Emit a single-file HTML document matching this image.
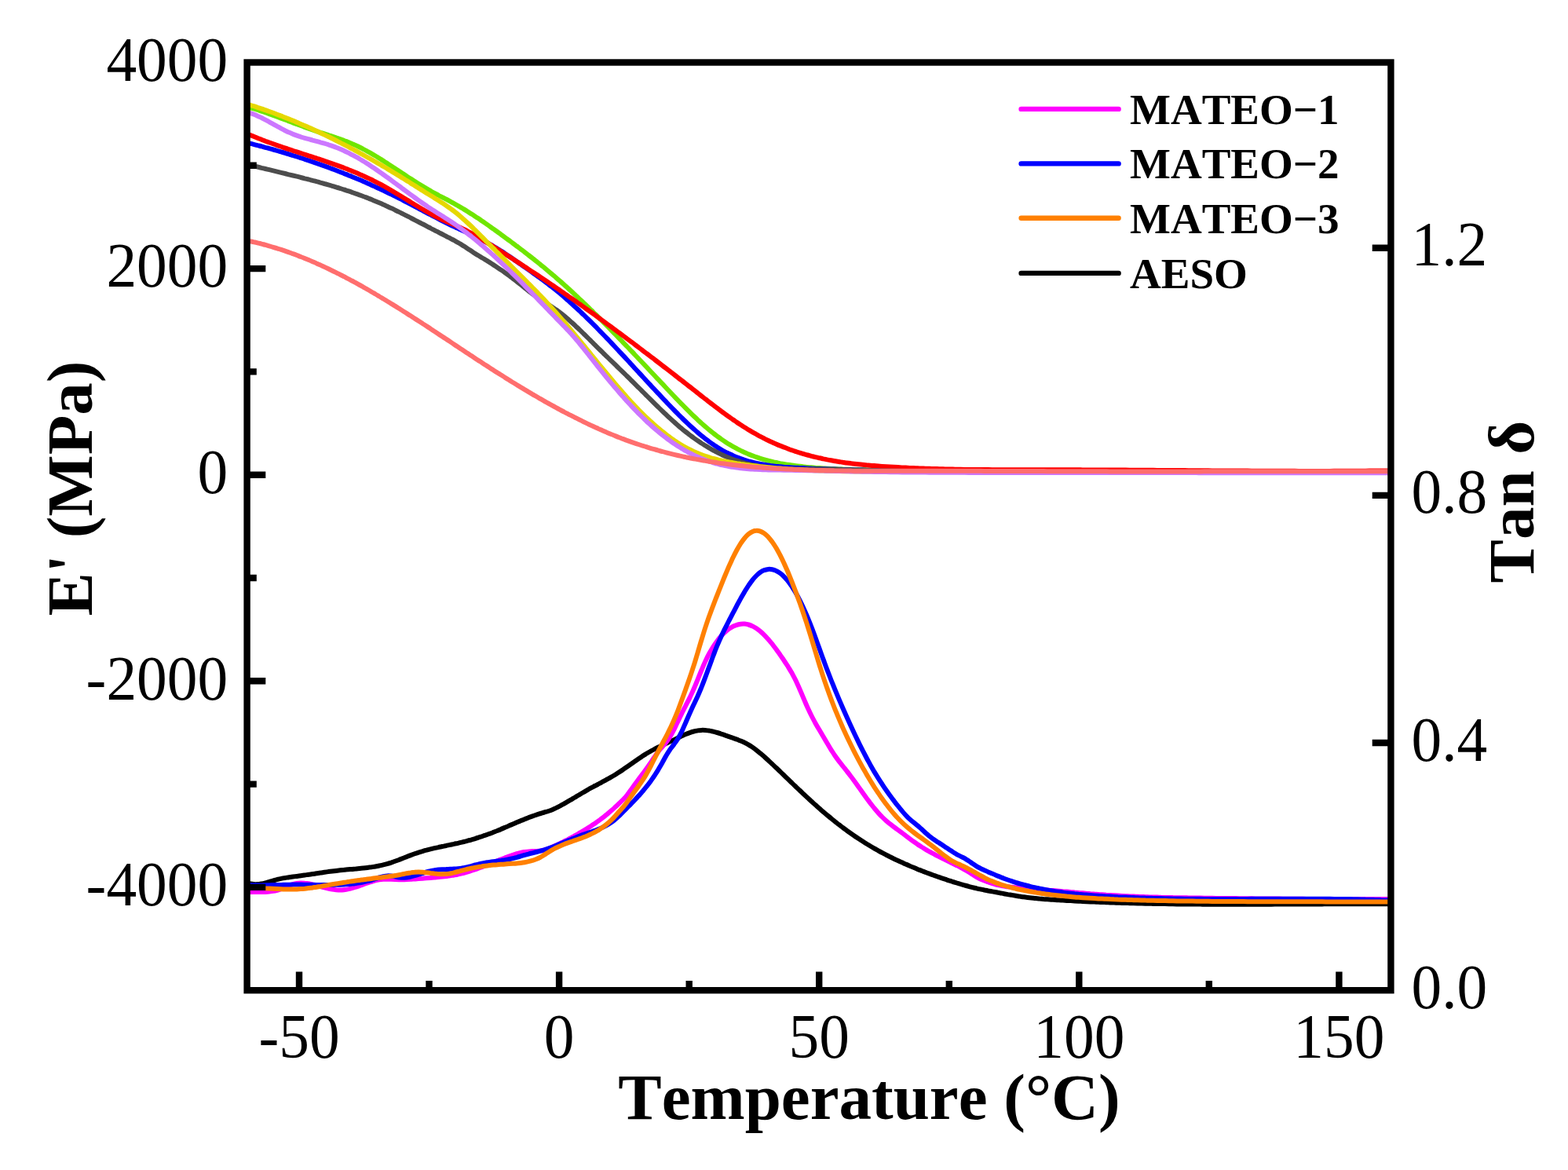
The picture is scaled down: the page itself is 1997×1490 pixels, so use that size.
<!DOCTYPE html>
<html><head><meta charset="utf-8"><title>DMA</title>
<style>html,body{margin:0;padding:0;background:#fff;overflow:hidden}svg{display:block}text{font-kerning:none;font-feature-settings:"kern" 0}</style>
</head><body>
<svg width="1997" height="1490" viewBox="0 0 1997 1490">
<rect width="1997" height="1490" fill="#fff"/>
<defs><clipPath id="pc"><rect x="314.6" y="79.5" width="1456.8" height="1181.7"/></clipPath></defs>
<g clip-path="url(#pc)" fill="none" stroke-width="6.0" stroke-linejoin="round" stroke-linecap="round">
<path stroke="#6fe600" d="M318.0 137.0 C318.8 137.2 321.3 137.9 323.0 138.5 C324.7 139.0 326.3 139.5 328.0 140.0 C329.7 140.5 331.3 141.1 333.0 141.6 C334.7 142.2 336.3 142.8 338.0 143.3 C339.7 143.9 341.3 144.5 343.0 145.1 C344.7 145.7 346.4 146.3 348.0 146.9 C349.7 147.5 351.4 148.1 353.0 148.7 C354.7 149.3 356.4 150.0 358.0 150.6 C359.7 151.2 361.4 151.8 363.0 152.5 C364.7 153.1 366.4 153.7 368.0 154.4 C369.7 155.0 371.4 155.6 373.0 156.3 C374.7 156.9 376.4 157.5 378.0 158.1 C379.7 158.8 381.4 159.4 383.0 160.0 C384.7 160.6 386.4 161.2 388.0 161.9 C389.7 162.5 391.4 163.1 393.1 163.7 C394.7 164.3 396.4 164.8 398.1 165.4 C399.7 166.0 401.4 166.6 403.1 167.1 C404.7 167.7 406.4 168.2 408.1 168.8 C409.7 169.3 411.4 169.9 413.1 170.4 C414.7 171.0 416.4 171.5 418.1 172.0 C419.7 172.6 421.4 173.1 423.1 173.7 C424.7 174.2 426.4 174.8 428.1 175.4 C429.7 175.9 431.4 176.5 433.1 177.1 C434.7 177.7 436.4 178.3 438.1 178.9 C439.8 179.6 441.4 180.2 443.1 180.9 C444.8 181.5 446.4 182.2 448.1 182.9 C449.8 183.6 451.4 184.4 453.1 185.1 C454.8 185.9 456.4 186.7 458.1 187.5 C459.8 188.3 461.4 189.2 463.1 190.1 C464.8 190.9 466.4 191.8 468.1 192.8 C469.8 193.7 471.4 194.6 473.1 195.6 C474.8 196.6 476.4 197.5 478.1 198.5 C479.8 199.5 481.4 200.6 483.1 201.6 C484.8 202.6 486.4 203.7 488.1 204.7 C489.8 205.8 491.5 206.9 493.1 207.9 C494.8 209.0 496.5 210.1 498.1 211.2 C499.8 212.3 501.5 213.4 503.1 214.5 C504.8 215.6 506.5 216.7 508.1 217.8 C509.8 218.9 511.5 220.0 513.1 221.1 C514.8 222.2 516.5 223.3 518.1 224.4 C519.8 225.5 521.5 226.6 523.1 227.6 C524.8 228.7 526.5 229.8 528.1 230.9 C529.8 231.9 531.5 233.0 533.1 234.0 C534.8 235.1 536.5 236.1 538.2 237.1 C539.8 238.1 541.5 239.1 543.2 240.1 C544.8 241.1 546.5 242.1 548.2 243.0 C549.8 244.0 551.5 244.9 553.2 245.8 C554.8 246.7 556.5 247.6 558.2 248.5 C559.8 249.4 561.5 250.2 563.2 251.1 C564.8 252.0 566.5 252.9 568.2 253.7 C569.8 254.6 571.5 255.5 573.2 256.4 C574.8 257.3 576.5 258.2 578.2 259.1 C579.8 260.0 581.5 261.0 583.2 262.0 C584.9 262.9 586.5 263.9 588.2 264.9 C589.9 265.9 591.5 266.9 593.2 267.9 C594.9 269.0 596.5 270.0 598.2 271.1 C599.9 272.1 601.5 273.2 603.2 274.3 C604.9 275.4 606.5 276.5 608.2 277.6 C609.9 278.7 611.5 279.8 613.2 281.0 C614.9 282.1 616.5 283.2 618.2 284.4 C619.9 285.6 621.5 286.7 623.2 287.9 C624.9 289.1 626.5 290.3 628.2 291.4 C629.9 292.6 631.5 293.8 633.2 295.0 C634.9 296.2 636.6 297.5 638.2 298.7 C639.9 299.9 641.6 301.1 643.2 302.3 C644.9 303.6 646.6 304.8 648.2 306.0 C649.9 307.3 651.6 308.5 653.2 309.8 C654.9 311.0 656.6 312.3 658.2 313.5 C659.9 314.8 661.6 316.0 663.2 317.3 C664.9 318.6 666.6 319.8 668.2 321.1 C669.9 322.4 671.6 323.7 673.2 325.0 C674.9 326.3 676.6 327.6 678.2 328.9 C679.9 330.2 681.6 331.6 683.3 332.9 C684.9 334.2 686.6 335.6 688.3 336.9 C689.9 338.3 691.6 339.6 693.3 341.0 C694.9 342.4 696.6 343.8 698.3 345.2 C699.9 346.6 701.6 348.0 703.3 349.4 C704.9 350.8 706.6 352.2 708.3 353.7 C709.9 355.1 711.6 356.6 713.3 358.0 C714.9 359.5 716.6 361.0 718.3 362.5 C719.9 363.9 721.6 365.5 723.3 367.0 C724.9 368.5 726.6 370.0 728.3 371.5 C730.0 373.1 731.6 374.6 733.3 376.2 C735.0 377.7 736.6 379.3 738.3 380.9 C740.0 382.4 741.6 384.0 743.3 385.6 C745.0 387.2 746.6 388.8 748.3 390.4 C750.0 392.0 751.6 393.7 753.3 395.3 C755.0 396.9 756.6 398.6 758.3 400.2 C760.0 401.9 761.6 403.5 763.3 405.2 C765.0 406.8 766.6 408.5 768.3 410.2 C770.0 411.9 771.6 413.5 773.3 415.2 C775.0 416.9 776.6 418.6 778.3 420.3 C780.0 422.0 781.7 423.7 783.3 425.4 C785.0 427.1 786.7 428.9 788.3 430.6 C790.0 432.3 791.7 434.0 793.3 435.8 C795.0 437.5 796.7 439.2 798.3 441.0 C800.0 442.7 801.7 444.5 803.3 446.2 C805.0 448.0 806.7 449.7 808.3 451.5 C810.0 453.2 811.7 455.0 813.3 456.7 C815.0 458.5 816.7 460.3 818.3 462.0 C820.0 463.8 821.7 465.6 823.3 467.3 C825.0 469.1 826.7 470.9 828.4 472.7 C830.0 474.4 831.7 476.2 833.4 478.0 C835.0 479.8 836.7 481.5 838.4 483.3 C840.0 485.1 841.7 486.9 843.4 488.6 C845.0 490.4 846.7 492.2 848.4 494.0 C850.0 495.7 851.7 497.5 853.4 499.3 C855.0 501.0 856.7 502.8 858.4 504.5 C860.0 506.3 861.7 508.0 863.4 509.7 C865.0 511.4 866.7 513.1 868.4 514.8 C870.0 516.5 871.7 518.2 873.4 519.9 C875.1 521.6 876.7 523.2 878.4 524.8 C880.1 526.5 881.7 528.1 883.4 529.7 C885.1 531.3 886.7 532.8 888.4 534.4 C890.1 535.9 891.7 537.5 893.4 539.0 C895.1 540.4 896.7 541.9 898.4 543.4 C900.1 544.8 901.7 546.2 903.4 547.6 C905.1 549.0 906.7 550.3 908.4 551.6 C910.1 553.0 911.7 554.2 913.4 555.5 C915.1 556.7 916.7 557.9 918.4 559.1 C920.1 560.3 921.7 561.4 923.4 562.5 C925.1 563.6 926.8 564.7 928.4 565.7 C930.1 566.7 931.8 567.7 933.4 568.6 C935.1 569.6 936.8 570.5 938.4 571.3 C940.1 572.2 941.8 573.1 943.4 573.9 C945.1 574.7 946.8 575.5 948.4 576.2 C950.1 576.9 951.8 577.7 953.4 578.4 C955.1 579.0 956.8 579.7 958.4 580.3 C960.1 581.0 961.8 581.6 963.4 582.1 C965.1 582.7 966.8 583.3 968.4 583.8 C970.1 584.3 971.8 584.8 973.5 585.3 C975.1 585.8 976.8 586.2 978.5 586.7 C980.1 587.1 981.8 587.5 983.5 587.9 C985.1 588.3 986.8 588.7 988.5 589.0 C990.1 589.4 991.8 589.7 993.5 590.1 C995.1 590.4 996.8 590.7 998.5 591.0 C1000.1 591.3 1001.8 591.5 1003.5 591.8 C1005.1 592.1 1006.8 592.3 1008.5 592.5 C1010.1 592.8 1011.8 593.0 1013.5 593.2 C1015.1 593.4 1016.8 593.6 1018.5 593.8 C1020.2 594.0 1021.8 594.2 1023.5 594.4 C1025.2 594.6 1026.8 594.7 1028.5 594.9 C1030.2 595.1 1031.8 595.2 1033.5 595.3 C1035.2 595.5 1036.8 595.6 1038.5 595.8 C1040.2 595.9 1041.8 596.0 1043.5 596.1 C1045.2 596.2 1046.8 596.3 1048.5 596.4 C1050.2 596.5 1051.8 596.6 1053.5 596.7 C1055.2 596.8 1056.8 596.9 1058.5 597.0 C1060.2 597.1 1061.8 597.1 1063.5 597.2 C1065.2 597.3 1066.8 597.3 1068.5 597.4 C1070.2 597.5 1071.9 597.5 1073.5 597.6 C1075.2 597.6 1076.9 597.7 1078.5 597.7 C1080.2 597.8 1081.9 597.8 1083.5 597.8 C1085.2 597.9 1086.9 597.9 1088.5 598.0 C1090.2 598.0 1091.9 598.0 1093.5 598.1 C1095.2 598.1 1096.9 598.1 1098.5 598.2 C1100.2 598.2 1101.9 598.2 1103.5 598.3 C1105.2 598.3 1106.9 598.3 1108.5 598.4 C1110.2 598.4 1111.9 598.4 1113.5 598.5 C1115.2 598.5 1116.9 598.5 1118.6 598.6 C1120.2 598.6 1121.9 598.6 1123.6 598.7 C1125.2 598.7 1126.9 598.7 1128.6 598.7 C1130.2 598.8 1131.9 598.8 1133.6 598.8 C1135.2 598.8 1136.9 598.9 1138.6 598.9 C1140.2 598.9 1141.9 599.0 1143.6 599.0 C1145.2 599.0 1146.9 599.0 1148.6 599.1 C1150.2 599.1 1151.9 599.1 1153.6 599.1 C1155.2 599.2 1156.9 599.2 1158.6 599.2 C1160.2 599.2 1161.9 599.3 1163.6 599.3 C1165.3 599.3 1166.9 599.3 1168.6 599.3 C1170.3 599.4 1171.9 599.4 1173.6 599.4 C1175.3 599.4 1176.9 599.4 1178.6 599.5 C1180.3 599.5 1181.9 599.5 1183.6 599.5 C1185.3 599.5 1186.9 599.6 1188.6 599.6 C1190.3 599.6 1191.9 599.6 1193.6 599.6 C1195.3 599.7 1196.9 599.7 1198.6 599.7 C1200.3 599.7 1201.9 599.7 1203.6 599.8 C1205.3 599.8 1206.9 599.8 1208.6 599.8 C1210.3 599.8 1211.9 599.8 1213.6 599.9 C1215.3 599.9 1217.0 599.9 1218.6 599.9 C1220.3 599.9 1222.0 599.9 1223.6 599.9 C1225.3 600.0 1227.0 600.0 1228.6 600.0 C1230.3 600.0 1232.0 600.0 1233.6 600.0 C1235.3 600.0 1237.0 600.1 1238.6 600.1 C1240.3 600.1 1242.0 600.1 1243.6 600.1 C1245.3 600.1 1247.0 600.1 1248.6 600.2 C1250.3 600.2 1252.0 600.2 1253.6 600.2 C1255.3 600.2 1257.0 600.2 1258.6 600.2 C1260.3 600.2 1262.0 600.2 1263.7 600.3 C1265.3 600.3 1267.0 600.3 1268.7 600.3 C1270.3 600.3 1272.0 600.3 1273.7 600.3 C1275.3 600.3 1277.0 600.3 1278.7 600.4 C1280.3 600.4 1282.0 600.4 1283.7 600.4 C1285.3 600.4 1287.0 600.4 1288.7 600.4 C1290.3 600.4 1292.0 600.4 1293.7 600.4 C1295.3 600.4 1297.0 600.4 1298.7 600.5 C1300.3 600.5 1302.0 600.5 1303.7 600.5 C1305.3 600.5 1307.0 600.5 1308.7 600.5 C1310.4 600.5 1312.0 600.5 1313.7 600.5 C1315.4 600.5 1317.0 600.5 1318.7 600.6 C1320.4 600.6 1322.0 600.6 1323.7 600.6 C1325.4 600.6 1327.0 600.6 1328.7 600.6 C1330.4 600.6 1332.0 600.6 1333.7 600.6 C1335.4 600.6 1337.0 600.6 1338.7 600.6 C1340.4 600.6 1342.0 600.6 1343.7 600.6 C1345.4 600.7 1347.0 600.7 1348.7 600.7 C1350.4 600.7 1352.0 600.7 1353.7 600.7 C1355.4 600.7 1357.0 600.7 1358.7 600.7 C1360.4 600.7 1362.1 600.7 1363.7 600.7 C1365.4 600.7 1367.1 600.7 1368.7 600.7 C1370.4 600.7 1372.1 600.7 1373.7 600.7 C1375.4 600.7 1377.1 600.7 1378.7 600.7 C1380.4 600.8 1382.1 600.8 1383.7 600.8 C1385.4 600.8 1387.1 600.8 1388.7 600.8 C1390.4 600.8 1392.1 600.8 1393.7 600.8 C1395.4 600.8 1397.1 600.8 1398.7 600.8 C1400.4 600.8 1402.1 600.8 1403.7 600.8 C1405.4 600.8 1407.1 600.8 1408.8 600.8 C1410.4 600.8 1412.1 600.8 1413.8 600.8 C1415.4 600.8 1417.1 600.8 1418.8 600.8 C1420.4 600.8 1422.1 600.8 1423.8 600.8 C1425.4 600.8 1427.1 600.8 1428.8 600.8 C1430.4 600.8 1432.1 600.8 1433.8 600.8 C1435.4 600.8 1437.1 600.8 1438.8 600.8 C1440.4 600.8 1442.1 600.9 1443.8 600.9 C1445.4 600.9 1447.1 600.9 1448.8 600.9 C1450.4 600.9 1452.1 600.9 1453.8 600.9 C1455.5 600.9 1457.1 600.9 1458.8 600.9 C1460.5 600.9 1462.1 600.9 1463.8 600.9 C1465.5 600.9 1467.1 600.9 1468.8 600.9 C1470.5 600.9 1472.1 600.9 1473.8 600.9 C1475.5 600.9 1477.1 600.9 1478.8 600.9 C1480.5 600.9 1482.1 600.9 1483.8 600.9 C1485.5 600.9 1487.1 600.9 1488.8 600.9 C1490.5 600.9 1492.1 600.9 1493.8 600.9 C1495.5 600.9 1497.1 600.9 1498.8 600.9 C1500.5 600.9 1502.1 600.9 1503.8 600.9 C1505.5 600.9 1507.2 600.9 1508.8 600.9 C1510.5 600.9 1512.2 600.9 1513.8 600.9 C1515.5 600.9 1517.2 600.9 1518.8 600.9 C1520.5 600.9 1522.2 600.9 1523.8 600.9 C1525.5 600.9 1527.2 600.9 1528.8 600.9 C1530.5 600.9 1532.2 600.9 1533.8 600.9 C1535.5 600.9 1537.2 600.9 1538.8 600.9 C1540.5 600.9 1542.2 600.9 1543.8 600.9 C1545.5 600.9 1547.2 600.9 1548.8 600.9 C1550.5 600.9 1552.2 600.9 1553.9 600.9 C1555.5 600.9 1557.2 600.9 1558.9 600.9 C1560.5 600.9 1562.2 600.9 1563.9 600.9 C1565.5 600.9 1567.2 600.9 1568.9 600.9 C1570.5 600.9 1572.2 600.9 1573.9 600.9 C1575.5 600.9 1577.2 600.9 1578.9 600.9 C1580.5 600.9 1582.2 600.9 1583.9 600.9 C1585.5 600.9 1587.2 600.9 1588.9 600.9 C1590.5 600.9 1592.2 600.9 1593.9 600.9 C1595.5 600.9 1597.2 600.9 1598.9 600.9 C1600.6 600.9 1602.2 600.9 1603.9 600.9 C1605.6 600.9 1607.2 600.9 1608.9 600.9 C1610.6 600.9 1612.2 600.9 1613.9 600.9 C1615.6 600.9 1617.2 600.9 1618.9 600.9 C1620.6 600.9 1622.2 600.9 1623.9 600.9 C1625.6 600.9 1627.2 600.9 1628.9 600.9 C1630.6 600.9 1632.2 600.9 1633.9 600.9 C1635.6 600.9 1637.2 600.9 1638.9 600.9 C1640.6 600.9 1642.2 600.9 1643.9 600.9 C1645.6 600.9 1647.2 600.9 1648.9 600.9 C1650.6 600.9 1652.3 600.9 1653.9 600.9 C1655.6 600.9 1657.3 600.9 1658.9 600.9 C1660.6 600.9 1662.3 600.9 1663.9 600.9 C1665.6 600.9 1667.3 600.9 1668.9 600.9 C1670.6 600.9 1672.3 600.9 1673.9 600.9 C1675.6 600.9 1677.3 600.9 1678.9 600.9 C1680.6 600.9 1682.3 600.9 1683.9 600.9 C1685.6 600.9 1687.3 600.9 1688.9 600.9 C1690.6 600.9 1692.3 600.9 1693.9 600.9 C1695.6 600.9 1697.3 600.9 1699.0 600.9 C1700.6 600.9 1702.3 600.9 1704.0 600.9 C1705.6 600.9 1707.3 600.9 1709.0 600.9 C1710.6 600.9 1712.3 600.9 1714.0 600.9 C1715.6 601.0 1717.3 601.0 1719.0 601.0 C1720.6 601.0 1722.3 601.0 1724.0 601.0 C1725.6 601.0 1727.3 601.0 1729.0 601.0 C1730.6 601.0 1732.3 601.0 1734.0 601.0 C1735.6 601.0 1737.3 601.0 1739.0 601.0 C1740.6 601.0 1742.3 601.0 1744.0 601.0 C1745.7 601.0 1747.3 601.0 1749.0 601.0 C1750.7 601.0 1752.3 601.0 1754.0 601.0 C1755.7 601.0 1757.3 601.0 1759.0 601.0 C1760.7 601.0 1762.3 601.0 1764.0 601.1 C1765.7 601.1 1768.2 601.1 1769.0 601.1"/>
<path stroke="#0000ff" d="M318.0 182.5 C318.8 182.7 321.3 183.4 323.0 183.8 C324.7 184.2 326.3 184.6 328.0 185.1 C329.7 185.5 331.3 186.0 333.0 186.4 C334.7 186.9 336.3 187.3 338.0 187.8 C339.7 188.2 341.3 188.7 343.0 189.1 C344.7 189.6 346.4 190.1 348.0 190.5 C349.7 191.0 351.4 191.5 353.0 192.0 C354.7 192.5 356.4 192.9 358.0 193.4 C359.7 193.9 361.4 194.4 363.0 194.9 C364.7 195.4 366.4 195.9 368.0 196.4 C369.7 196.9 371.4 197.5 373.0 198.0 C374.7 198.5 376.4 199.0 378.0 199.5 C379.7 200.1 381.4 200.6 383.0 201.2 C384.7 201.7 386.4 202.2 388.0 202.8 C389.7 203.3 391.4 203.9 393.1 204.4 C394.7 205.0 396.4 205.6 398.1 206.1 C399.7 206.7 401.4 207.3 403.1 207.9 C404.7 208.4 406.4 209.0 408.1 209.6 C409.7 210.2 411.4 210.8 413.1 211.4 C414.7 212.0 416.4 212.6 418.1 213.2 C419.7 213.9 421.4 214.5 423.1 215.1 C424.7 215.7 426.4 216.4 428.1 217.0 C429.7 217.6 431.4 218.3 433.1 218.9 C434.7 219.6 436.4 220.2 438.1 220.9 C439.8 221.6 441.4 222.2 443.1 222.9 C444.8 223.6 446.4 224.2 448.1 224.9 C449.8 225.6 451.4 226.3 453.1 227.0 C454.8 227.7 456.4 228.4 458.1 229.1 C459.8 229.8 461.4 230.5 463.1 231.3 C464.8 232.0 466.4 232.7 468.1 233.5 C469.8 234.2 471.4 234.9 473.1 235.7 C474.8 236.4 476.4 237.2 478.1 238.0 C479.8 238.7 481.4 239.5 483.1 240.3 C484.8 241.0 486.4 241.8 488.1 242.6 C489.8 243.4 491.5 244.2 493.1 245.0 C494.8 245.8 496.5 246.6 498.1 247.4 C499.8 248.2 501.5 249.1 503.1 249.9 C504.8 250.7 506.5 251.6 508.1 252.4 C509.8 253.3 511.5 254.1 513.1 255.0 C514.8 255.8 516.5 256.7 518.1 257.6 C519.8 258.4 521.5 259.3 523.1 260.2 C524.8 261.1 526.5 261.9 528.1 262.8 C529.8 263.7 531.5 264.6 533.1 265.5 C534.8 266.4 536.5 267.3 538.2 268.1 C539.8 269.0 541.5 269.9 543.2 270.8 C544.8 271.7 546.5 272.6 548.2 273.4 C549.8 274.3 551.5 275.2 553.2 276.0 C554.8 276.9 556.5 277.8 558.2 278.6 C559.8 279.5 561.5 280.4 563.2 281.2 C564.8 282.0 566.5 282.9 568.2 283.7 C569.8 284.5 571.5 285.4 573.2 286.2 C574.8 287.0 576.5 287.8 578.2 288.6 C579.8 289.4 581.5 290.1 583.2 290.9 C584.9 291.7 586.5 292.5 588.2 293.2 C589.9 294.0 591.5 294.8 593.2 295.5 C594.9 296.3 596.5 297.1 598.2 297.9 C599.9 298.6 601.5 299.4 603.2 300.2 C604.9 301.0 606.5 301.8 608.2 302.6 C609.9 303.5 611.5 304.3 613.2 305.2 C614.9 306.0 616.5 306.9 618.2 307.8 C619.9 308.7 621.5 309.6 623.2 310.6 C624.9 311.5 626.5 312.5 628.2 313.5 C629.9 314.5 631.5 315.5 633.2 316.5 C634.9 317.5 636.6 318.6 638.2 319.7 C639.9 320.7 641.6 321.8 643.2 322.9 C644.9 324.0 646.6 325.1 648.2 326.2 C649.9 327.4 651.6 328.5 653.2 329.6 C654.9 330.8 656.6 331.9 658.2 333.1 C659.9 334.3 661.6 335.4 663.2 336.6 C664.9 337.8 666.6 338.9 668.2 340.1 C669.9 341.3 671.6 342.5 673.2 343.6 C674.9 344.8 676.6 346.0 678.2 347.2 C679.9 348.4 681.6 349.6 683.3 350.8 C684.9 352.0 686.6 353.2 688.3 354.4 C689.9 355.6 691.6 356.8 693.3 358.1 C694.9 359.3 696.6 360.6 698.3 361.8 C699.9 363.1 701.6 364.4 703.3 365.7 C704.9 367.0 706.6 368.3 708.3 369.7 C709.9 371.0 711.6 372.4 713.3 373.8 C714.9 375.2 716.6 376.6 718.3 378.0 C719.9 379.5 721.6 380.9 723.3 382.4 C724.9 383.9 726.6 385.4 728.3 386.9 C730.0 388.4 731.6 389.9 733.3 391.5 C735.0 393.0 736.6 394.6 738.3 396.1 C740.0 397.7 741.6 399.3 743.3 400.9 C745.0 402.5 746.6 404.1 748.3 405.8 C750.0 407.4 751.6 409.0 753.3 410.7 C755.0 412.4 756.6 414.0 758.3 415.7 C760.0 417.4 761.6 419.1 763.3 420.8 C765.0 422.5 766.6 424.2 768.3 426.0 C770.0 427.7 771.6 429.4 773.3 431.2 C775.0 432.9 776.6 434.7 778.3 436.4 C780.0 438.2 781.7 440.0 783.3 441.7 C785.0 443.5 786.7 445.3 788.3 447.1 C790.0 448.9 791.7 450.6 793.3 452.4 C795.0 454.2 796.7 456.0 798.3 457.8 C800.0 459.6 801.7 461.4 803.3 463.3 C805.0 465.1 806.7 466.9 808.3 468.7 C810.0 470.5 811.7 472.3 813.3 474.1 C815.0 475.9 816.7 477.7 818.3 479.5 C820.0 481.3 821.7 483.2 823.3 485.0 C825.0 486.8 826.7 488.6 828.4 490.4 C830.0 492.2 831.7 494.0 833.4 495.8 C835.0 497.6 836.7 499.3 838.4 501.1 C840.0 502.9 841.7 504.7 843.4 506.5 C845.0 508.2 846.7 510.0 848.4 511.7 C850.0 513.5 851.7 515.2 853.4 517.0 C855.0 518.7 856.7 520.4 858.4 522.1 C860.0 523.8 861.7 525.5 863.4 527.2 C865.0 528.9 866.7 530.5 868.4 532.1 C870.0 533.8 871.7 535.4 873.4 537.0 C875.1 538.6 876.7 540.1 878.4 541.7 C880.1 543.2 881.7 544.7 883.4 546.2 C885.1 547.7 886.7 549.2 888.4 550.6 C890.1 552.0 891.7 553.4 893.4 554.8 C895.1 556.1 896.7 557.5 898.4 558.8 C900.1 560.1 901.7 561.3 903.4 562.6 C905.1 563.8 906.7 565.0 908.4 566.1 C910.1 567.3 911.7 568.4 913.4 569.4 C915.1 570.5 916.7 571.5 918.4 572.5 C920.1 573.5 921.7 574.4 923.4 575.3 C925.1 576.2 926.8 577.0 928.4 577.8 C930.1 578.6 931.8 579.4 933.4 580.1 C935.1 580.9 936.8 581.6 938.4 582.2 C940.1 582.9 941.8 583.5 943.4 584.1 C945.1 584.7 946.8 585.3 948.4 585.8 C950.1 586.4 951.8 586.9 953.4 587.4 C955.1 587.8 956.8 588.3 958.4 588.7 C960.1 589.1 961.8 589.5 963.4 589.9 C965.1 590.3 966.8 590.6 968.4 590.9 C970.1 591.2 971.8 591.5 973.5 591.8 C975.1 592.1 976.8 592.4 978.5 592.6 C980.1 592.8 981.8 593.1 983.5 593.3 C985.1 593.5 986.8 593.7 988.5 593.9 C990.1 594.0 991.8 594.2 993.5 594.3 C995.1 594.5 996.8 594.6 998.5 594.8 C1000.1 594.9 1001.8 595.0 1003.5 595.1 C1005.1 595.2 1006.8 595.3 1008.5 595.4 C1010.1 595.5 1011.8 595.6 1013.5 595.7 C1015.1 595.8 1016.8 595.8 1018.5 595.9 C1020.2 596.0 1021.8 596.1 1023.5 596.1 C1025.2 596.2 1026.8 596.3 1028.5 596.4 C1030.2 596.4 1031.8 596.5 1033.5 596.6 C1035.2 596.6 1036.8 596.7 1038.5 596.8 C1040.2 596.8 1041.8 596.9 1043.5 597.0 C1045.2 597.0 1046.8 597.1 1048.5 597.1 C1050.2 597.2 1051.8 597.3 1053.5 597.3 C1055.2 597.4 1056.8 597.4 1058.5 597.5 C1060.2 597.5 1061.8 597.6 1063.5 597.6 C1065.2 597.7 1066.8 597.7 1068.5 597.8 C1070.2 597.8 1071.9 597.9 1073.5 597.9 C1075.2 598.0 1076.9 598.0 1078.5 598.1 C1080.2 598.1 1081.9 598.2 1083.5 598.2 C1085.2 598.3 1086.9 598.3 1088.5 598.4 C1090.2 598.4 1091.9 598.4 1093.5 598.5 C1095.2 598.5 1096.9 598.6 1098.5 598.6 C1100.2 598.6 1101.9 598.7 1103.5 598.7 C1105.2 598.8 1106.9 598.8 1108.5 598.8 C1110.2 598.9 1111.9 598.9 1113.5 598.9 C1115.2 599.0 1116.9 599.0 1118.6 599.0 C1120.2 599.1 1121.9 599.1 1123.6 599.1 C1125.2 599.2 1126.9 599.2 1128.6 599.2 C1130.2 599.3 1131.9 599.3 1133.6 599.3 C1135.2 599.4 1136.9 599.4 1138.6 599.4 C1140.2 599.5 1141.9 599.5 1143.6 599.5 C1145.2 599.5 1146.9 599.6 1148.6 599.6 C1150.2 599.6 1151.9 599.7 1153.6 599.7 C1155.2 599.7 1156.9 599.7 1158.6 599.8 C1160.2 599.8 1161.9 599.8 1163.6 599.8 C1165.3 599.9 1166.9 599.9 1168.6 599.9 C1170.3 599.9 1171.9 600.0 1173.6 600.0 C1175.3 600.0 1176.9 600.0 1178.6 600.1 C1180.3 600.1 1181.9 600.1 1183.6 600.1 C1185.3 600.1 1186.9 600.2 1188.6 600.2 C1190.3 600.2 1191.9 600.2 1193.6 600.2 C1195.3 600.3 1196.9 600.3 1198.6 600.3 C1200.3 600.3 1201.9 600.3 1203.6 600.4 C1205.3 600.4 1206.9 600.4 1208.6 600.4 C1210.3 600.4 1211.9 600.5 1213.6 600.5 C1215.3 600.5 1217.0 600.5 1218.6 600.5 C1220.3 600.5 1222.0 600.6 1223.6 600.6 C1225.3 600.6 1227.0 600.6 1228.6 600.6 C1230.3 600.6 1232.0 600.6 1233.6 600.7 C1235.3 600.7 1237.0 600.7 1238.6 600.7 C1240.3 600.7 1242.0 600.7 1243.6 600.7 C1245.3 600.8 1247.0 600.8 1248.6 600.8 C1250.3 600.8 1252.0 600.8 1253.6 600.8 C1255.3 600.8 1257.0 600.8 1258.6 600.9 C1260.3 600.9 1262.0 600.9 1263.7 600.9 C1265.3 600.9 1267.0 600.9 1268.7 600.9 C1270.3 600.9 1272.0 600.9 1273.7 601.0 C1275.3 601.0 1277.0 601.0 1278.7 601.0 C1280.3 601.0 1282.0 601.0 1283.7 601.0 C1285.3 601.0 1287.0 601.0 1288.7 601.0 C1290.3 601.0 1292.0 601.1 1293.7 601.1 C1295.3 601.1 1297.0 601.1 1298.7 601.1 C1300.3 601.1 1302.0 601.1 1303.7 601.1 C1305.3 601.1 1307.0 601.1 1308.7 601.1 C1310.4 601.1 1312.0 601.2 1313.7 601.2 C1315.4 601.2 1317.0 601.2 1318.7 601.2 C1320.4 601.2 1322.0 601.2 1323.7 601.2 C1325.4 601.2 1327.0 601.2 1328.7 601.2 C1330.4 601.2 1332.0 601.2 1333.7 601.2 C1335.4 601.2 1337.0 601.2 1338.7 601.3 C1340.4 601.3 1342.0 601.3 1343.7 601.3 C1345.4 601.3 1347.0 601.3 1348.7 601.3 C1350.4 601.3 1352.0 601.3 1353.7 601.3 C1355.4 601.3 1357.0 601.3 1358.7 601.3 C1360.4 601.3 1362.1 601.3 1363.7 601.3 C1365.4 601.3 1367.1 601.3 1368.7 601.4 C1370.4 601.4 1372.1 601.4 1373.7 601.4 C1375.4 601.4 1377.1 601.4 1378.7 601.4 C1380.4 601.4 1382.1 601.4 1383.7 601.4 C1385.4 601.4 1387.1 601.4 1388.7 601.4 C1390.4 601.4 1392.1 601.4 1393.7 601.4 C1395.4 601.4 1397.1 601.4 1398.7 601.4 C1400.4 601.4 1402.1 601.4 1403.7 601.4 C1405.4 601.4 1407.1 601.4 1408.8 601.4 C1410.4 601.4 1412.1 601.5 1413.8 601.5 C1415.4 601.5 1417.1 601.5 1418.8 601.5 C1420.4 601.5 1422.1 601.5 1423.8 601.5 C1425.4 601.5 1427.1 601.5 1428.8 601.5 C1430.4 601.5 1432.1 601.5 1433.8 601.5 C1435.4 601.5 1437.1 601.5 1438.8 601.5 C1440.4 601.5 1442.1 601.5 1443.8 601.5 C1445.4 601.5 1447.1 601.5 1448.8 601.5 C1450.4 601.5 1452.1 601.5 1453.8 601.5 C1455.5 601.5 1457.1 601.5 1458.8 601.5 C1460.5 601.5 1462.1 601.5 1463.8 601.5 C1465.5 601.5 1467.1 601.5 1468.8 601.5 C1470.5 601.5 1472.1 601.5 1473.8 601.5 C1475.5 601.5 1477.1 601.5 1478.8 601.5 C1480.5 601.5 1482.1 601.5 1483.8 601.5 C1485.5 601.5 1487.1 601.5 1488.8 601.5 C1490.5 601.5 1492.1 601.6 1493.8 601.6 C1495.5 601.6 1497.1 601.6 1498.8 601.6 C1500.5 601.6 1502.1 601.6 1503.8 601.6 C1505.5 601.6 1507.2 601.6 1508.8 601.6 C1510.5 601.6 1512.2 601.6 1513.8 601.6 C1515.5 601.6 1517.2 601.6 1518.8 601.6 C1520.5 601.6 1522.2 601.6 1523.8 601.6 C1525.5 601.6 1527.2 601.6 1528.8 601.6 C1530.5 601.6 1532.2 601.6 1533.8 601.6 C1535.5 601.6 1537.2 601.6 1538.8 601.6 C1540.5 601.6 1542.2 601.6 1543.8 601.6 C1545.5 601.6 1547.2 601.6 1548.8 601.6 C1550.5 601.6 1552.2 601.6 1553.9 601.6 C1555.5 601.6 1557.2 601.6 1558.9 601.6 C1560.5 601.6 1562.2 601.6 1563.9 601.6 C1565.5 601.6 1567.2 601.6 1568.9 601.6 C1570.5 601.6 1572.2 601.6 1573.9 601.6 C1575.5 601.6 1577.2 601.6 1578.9 601.6 C1580.5 601.6 1582.2 601.6 1583.9 601.6 C1585.5 601.6 1587.2 601.6 1588.9 601.6 C1590.5 601.6 1592.2 601.6 1593.9 601.6 C1595.5 601.6 1597.2 601.6 1598.9 601.6 C1600.6 601.6 1602.2 601.6 1603.9 601.6 C1605.6 601.6 1607.2 601.6 1608.9 601.6 C1610.6 601.6 1612.2 601.6 1613.9 601.6 C1615.6 601.6 1617.2 601.6 1618.9 601.6 C1620.6 601.6 1622.2 601.6 1623.9 601.6 C1625.6 601.6 1627.2 601.6 1628.9 601.6 C1630.6 601.6 1632.2 601.6 1633.9 601.6 C1635.6 601.6 1637.2 601.6 1638.9 601.6 C1640.6 601.6 1642.2 601.6 1643.9 601.6 C1645.6 601.6 1647.2 601.6 1648.9 601.6 C1650.6 601.6 1652.3 601.6 1653.9 601.6 C1655.6 601.6 1657.3 601.6 1658.9 601.6 C1660.6 601.6 1662.3 601.7 1663.9 601.7 C1665.6 601.7 1667.3 601.7 1668.9 601.7 C1670.6 601.7 1672.3 601.7 1673.9 601.7 C1675.6 601.7 1677.3 601.7 1678.9 601.7 C1680.6 601.7 1682.3 601.7 1683.9 601.7 C1685.6 601.7 1687.3 601.7 1688.9 601.7 C1690.6 601.7 1692.3 601.7 1693.9 601.7 C1695.6 601.7 1697.3 601.7 1699.0 601.7 C1700.6 601.7 1702.3 601.7 1704.0 601.7 C1705.6 601.7 1707.3 601.7 1709.0 601.7 C1710.6 601.7 1712.3 601.7 1714.0 601.7 C1715.6 601.7 1717.3 601.7 1719.0 601.7 C1720.6 601.7 1722.3 601.7 1724.0 601.7 C1725.6 601.7 1727.3 601.7 1729.0 601.7 C1730.6 601.8 1732.3 601.8 1734.0 601.8 C1735.6 601.8 1737.3 601.8 1739.0 601.8 C1740.6 601.8 1742.3 601.8 1744.0 601.8 C1745.7 601.8 1747.3 601.8 1749.0 601.8 C1750.7 601.8 1752.3 601.8 1754.0 601.8 C1755.7 601.8 1757.3 601.8 1759.0 601.8 C1760.7 601.8 1762.3 601.8 1764.0 601.8 C1765.7 601.8 1768.2 601.8 1769.0 601.8"/>
<path stroke="#ff0000" d="M318.0 171.6 C318.8 172.0 321.3 173.1 323.0 173.7 C324.7 174.4 326.3 175.1 328.0 175.8 C329.7 176.4 331.3 177.1 333.0 177.7 C334.7 178.4 336.3 179.0 338.0 179.7 C339.7 180.3 341.3 180.9 343.0 181.5 C344.7 182.1 346.4 182.7 348.0 183.3 C349.7 183.9 351.4 184.5 353.0 185.1 C354.7 185.7 356.4 186.2 358.0 186.8 C359.7 187.4 361.4 187.9 363.0 188.5 C364.7 189.0 366.4 189.6 368.0 190.2 C369.7 190.7 371.4 191.2 373.0 191.8 C374.7 192.3 376.4 192.9 378.0 193.4 C379.7 194.0 381.4 194.5 383.0 195.0 C384.7 195.6 386.4 196.1 388.0 196.7 C389.7 197.2 391.4 197.7 393.1 198.3 C394.7 198.8 396.4 199.3 398.1 199.9 C399.7 200.4 401.4 201.0 403.1 201.5 C404.7 202.1 406.4 202.6 408.1 203.2 C409.7 203.7 411.4 204.3 413.1 204.9 C414.7 205.4 416.4 206.0 418.1 206.6 C419.7 207.1 421.4 207.7 423.1 208.3 C424.7 208.9 426.4 209.5 428.1 210.1 C429.7 210.7 431.4 211.3 433.1 211.9 C434.7 212.5 436.4 213.1 438.1 213.8 C439.8 214.4 441.4 215.1 443.1 215.7 C444.8 216.4 446.4 217.0 448.1 217.7 C449.8 218.4 451.4 219.1 453.1 219.8 C454.8 220.5 456.4 221.2 458.1 221.9 C459.8 222.6 461.4 223.4 463.1 224.1 C464.8 224.9 466.4 225.7 468.1 226.4 C469.8 227.2 471.4 228.0 473.1 228.8 C474.8 229.6 476.4 230.5 478.1 231.3 C479.8 232.2 481.4 233.0 483.1 233.9 C484.8 234.8 486.4 235.7 488.1 236.6 C489.8 237.5 491.5 238.5 493.1 239.4 C494.8 240.4 496.5 241.3 498.1 242.3 C499.8 243.3 501.5 244.3 503.1 245.3 C504.8 246.3 506.5 247.3 508.1 248.3 C509.8 249.3 511.5 250.3 513.1 251.3 C514.8 252.3 516.5 253.4 518.1 254.4 C519.8 255.4 521.5 256.4 523.1 257.5 C524.8 258.5 526.5 259.5 528.1 260.5 C529.8 261.5 531.5 262.5 533.1 263.5 C534.8 264.5 536.5 265.5 538.2 266.5 C539.8 267.4 541.5 268.4 543.2 269.3 C544.8 270.3 546.5 271.2 548.2 272.1 C549.8 273.0 551.5 273.9 553.2 274.8 C554.8 275.7 556.5 276.5 558.2 277.4 C559.8 278.2 561.5 279.0 563.2 279.8 C564.8 280.6 566.5 281.3 568.2 282.0 C569.8 282.8 571.5 283.5 573.2 284.2 C574.8 284.9 576.5 285.6 578.2 286.3 C579.8 287.0 581.5 287.7 583.2 288.5 C584.9 289.2 586.5 290.0 588.2 290.8 C589.9 291.5 591.5 292.4 593.2 293.2 C594.9 294.1 596.5 295.0 598.2 295.9 C599.9 296.8 601.5 297.7 603.2 298.7 C604.9 299.6 606.5 300.6 608.2 301.6 C609.9 302.6 611.5 303.6 613.2 304.7 C614.9 305.7 616.5 306.7 618.2 307.7 C619.9 308.8 621.5 309.8 623.2 310.8 C624.9 311.9 626.5 312.9 628.2 313.9 C629.9 315.0 631.5 316.0 633.2 317.1 C634.9 318.1 636.6 319.2 638.2 320.2 C639.9 321.3 641.6 322.4 643.2 323.4 C644.9 324.5 646.6 325.5 648.2 326.6 C649.9 327.7 651.6 328.8 653.2 329.8 C654.9 330.9 656.6 332.0 658.2 333.1 C659.9 334.1 661.6 335.2 663.2 336.3 C664.9 337.4 666.6 338.5 668.2 339.6 C669.9 340.7 671.6 341.8 673.2 342.9 C674.9 344.0 676.6 345.1 678.2 346.2 C679.9 347.3 681.6 348.4 683.3 349.5 C684.9 350.6 686.6 351.7 688.3 352.9 C689.9 354.0 691.6 355.1 693.3 356.2 C694.9 357.3 696.6 358.5 698.3 359.6 C699.9 360.7 701.6 361.9 703.3 363.0 C704.9 364.1 706.6 365.3 708.3 366.4 C709.9 367.6 711.6 368.7 713.3 369.9 C714.9 371.0 716.6 372.2 718.3 373.3 C719.9 374.5 721.6 375.6 723.3 376.8 C724.9 378.0 726.6 379.1 728.3 380.3 C730.0 381.5 731.6 382.6 733.3 383.8 C735.0 385.0 736.6 386.2 738.3 387.3 C740.0 388.5 741.6 389.7 743.3 390.9 C745.0 392.1 746.6 393.3 748.3 394.5 C750.0 395.7 751.6 396.8 753.3 398.0 C755.0 399.2 756.6 400.4 758.3 401.6 C760.0 402.9 761.6 404.1 763.3 405.3 C765.0 406.5 766.6 407.7 768.3 408.9 C770.0 410.1 771.6 411.3 773.3 412.6 C775.0 413.8 776.6 415.0 778.3 416.2 C780.0 417.5 781.7 418.7 783.3 419.9 C785.0 421.2 786.7 422.4 788.3 423.6 C790.0 424.9 791.7 426.1 793.3 427.4 C795.0 428.6 796.7 429.8 798.3 431.1 C800.0 432.3 801.7 433.6 803.3 434.8 C805.0 436.1 806.7 437.3 808.3 438.6 C810.0 439.9 811.7 441.1 813.3 442.4 C815.0 443.6 816.7 444.9 818.3 446.2 C820.0 447.4 821.7 448.7 823.3 450.0 C825.0 451.2 826.7 452.5 828.4 453.8 C830.0 455.1 831.7 456.3 833.4 457.6 C835.0 458.9 836.7 460.2 838.4 461.5 C840.0 462.7 841.7 464.0 843.4 465.3 C845.0 466.6 846.7 467.9 848.4 469.2 C850.0 470.5 851.7 471.7 853.4 473.0 C855.0 474.3 856.7 475.6 858.4 476.9 C860.0 478.2 861.7 479.5 863.4 480.8 C865.0 482.1 866.7 483.4 868.4 484.7 C870.0 486.0 871.7 487.3 873.4 488.6 C875.1 489.9 876.7 491.2 878.4 492.5 C880.1 493.8 881.7 495.1 883.4 496.4 C885.1 497.7 886.7 499.0 888.4 500.4 C890.1 501.7 891.7 503.0 893.4 504.3 C895.1 505.6 896.7 506.9 898.4 508.2 C900.1 509.5 901.7 510.8 903.4 512.1 C905.1 513.4 906.7 514.6 908.4 515.9 C910.1 517.2 911.7 518.5 913.4 519.7 C915.1 521.0 916.7 522.2 918.4 523.5 C920.1 524.7 921.7 525.9 923.4 527.2 C925.1 528.4 926.8 529.6 928.4 530.8 C930.1 532.0 931.8 533.1 933.4 534.3 C935.1 535.5 936.8 536.6 938.4 537.7 C940.1 538.9 941.8 540.0 943.4 541.1 C945.1 542.2 946.8 543.3 948.4 544.3 C950.1 545.4 951.8 546.4 953.4 547.4 C955.1 548.4 956.8 549.4 958.4 550.4 C960.1 551.4 961.8 552.3 963.4 553.2 C965.1 554.1 966.8 555.1 968.4 555.9 C970.1 556.8 971.8 557.7 973.5 558.5 C975.1 559.4 976.8 560.2 978.5 561.0 C980.1 561.8 981.8 562.6 983.5 563.3 C985.1 564.1 986.8 564.8 988.5 565.5 C990.1 566.3 991.8 567.0 993.5 567.6 C995.1 568.3 996.8 569.0 998.5 569.6 C1000.1 570.3 1001.8 570.9 1003.5 571.5 C1005.1 572.2 1006.8 572.8 1008.5 573.3 C1010.1 573.9 1011.8 574.5 1013.5 575.0 C1015.1 575.6 1016.8 576.1 1018.5 576.6 C1020.2 577.1 1021.8 577.6 1023.5 578.1 C1025.2 578.6 1026.8 579.1 1028.5 579.5 C1030.2 580.0 1031.8 580.4 1033.5 580.9 C1035.2 581.3 1036.8 581.7 1038.5 582.1 C1040.2 582.5 1041.8 582.9 1043.5 583.3 C1045.2 583.6 1046.8 584.0 1048.5 584.4 C1050.2 584.7 1051.8 585.0 1053.5 585.4 C1055.2 585.7 1056.8 586.0 1058.5 586.3 C1060.2 586.6 1061.8 586.9 1063.5 587.2 C1065.2 587.5 1066.8 587.8 1068.5 588.0 C1070.2 588.3 1071.9 588.5 1073.5 588.8 C1075.2 589.0 1076.9 589.3 1078.5 589.5 C1080.2 589.7 1081.9 589.9 1083.5 590.1 C1085.2 590.4 1086.9 590.6 1088.5 590.7 C1090.2 590.9 1091.9 591.1 1093.5 591.3 C1095.2 591.5 1096.9 591.7 1098.5 591.8 C1100.2 592.0 1101.9 592.1 1103.5 592.3 C1105.2 592.4 1106.9 592.6 1108.5 592.7 C1110.2 592.9 1111.9 593.0 1113.5 593.1 C1115.2 593.3 1116.9 593.4 1118.6 593.5 C1120.2 593.7 1121.9 593.8 1123.6 593.9 C1125.2 594.0 1126.9 594.1 1128.6 594.2 C1130.2 594.3 1131.9 594.4 1133.6 594.5 C1135.2 594.6 1136.9 594.7 1138.6 594.8 C1140.2 594.9 1141.9 595.0 1143.6 595.1 C1145.2 595.2 1146.9 595.3 1148.6 595.4 C1150.2 595.5 1151.9 595.6 1153.6 595.6 C1155.2 595.7 1156.9 595.8 1158.6 595.9 C1160.2 596.0 1161.9 596.0 1163.6 596.1 C1165.3 596.2 1166.9 596.2 1168.6 596.3 C1170.3 596.4 1171.9 596.4 1173.6 596.5 C1175.3 596.6 1176.9 596.6 1178.6 596.7 C1180.3 596.7 1181.9 596.8 1183.6 596.8 C1185.3 596.9 1186.9 597.0 1188.6 597.0 C1190.3 597.0 1191.9 597.1 1193.6 597.1 C1195.3 597.2 1196.9 597.2 1198.6 597.3 C1200.3 597.3 1201.9 597.4 1203.6 597.4 C1205.3 597.4 1206.9 597.5 1208.6 597.5 C1210.3 597.5 1211.9 597.6 1213.6 597.6 C1215.3 597.6 1217.0 597.7 1218.6 597.7 C1220.3 597.7 1222.0 597.8 1223.6 597.8 C1225.3 597.8 1227.0 597.8 1228.6 597.9 C1230.3 597.9 1232.0 597.9 1233.6 597.9 C1235.3 597.9 1237.0 598.0 1238.6 598.0 C1240.3 598.0 1242.0 598.0 1243.6 598.0 C1245.3 598.0 1247.0 598.1 1248.6 598.1 C1250.3 598.1 1252.0 598.1 1253.6 598.1 C1255.3 598.1 1257.0 598.1 1258.6 598.1 C1260.3 598.2 1262.0 598.2 1263.7 598.2 C1265.3 598.2 1267.0 598.2 1268.7 598.2 C1270.3 598.2 1272.0 598.2 1273.7 598.2 C1275.3 598.2 1277.0 598.2 1278.7 598.2 C1280.3 598.2 1282.0 598.2 1283.7 598.2 C1285.3 598.2 1287.0 598.2 1288.7 598.2 C1290.3 598.2 1292.0 598.3 1293.7 598.3 C1295.3 598.3 1297.0 598.3 1298.7 598.3 C1300.3 598.3 1302.0 598.3 1303.7 598.3 C1305.3 598.3 1307.0 598.3 1308.7 598.3 C1310.4 598.3 1312.0 598.3 1313.7 598.3 C1315.4 598.3 1317.0 598.3 1318.7 598.3 C1320.4 598.3 1322.0 598.3 1323.7 598.3 C1325.4 598.3 1327.0 598.3 1328.7 598.3 C1330.4 598.3 1332.0 598.3 1333.7 598.3 C1335.4 598.3 1337.0 598.3 1338.7 598.3 C1340.4 598.3 1342.0 598.3 1343.7 598.3 C1345.4 598.3 1347.0 598.3 1348.7 598.3 C1350.4 598.3 1352.0 598.3 1353.7 598.3 C1355.4 598.3 1357.0 598.3 1358.7 598.3 C1360.4 598.3 1362.1 598.3 1363.7 598.3 C1365.4 598.3 1367.1 598.3 1368.7 598.3 C1370.4 598.3 1372.1 598.3 1373.7 598.3 C1375.4 598.3 1377.1 598.4 1378.7 598.4 C1380.4 598.4 1382.1 598.4 1383.7 598.4 C1385.4 598.4 1387.1 598.4 1388.7 598.4 C1390.4 598.4 1392.1 598.4 1393.7 598.4 C1395.4 598.4 1397.1 598.4 1398.7 598.4 C1400.4 598.4 1402.1 598.5 1403.7 598.5 C1405.4 598.5 1407.1 598.5 1408.8 598.5 C1410.4 598.5 1412.1 598.5 1413.8 598.5 C1415.4 598.5 1417.1 598.5 1418.8 598.5 C1420.4 598.5 1422.1 598.6 1423.8 598.6 C1425.4 598.6 1427.1 598.6 1428.8 598.6 C1430.4 598.6 1432.1 598.6 1433.8 598.6 C1435.4 598.6 1437.1 598.6 1438.8 598.7 C1440.4 598.7 1442.1 598.7 1443.8 598.7 C1445.4 598.7 1447.1 598.7 1448.8 598.7 C1450.4 598.7 1452.1 598.7 1453.8 598.7 C1455.5 598.8 1457.1 598.8 1458.8 598.8 C1460.5 598.8 1462.1 598.8 1463.8 598.8 C1465.5 598.8 1467.1 598.8 1468.8 598.8 C1470.5 598.9 1472.1 598.9 1473.8 598.9 C1475.5 598.9 1477.1 598.9 1478.8 598.9 C1480.5 598.9 1482.1 598.9 1483.8 599.0 C1485.5 599.0 1487.1 599.0 1488.8 599.0 C1490.5 599.0 1492.1 599.0 1493.8 599.0 C1495.5 599.0 1497.1 599.0 1498.8 599.1 C1500.5 599.1 1502.1 599.1 1503.8 599.1 C1505.5 599.1 1507.2 599.1 1508.8 599.1 C1510.5 599.1 1512.2 599.1 1513.8 599.2 C1515.5 599.2 1517.2 599.2 1518.8 599.2 C1520.5 599.2 1522.2 599.2 1523.8 599.2 C1525.5 599.2 1527.2 599.2 1528.8 599.3 C1530.5 599.3 1532.2 599.3 1533.8 599.3 C1535.5 599.3 1537.2 599.3 1538.8 599.3 C1540.5 599.3 1542.2 599.3 1543.8 599.4 C1545.5 599.4 1547.2 599.4 1548.8 599.4 C1550.5 599.4 1552.2 599.4 1553.9 599.4 C1555.5 599.4 1557.2 599.4 1558.9 599.5 C1560.5 599.5 1562.2 599.5 1563.9 599.5 C1565.5 599.5 1567.2 599.5 1568.9 599.5 C1570.5 599.5 1572.2 599.5 1573.9 599.5 C1575.5 599.6 1577.2 599.6 1578.9 599.6 C1580.5 599.6 1582.2 599.6 1583.9 599.6 C1585.5 599.6 1587.2 599.6 1588.9 599.6 C1590.5 599.6 1592.2 599.6 1593.9 599.7 C1595.5 599.7 1597.2 599.7 1598.9 599.7 C1600.6 599.7 1602.2 599.7 1603.9 599.7 C1605.6 599.7 1607.2 599.7 1608.9 599.7 C1610.6 599.7 1612.2 599.7 1613.9 599.7 C1615.6 599.7 1617.2 599.8 1618.9 599.8 C1620.6 599.8 1622.2 599.8 1623.9 599.8 C1625.6 599.8 1627.2 599.8 1628.9 599.8 C1630.6 599.8 1632.2 599.8 1633.9 599.8 C1635.6 599.8 1637.2 599.8 1638.9 599.8 C1640.6 599.8 1642.2 599.8 1643.9 599.8 C1645.6 599.8 1647.2 599.8 1648.9 599.8 C1650.6 599.8 1652.3 599.8 1653.9 599.9 C1655.6 599.9 1657.3 599.9 1658.9 599.9 C1660.6 599.9 1662.3 599.9 1663.9 599.9 C1665.6 599.9 1667.3 599.9 1668.9 599.9 C1670.6 599.9 1672.3 599.9 1673.9 599.9 C1675.6 599.9 1677.3 599.9 1678.9 599.9 C1680.6 599.9 1682.3 599.9 1683.9 599.9 C1685.6 599.9 1687.3 599.9 1688.9 599.9 C1690.6 599.9 1692.3 599.9 1693.9 599.9 C1695.6 599.8 1697.3 599.8 1699.0 599.8 C1700.6 599.8 1702.3 599.8 1704.0 599.8 C1705.6 599.8 1707.3 599.8 1709.0 599.8 C1710.6 599.8 1712.3 599.8 1714.0 599.8 C1715.6 599.8 1717.3 599.8 1719.0 599.8 C1720.6 599.8 1722.3 599.8 1724.0 599.8 C1725.6 599.8 1727.3 599.7 1729.0 599.7 C1730.6 599.7 1732.3 599.7 1734.0 599.7 C1735.6 599.7 1737.3 599.7 1739.0 599.7 C1740.6 599.7 1742.3 599.7 1744.0 599.6 C1745.7 599.6 1747.3 599.6 1749.0 599.6 C1750.7 599.6 1752.3 599.6 1754.0 599.6 C1755.7 599.6 1757.3 599.5 1759.0 599.5 C1760.7 599.5 1762.3 599.5 1764.0 599.5 C1765.7 599.5 1768.2 599.4 1769.0 599.4"/>
<path stroke="#4d4d4d" d="M318.0 210.0 C318.8 210.2 321.3 210.8 323.0 211.3 C324.7 211.7 326.3 212.1 328.0 212.5 C329.7 212.9 331.3 213.3 333.0 213.8 C334.7 214.2 336.3 214.6 338.0 215.0 C339.7 215.4 341.3 215.8 343.0 216.2 C344.7 216.6 346.4 217.0 348.0 217.4 C349.7 217.8 351.4 218.2 353.0 218.6 C354.7 219.0 356.4 219.4 358.0 219.8 C359.7 220.2 361.4 220.6 363.0 221.0 C364.7 221.5 366.4 221.9 368.0 222.3 C369.7 222.7 371.4 223.1 373.0 223.5 C374.7 223.9 376.4 224.3 378.0 224.7 C379.7 225.1 381.4 225.6 383.0 226.0 C384.7 226.4 386.4 226.8 388.0 227.3 C389.7 227.7 391.4 228.1 393.1 228.5 C394.7 229.0 396.4 229.4 398.1 229.9 C399.7 230.3 401.4 230.7 403.1 231.2 C404.7 231.6 406.4 232.1 408.1 232.6 C409.7 233.0 411.4 233.5 413.1 234.0 C414.7 234.4 416.4 234.9 418.1 235.4 C419.7 235.9 421.4 236.4 423.1 236.8 C424.7 237.3 426.4 237.8 428.1 238.4 C429.7 238.9 431.4 239.4 433.1 239.9 C434.7 240.4 436.4 240.9 438.1 241.5 C439.8 242.0 441.4 242.6 443.1 243.1 C444.8 243.7 446.4 244.2 448.1 244.8 C449.8 245.4 451.4 246.0 453.1 246.6 C454.8 247.1 456.4 247.7 458.1 248.4 C459.8 249.0 461.4 249.6 463.1 250.2 C464.8 250.8 466.4 251.5 468.1 252.1 C469.8 252.8 471.4 253.4 473.1 254.1 C474.8 254.8 476.4 255.5 478.1 256.2 C479.8 256.9 481.4 257.6 483.1 258.3 C484.8 259.0 486.4 259.7 488.1 260.5 C489.8 261.2 491.5 262.0 493.1 262.7 C494.8 263.5 496.5 264.3 498.1 265.1 C499.8 265.8 501.5 266.6 503.1 267.5 C504.8 268.3 506.5 269.1 508.1 269.9 C509.8 270.7 511.5 271.5 513.1 272.4 C514.8 273.2 516.5 274.1 518.1 274.9 C519.8 275.8 521.5 276.6 523.1 277.5 C524.8 278.3 526.5 279.2 528.1 280.1 C529.8 280.9 531.5 281.8 533.1 282.7 C534.8 283.5 536.5 284.4 538.2 285.3 C539.8 286.1 541.5 287.0 543.2 287.9 C544.8 288.8 546.5 289.6 548.2 290.5 C549.8 291.4 551.5 292.2 553.2 293.1 C554.8 294.0 556.5 294.8 558.2 295.7 C559.8 296.6 561.5 297.4 563.2 298.3 C564.8 299.1 566.5 300.0 568.2 300.8 C569.8 301.7 571.5 302.5 573.2 303.4 C574.8 304.3 576.5 305.1 578.2 306.0 C579.8 306.9 581.5 307.9 583.2 308.8 C584.9 309.8 586.5 310.8 588.2 311.8 C589.9 312.8 591.5 313.9 593.2 315.0 C594.9 316.1 596.5 317.2 598.2 318.3 C599.9 319.5 601.5 320.6 603.2 321.7 C604.9 322.8 606.5 323.8 608.2 324.8 C609.9 325.9 611.5 326.8 613.2 327.8 C614.9 328.8 616.5 329.8 618.2 330.8 C619.9 331.9 621.5 332.9 623.2 333.9 C624.9 335.0 626.5 336.0 628.2 337.1 C629.9 338.2 631.5 339.3 633.2 340.4 C634.9 341.5 636.6 342.6 638.2 343.8 C639.9 344.9 641.6 346.1 643.2 347.3 C644.9 348.5 646.6 349.7 648.2 350.9 C649.9 352.2 651.6 353.4 653.2 354.7 C654.9 355.9 656.6 357.2 658.2 358.6 C659.9 359.9 661.6 361.2 663.2 362.5 C664.9 363.9 666.6 365.2 668.2 366.6 C669.9 367.9 671.6 369.3 673.2 370.6 C674.9 371.9 676.6 373.2 678.2 374.4 C679.9 375.7 681.6 376.9 683.3 378.1 C684.9 379.3 686.6 380.4 688.3 381.5 C689.9 382.6 691.6 383.7 693.3 384.8 C694.9 385.8 696.6 386.8 698.3 387.9 C699.9 389.0 701.6 390.0 703.3 391.1 C704.9 392.2 706.6 393.3 708.3 394.5 C709.9 395.7 711.6 396.9 713.3 398.2 C714.9 399.4 716.6 400.7 718.3 402.1 C719.9 403.5 721.6 404.9 723.3 406.3 C724.9 407.8 726.6 409.2 728.3 410.7 C730.0 412.3 731.6 413.8 733.3 415.4 C735.0 416.9 736.6 418.5 738.3 420.1 C740.0 421.7 741.6 423.3 743.3 425.0 C745.0 426.6 746.6 428.3 748.3 429.9 C750.0 431.5 751.6 433.2 753.3 434.9 C755.0 436.5 756.6 438.2 758.3 439.8 C760.0 441.5 761.6 443.1 763.3 444.8 C765.0 446.4 766.6 448.0 768.3 449.7 C770.0 451.3 771.6 452.9 773.3 454.5 C775.0 456.2 776.6 457.8 778.3 459.4 C780.0 461.0 781.7 462.6 783.3 464.2 C785.0 465.9 786.7 467.5 788.3 469.1 C790.0 470.7 791.7 472.3 793.3 473.9 C795.0 475.6 796.7 477.2 798.3 478.8 C800.0 480.4 801.7 482.1 803.3 483.7 C805.0 485.3 806.7 487.0 808.3 488.6 C810.0 490.3 811.7 491.9 813.3 493.6 C815.0 495.2 816.7 496.9 818.3 498.6 C820.0 500.2 821.7 501.9 823.3 503.6 C825.0 505.2 826.7 506.9 828.4 508.6 C830.0 510.2 831.7 511.9 833.4 513.6 C835.0 515.2 836.7 516.9 838.4 518.5 C840.0 520.1 841.7 521.8 843.4 523.4 C845.0 525.0 846.7 526.6 848.4 528.1 C850.0 529.7 851.7 531.3 853.4 532.8 C855.0 534.3 856.7 535.9 858.4 537.3 C860.0 538.8 861.7 540.3 863.4 541.7 C865.0 543.2 866.7 544.6 868.4 545.9 C870.0 547.3 871.7 548.7 873.4 550.0 C875.1 551.3 876.7 552.6 878.4 553.9 C880.1 555.1 881.7 556.4 883.4 557.6 C885.1 558.8 886.7 559.9 888.4 561.1 C890.1 562.2 891.7 563.4 893.4 564.5 C895.1 565.5 896.7 566.6 898.4 567.6 C900.1 568.7 901.7 569.7 903.4 570.7 C905.1 571.6 906.7 572.6 908.4 573.5 C910.1 574.4 911.7 575.3 913.4 576.1 C915.1 577.0 916.7 577.8 918.4 578.6 C920.1 579.4 921.7 580.2 923.4 580.9 C925.1 581.7 926.8 582.4 928.4 583.0 C930.1 583.7 931.8 584.4 933.4 585.0 C935.1 585.6 936.8 586.2 938.4 586.7 C940.1 587.3 941.8 587.8 943.4 588.3 C945.1 588.8 946.8 589.3 948.4 589.7 C950.1 590.2 951.8 590.6 953.4 591.0 C955.1 591.4 956.8 591.8 958.4 592.1 C960.1 592.4 961.8 592.8 963.4 593.1 C965.1 593.4 966.8 593.7 968.4 593.9 C970.1 594.2 971.8 594.4 973.5 594.6 C975.1 594.9 976.8 595.1 978.5 595.2 C980.1 595.4 981.8 595.6 983.5 595.8 C985.1 595.9 986.8 596.1 988.5 596.2 C990.1 596.3 991.8 596.4 993.5 596.5 C995.1 596.6 996.8 596.7 998.5 596.8 C1000.1 596.9 1001.8 596.9 1003.5 597.0 C1005.1 597.1 1006.8 597.1 1008.5 597.1 C1010.1 597.2 1011.8 597.2 1013.5 597.3 C1015.1 597.3 1016.8 597.3 1018.5 597.3 C1020.2 597.4 1021.8 597.4 1023.5 597.4 C1025.2 597.4 1026.8 597.4 1028.5 597.4 C1030.2 597.4 1031.8 597.4 1033.5 597.4 C1035.2 597.5 1036.8 597.5 1038.5 597.5 C1040.2 597.5 1041.8 597.5 1043.5 597.5 C1045.2 597.5 1046.8 597.6 1048.5 597.6 C1050.2 597.6 1051.8 597.6 1053.5 597.7 C1055.2 597.7 1056.8 597.7 1058.5 597.7 C1060.2 597.8 1061.8 597.8 1063.5 597.8 C1065.2 597.9 1066.8 597.9 1068.5 597.9 C1070.2 598.0 1071.9 598.0 1073.5 598.1 C1075.2 598.1 1076.9 598.1 1078.5 598.2 C1080.2 598.2 1081.9 598.3 1083.5 598.3 C1085.2 598.4 1086.9 598.4 1088.5 598.4 C1090.2 598.5 1091.9 598.5 1093.5 598.6 C1095.2 598.6 1096.9 598.7 1098.5 598.7 C1100.2 598.8 1101.9 598.8 1103.5 598.9 C1105.2 598.9 1106.9 598.9 1108.5 599.0 C1110.2 599.0 1111.9 599.1 1113.5 599.1 C1115.2 599.2 1116.9 599.2 1118.6 599.3 C1120.2 599.3 1121.9 599.3 1123.6 599.4 C1125.2 599.4 1126.9 599.5 1128.6 599.5 C1130.2 599.5 1131.9 599.6 1133.6 599.6 C1135.2 599.6 1136.9 599.7 1138.6 599.7 C1140.2 599.7 1141.9 599.8 1143.6 599.8 C1145.2 599.8 1146.9 599.9 1148.6 599.9 C1150.2 599.9 1151.9 600.0 1153.6 600.0 C1155.2 600.0 1156.9 600.0 1158.6 600.1 C1160.2 600.1 1161.9 600.1 1163.6 600.2 C1165.3 600.2 1166.9 600.2 1168.6 600.2 C1170.3 600.2 1171.9 600.3 1173.6 600.3 C1175.3 600.3 1176.9 600.3 1178.6 600.4 C1180.3 600.4 1181.9 600.4 1183.6 600.4 C1185.3 600.4 1186.9 600.5 1188.6 600.5 C1190.3 600.5 1191.9 600.5 1193.6 600.5 C1195.3 600.5 1196.9 600.6 1198.6 600.6 C1200.3 600.6 1201.9 600.6 1203.6 600.6 C1205.3 600.6 1206.9 600.6 1208.6 600.6 C1210.3 600.7 1211.9 600.7 1213.6 600.7 C1215.3 600.7 1217.0 600.7 1218.6 600.7 C1220.3 600.7 1222.0 600.7 1223.6 600.7 C1225.3 600.8 1227.0 600.8 1228.6 600.8 C1230.3 600.8 1232.0 600.8 1233.6 600.8 C1235.3 600.8 1237.0 600.8 1238.6 600.8 C1240.3 600.8 1242.0 600.8 1243.6 600.8 C1245.3 600.8 1247.0 600.8 1248.6 600.8 C1250.3 600.9 1252.0 600.9 1253.6 600.9 C1255.3 600.9 1257.0 600.9 1258.6 600.9 C1260.3 600.9 1262.0 600.9 1263.7 600.9 C1265.3 600.9 1267.0 600.9 1268.7 600.9 C1270.3 600.9 1272.0 600.9 1273.7 600.9 C1275.3 600.9 1277.0 600.9 1278.7 600.9 C1280.3 600.9 1282.0 600.9 1283.7 600.9 C1285.3 600.9 1287.0 600.9 1288.7 600.9 C1290.3 600.9 1292.0 600.9 1293.7 600.9 C1295.3 600.9 1297.0 600.9 1298.7 600.9 C1300.3 600.9 1302.0 600.9 1303.7 600.9 C1305.3 600.9 1307.0 600.9 1308.7 600.9 C1310.4 600.9 1312.0 600.9 1313.7 600.9 C1315.4 600.9 1317.0 600.9 1318.7 600.9 C1320.4 600.9 1322.0 600.9 1323.7 600.9 C1325.4 600.9 1327.0 600.9 1328.7 600.9 C1330.4 600.9 1332.0 600.9 1333.7 600.9 C1335.4 600.9 1337.0 600.9 1338.7 600.9 C1340.4 600.9 1342.0 600.9 1343.7 600.9 C1345.4 600.9 1347.0 600.9 1348.7 600.9 C1350.4 600.9 1352.0 600.9 1353.7 600.9 C1355.4 600.9 1357.0 600.9 1358.7 600.9 C1360.4 600.9 1362.1 600.9 1363.7 600.9 C1365.4 600.9 1367.1 600.9 1368.7 600.9 C1370.4 600.9 1372.1 600.9 1373.7 600.9 C1375.4 600.9 1377.1 600.9 1378.7 600.9 C1380.4 600.9 1382.1 600.9 1383.7 600.9 C1385.4 600.9 1387.1 600.9 1388.7 600.9 C1390.4 600.9 1392.1 600.9 1393.7 600.9 C1395.4 600.9 1397.1 600.9 1398.7 601.0 C1400.4 601.0 1402.1 601.0 1403.7 601.0 C1405.4 601.0 1407.1 601.0 1408.8 601.0 C1410.4 601.0 1412.1 601.0 1413.8 601.0 C1415.4 601.0 1417.1 601.0 1418.8 601.0 C1420.4 601.0 1422.1 601.0 1423.8 601.0 C1425.4 601.0 1427.1 601.0 1428.8 601.0 C1430.4 601.0 1432.1 601.0 1433.8 601.0 C1435.4 601.0 1437.1 601.0 1438.8 601.0 C1440.4 601.0 1442.1 601.0 1443.8 601.0 C1445.4 601.0 1447.1 601.0 1448.8 601.0 C1450.4 601.0 1452.1 601.0 1453.8 601.0 C1455.5 601.0 1457.1 601.0 1458.8 601.0 C1460.5 601.0 1462.1 601.0 1463.8 601.0 C1465.5 601.0 1467.1 601.0 1468.8 601.0 C1470.5 601.0 1472.1 601.0 1473.8 601.0 C1475.5 601.0 1477.1 601.0 1478.8 601.0 C1480.5 601.0 1482.1 601.0 1483.8 601.0 C1485.5 601.0 1487.1 601.0 1488.8 601.0 C1490.5 601.1 1492.1 601.1 1493.8 601.1 C1495.5 601.1 1497.1 601.1 1498.8 601.1 C1500.5 601.1 1502.1 601.1 1503.8 601.1 C1505.5 601.1 1507.2 601.1 1508.8 601.1 C1510.5 601.1 1512.2 601.1 1513.8 601.1 C1515.5 601.1 1517.2 601.1 1518.8 601.1 C1520.5 601.1 1522.2 601.1 1523.8 601.1 C1525.5 601.1 1527.2 601.1 1528.8 601.1 C1530.5 601.1 1532.2 601.1 1533.8 601.1 C1535.5 601.1 1537.2 601.1 1538.8 601.1 C1540.5 601.1 1542.2 601.1 1543.8 601.1 C1545.5 601.1 1547.2 601.1 1548.8 601.1 C1550.5 601.1 1552.2 601.1 1553.9 601.1 C1555.5 601.1 1557.2 601.1 1558.9 601.1 C1560.5 601.1 1562.2 601.1 1563.9 601.1 C1565.5 601.1 1567.2 601.1 1568.9 601.1 C1570.5 601.1 1572.2 601.1 1573.9 601.1 C1575.5 601.1 1577.2 601.2 1578.9 601.2 C1580.5 601.2 1582.2 601.2 1583.9 601.2 C1585.5 601.2 1587.2 601.2 1588.9 601.2 C1590.5 601.2 1592.2 601.2 1593.9 601.2 C1595.5 601.2 1597.2 601.2 1598.9 601.2 C1600.6 601.2 1602.2 601.2 1603.9 601.2 C1605.6 601.2 1607.2 601.2 1608.9 601.2 C1610.6 601.2 1612.2 601.2 1613.9 601.2 C1615.6 601.2 1617.2 601.2 1618.9 601.2 C1620.6 601.2 1622.2 601.2 1623.9 601.2 C1625.6 601.2 1627.2 601.2 1628.9 601.2 C1630.6 601.2 1632.2 601.2 1633.9 601.2 C1635.6 601.2 1637.2 601.2 1638.9 601.2 C1640.6 601.2 1642.2 601.2 1643.9 601.2 C1645.6 601.2 1647.2 601.2 1648.9 601.2 C1650.6 601.2 1652.3 601.2 1653.9 601.2 C1655.6 601.2 1657.3 601.2 1658.9 601.2 C1660.6 601.2 1662.3 601.2 1663.9 601.2 C1665.6 601.2 1667.3 601.2 1668.9 601.2 C1670.6 601.2 1672.3 601.2 1673.9 601.2 C1675.6 601.2 1677.3 601.2 1678.9 601.2 C1680.6 601.2 1682.3 601.2 1683.9 601.2 C1685.6 601.2 1687.3 601.2 1688.9 601.2 C1690.6 601.2 1692.3 601.2 1693.9 601.2 C1695.6 601.2 1697.3 601.2 1699.0 601.2 C1700.6 601.2 1702.3 601.2 1704.0 601.2 C1705.6 601.2 1707.3 601.2 1709.0 601.2 C1710.6 601.2 1712.3 601.2 1714.0 601.2 C1715.6 601.2 1717.3 601.2 1719.0 601.2 C1720.6 601.2 1722.3 601.2 1724.0 601.2 C1725.6 601.2 1727.3 601.2 1729.0 601.2 C1730.6 601.2 1732.3 601.2 1734.0 601.2 C1735.6 601.2 1737.3 601.2 1739.0 601.2 C1740.6 601.2 1742.3 601.2 1744.0 601.2 C1745.7 601.2 1747.3 601.2 1749.0 601.2 C1750.7 601.2 1752.3 601.2 1754.0 601.2 C1755.7 601.2 1757.3 601.1 1759.0 601.1 C1760.7 601.1 1762.3 601.1 1764.0 601.1 C1765.7 601.1 1768.2 601.1 1769.0 601.1"/>
<path stroke="#e6d800" d="M318.0 133.5 C318.8 133.8 321.3 134.6 323.0 135.1 C324.7 135.7 326.3 136.2 328.0 136.8 C329.7 137.3 331.3 137.9 333.0 138.5 C334.7 139.0 336.3 139.6 338.0 140.2 C339.7 140.8 341.3 141.4 343.0 142.0 C344.7 142.6 346.4 143.2 348.0 143.8 C349.7 144.4 351.4 145.1 353.0 145.7 C354.7 146.3 356.4 147.0 358.0 147.6 C359.7 148.3 361.4 148.9 363.0 149.6 C364.7 150.2 366.4 150.9 368.0 151.6 C369.7 152.3 371.4 153.0 373.0 153.6 C374.7 154.3 376.4 155.0 378.0 155.7 C379.7 156.4 381.4 157.2 383.0 157.9 C384.7 158.6 386.4 159.3 388.0 160.1 C389.7 160.8 391.4 161.5 393.1 162.3 C394.7 163.0 396.4 163.8 398.1 164.5 C399.7 165.3 401.4 166.1 403.1 166.8 C404.7 167.6 406.4 168.4 408.1 169.2 C409.7 170.0 411.4 170.8 413.1 171.6 C414.7 172.4 416.4 173.2 418.1 174.0 C419.7 174.8 421.4 175.6 423.1 176.5 C424.7 177.3 426.4 178.1 428.1 179.0 C429.7 179.8 431.4 180.7 433.1 181.5 C434.7 182.4 436.4 183.2 438.1 184.1 C439.8 185.0 441.4 185.8 443.1 186.7 C444.8 187.6 446.4 188.5 448.1 189.4 C449.8 190.2 451.4 191.1 453.1 192.0 C454.8 192.9 456.4 193.9 458.1 194.8 C459.8 195.7 461.4 196.6 463.1 197.5 C464.8 198.5 466.4 199.4 468.1 200.3 C469.8 201.3 471.4 202.2 473.1 203.2 C474.8 204.1 476.4 205.1 478.1 206.0 C479.8 207.0 481.4 208.0 483.1 208.9 C484.8 209.9 486.4 210.9 488.1 211.9 C489.8 212.8 491.5 213.8 493.1 214.8 C494.8 215.8 496.5 216.8 498.1 217.8 C499.8 218.8 501.5 219.8 503.1 220.9 C504.8 221.9 506.5 222.9 508.1 223.9 C509.8 225.0 511.5 226.0 513.1 227.0 C514.8 228.1 516.5 229.1 518.1 230.1 C519.8 231.2 521.5 232.2 523.1 233.3 C524.8 234.3 526.5 235.4 528.1 236.4 C529.8 237.5 531.5 238.5 533.1 239.6 C534.8 240.6 536.5 241.7 538.2 242.7 C539.8 243.8 541.5 244.8 543.2 245.9 C544.8 246.9 546.5 248.0 548.2 249.0 C549.8 250.0 551.5 251.1 553.2 252.1 C554.8 253.1 556.5 254.2 558.2 255.2 C559.8 256.3 561.5 257.3 563.2 258.4 C564.8 259.5 566.5 260.6 568.2 261.7 C569.8 262.8 571.5 264.0 573.2 265.2 C574.8 266.4 576.5 267.6 578.2 268.9 C579.8 270.2 581.5 271.5 583.2 272.9 C584.9 274.3 586.5 275.7 588.2 277.2 C589.9 278.7 591.5 280.2 593.2 281.7 C594.9 283.2 596.5 284.8 598.2 286.3 C599.9 287.9 601.5 289.5 603.2 291.2 C604.9 292.8 606.5 294.4 608.2 296.1 C609.9 297.8 611.5 299.4 613.2 301.1 C614.9 302.8 616.5 304.5 618.2 306.2 C619.9 307.8 621.5 309.5 623.2 311.2 C624.9 312.9 626.5 314.6 628.2 316.2 C629.9 317.9 631.5 319.6 633.2 321.3 C634.9 322.9 636.6 324.6 638.2 326.3 C639.9 327.9 641.6 329.6 643.2 331.3 C644.9 332.9 646.6 334.6 648.2 336.2 C649.9 337.9 651.6 339.5 653.2 341.2 C654.9 342.9 656.6 344.5 658.2 346.2 C659.9 347.8 661.6 349.5 663.2 351.1 C664.9 352.8 666.6 354.5 668.2 356.1 C669.9 357.8 671.6 359.5 673.2 361.2 C674.9 362.9 676.6 364.6 678.2 366.3 C679.9 368.0 681.6 369.7 683.3 371.4 C684.9 373.1 686.6 374.8 688.3 376.6 C689.9 378.3 691.6 380.1 693.3 381.9 C694.9 383.6 696.6 385.4 698.3 387.2 C699.9 389.0 701.6 390.8 703.3 392.7 C704.9 394.5 706.6 396.4 708.3 398.3 C709.9 400.1 711.6 402.0 713.3 403.9 C714.9 405.8 716.6 407.8 718.3 409.7 C719.9 411.7 721.6 413.6 723.3 415.6 C724.9 417.6 726.6 419.6 728.3 421.6 C730.0 423.6 731.6 425.6 733.3 427.6 C735.0 429.6 736.6 431.6 738.3 433.7 C740.0 435.7 741.6 437.7 743.3 439.8 C745.0 441.8 746.6 443.9 748.3 445.9 C750.0 448.0 751.6 450.0 753.3 452.1 C755.0 454.1 756.6 456.2 758.3 458.2 C760.0 460.3 761.6 462.3 763.3 464.4 C765.0 466.4 766.6 468.4 768.3 470.5 C770.0 472.5 771.6 474.5 773.3 476.5 C775.0 478.5 776.6 480.5 778.3 482.5 C780.0 484.5 781.7 486.5 783.3 488.5 C785.0 490.4 786.7 492.4 788.3 494.3 C790.0 496.2 791.7 498.1 793.3 500.0 C795.0 501.9 796.7 503.8 798.3 505.7 C800.0 507.5 801.7 509.4 803.3 511.2 C805.0 513.0 806.7 514.8 808.3 516.6 C810.0 518.3 811.7 520.1 813.3 521.8 C815.0 523.5 816.7 525.2 818.3 526.8 C820.0 528.5 821.7 530.1 823.3 531.7 C825.0 533.3 826.7 534.9 828.4 536.4 C830.0 537.9 831.7 539.4 833.4 540.9 C835.0 542.4 836.7 543.8 838.4 545.2 C840.0 546.7 841.7 548.0 843.4 549.4 C845.0 550.7 846.7 552.0 848.4 553.3 C850.0 554.6 851.7 555.8 853.4 557.1 C855.0 558.3 856.7 559.5 858.4 560.6 C860.0 561.7 861.7 562.8 863.4 563.9 C865.0 565.0 866.7 566.0 868.4 567.0 C870.0 568.0 871.7 569.0 873.4 569.9 C875.1 570.8 876.7 571.7 878.4 572.5 C880.1 573.4 881.7 574.2 883.4 574.9 C885.1 575.7 886.7 576.4 888.4 577.1 C890.1 577.8 891.7 578.5 893.4 579.1 C895.1 579.7 896.7 580.3 898.4 580.9 C900.1 581.4 901.7 582.0 903.4 582.5 C905.1 583.0 906.7 583.5 908.4 583.9 C910.1 584.4 911.7 584.8 913.4 585.2 C915.1 585.6 916.7 586.0 918.4 586.4 C920.1 586.8 921.7 587.1 923.4 587.4 C925.1 587.8 926.8 588.1 928.4 588.4 C930.1 588.7 931.8 589.0 933.4 589.3 C935.1 589.6 936.8 589.8 938.4 590.1 C940.1 590.4 941.8 590.6 943.4 590.9 C945.1 591.1 946.8 591.4 948.4 591.6 C950.1 591.9 951.8 592.1 953.4 592.3 C955.1 592.5 956.8 592.8 958.4 593.0 C960.1 593.2 961.8 593.4 963.4 593.6 C965.1 593.8 966.8 594.0 968.4 594.2 C970.1 594.4 971.8 594.5 973.5 594.7 C975.1 594.9 976.8 595.1 978.5 595.2 C980.1 595.4 981.8 595.6 983.5 595.7 C985.1 595.9 986.8 596.0 988.5 596.2 C990.1 596.3 991.8 596.5 993.5 596.6 C995.1 596.7 996.8 596.9 998.5 597.0 C1000.1 597.1 1001.8 597.2 1003.5 597.4 C1005.1 597.5 1006.8 597.6 1008.5 597.7 C1010.1 597.8 1011.8 597.9 1013.5 598.0 C1015.1 598.1 1016.8 598.2 1018.5 598.3 C1020.2 598.4 1021.8 598.5 1023.5 598.6 C1025.2 598.6 1026.8 598.7 1028.5 598.8 C1030.2 598.9 1031.8 599.0 1033.5 599.0 C1035.2 599.1 1036.8 599.2 1038.5 599.2 C1040.2 599.3 1041.8 599.3 1043.5 599.4 C1045.2 599.5 1046.8 599.5 1048.5 599.6 C1050.2 599.6 1051.8 599.7 1053.5 599.7 C1055.2 599.8 1056.8 599.8 1058.5 599.9 C1060.2 599.9 1061.8 599.9 1063.5 600.0 C1065.2 600.0 1066.8 600.0 1068.5 600.1 C1070.2 600.1 1071.9 600.1 1073.5 600.2 C1075.2 600.2 1076.9 600.2 1078.5 600.3 C1080.2 600.3 1081.9 600.3 1083.5 600.3 C1085.2 600.3 1086.9 600.4 1088.5 600.4 C1090.2 600.4 1091.9 600.4 1093.5 600.4 C1095.2 600.5 1096.9 600.5 1098.5 600.5 C1100.2 600.5 1101.9 600.5 1103.5 600.5 C1105.2 600.5 1106.9 600.6 1108.5 600.6 C1110.2 600.6 1111.9 600.6 1113.5 600.6 C1115.2 600.6 1116.9 600.6 1118.6 600.6 C1120.2 600.6 1121.9 600.7 1123.6 600.7 C1125.2 600.7 1126.9 600.7 1128.6 600.7 C1130.2 600.7 1131.9 600.7 1133.6 600.7 C1135.2 600.7 1136.9 600.7 1138.6 600.8 C1140.2 600.8 1141.9 600.8 1143.6 600.8 C1145.2 600.8 1146.9 600.8 1148.6 600.8 C1150.2 600.8 1151.9 600.8 1153.6 600.8 C1155.2 600.9 1156.9 600.9 1158.6 600.9 C1160.2 600.9 1161.9 600.9 1163.6 600.9 C1165.3 600.9 1166.9 600.9 1168.6 600.9 C1170.3 600.9 1171.9 600.9 1173.6 600.9 C1175.3 601.0 1176.9 601.0 1178.6 601.0 C1180.3 601.0 1181.9 601.0 1183.6 601.0 C1185.3 601.0 1186.9 601.0 1188.6 601.0 C1190.3 601.0 1191.9 601.0 1193.6 601.0 C1195.3 601.0 1196.9 601.1 1198.6 601.1 C1200.3 601.1 1201.9 601.1 1203.6 601.1 C1205.3 601.1 1206.9 601.1 1208.6 601.1 C1210.3 601.1 1211.9 601.1 1213.6 601.1 C1215.3 601.1 1217.0 601.1 1218.6 601.1 C1220.3 601.1 1222.0 601.2 1223.6 601.2 C1225.3 601.2 1227.0 601.2 1228.6 601.2 C1230.3 601.2 1232.0 601.2 1233.6 601.2 C1235.3 601.2 1237.0 601.2 1238.6 601.2 C1240.3 601.2 1242.0 601.2 1243.6 601.2 C1245.3 601.2 1247.0 601.2 1248.6 601.2 C1250.3 601.2 1252.0 601.3 1253.6 601.3 C1255.3 601.3 1257.0 601.3 1258.6 601.3 C1260.3 601.3 1262.0 601.3 1263.7 601.3 C1265.3 601.3 1267.0 601.3 1268.7 601.3 C1270.3 601.3 1272.0 601.3 1273.7 601.3 C1275.3 601.3 1277.0 601.3 1278.7 601.3 C1280.3 601.3 1282.0 601.3 1283.7 601.3 C1285.3 601.3 1287.0 601.3 1288.7 601.3 C1290.3 601.4 1292.0 601.4 1293.7 601.4 C1295.3 601.4 1297.0 601.4 1298.7 601.4 C1300.3 601.4 1302.0 601.4 1303.7 601.4 C1305.3 601.4 1307.0 601.4 1308.7 601.4 C1310.4 601.4 1312.0 601.4 1313.7 601.4 C1315.4 601.4 1317.0 601.4 1318.7 601.4 C1320.4 601.4 1322.0 601.4 1323.7 601.4 C1325.4 601.4 1327.0 601.4 1328.7 601.4 C1330.4 601.4 1332.0 601.4 1333.7 601.4 C1335.4 601.4 1337.0 601.4 1338.7 601.4 C1340.4 601.4 1342.0 601.4 1343.7 601.4 C1345.4 601.5 1347.0 601.5 1348.7 601.5 C1350.4 601.5 1352.0 601.5 1353.7 601.5 C1355.4 601.5 1357.0 601.5 1358.7 601.5 C1360.4 601.5 1362.1 601.5 1363.7 601.5 C1365.4 601.5 1367.1 601.5 1368.7 601.5 C1370.4 601.5 1372.1 601.5 1373.7 601.5 C1375.4 601.5 1377.1 601.5 1378.7 601.5 C1380.4 601.5 1382.1 601.5 1383.7 601.5 C1385.4 601.5 1387.1 601.5 1388.7 601.5 C1390.4 601.5 1392.1 601.5 1393.7 601.5 C1395.4 601.5 1397.1 601.5 1398.7 601.5 C1400.4 601.5 1402.1 601.5 1403.7 601.5 C1405.4 601.5 1407.1 601.5 1408.8 601.5 C1410.4 601.5 1412.1 601.5 1413.8 601.5 C1415.4 601.5 1417.1 601.5 1418.8 601.5 C1420.4 601.5 1422.1 601.5 1423.8 601.5 C1425.4 601.5 1427.1 601.5 1428.8 601.5 C1430.4 601.5 1432.1 601.5 1433.8 601.5 C1435.4 601.5 1437.1 601.5 1438.8 601.5 C1440.4 601.5 1442.1 601.5 1443.8 601.5 C1445.4 601.5 1447.1 601.5 1448.8 601.5 C1450.4 601.5 1452.1 601.5 1453.8 601.5 C1455.5 601.5 1457.1 601.5 1458.8 601.5 C1460.5 601.5 1462.1 601.5 1463.8 601.5 C1465.5 601.5 1467.1 601.5 1468.8 601.5 C1470.5 601.5 1472.1 601.5 1473.8 601.5 C1475.5 601.5 1477.1 601.5 1478.8 601.5 C1480.5 601.5 1482.1 601.5 1483.8 601.5 C1485.5 601.5 1487.1 601.5 1488.8 601.5 C1490.5 601.5 1492.1 601.5 1493.8 601.5 C1495.5 601.5 1497.1 601.5 1498.8 601.5 C1500.5 601.5 1502.1 601.5 1503.8 601.5 C1505.5 601.5 1507.2 601.5 1508.8 601.5 C1510.5 601.5 1512.2 601.5 1513.8 601.5 C1515.5 601.5 1517.2 601.5 1518.8 601.5 C1520.5 601.5 1522.2 601.5 1523.8 601.5 C1525.5 601.5 1527.2 601.5 1528.8 601.5 C1530.5 601.5 1532.2 601.5 1533.8 601.5 C1535.5 601.5 1537.2 601.5 1538.8 601.5 C1540.5 601.5 1542.2 601.5 1543.8 601.5 C1545.5 601.5 1547.2 601.5 1548.8 601.5 C1550.5 601.5 1552.2 601.5 1553.9 601.5 C1555.5 601.5 1557.2 601.5 1558.9 601.5 C1560.5 601.5 1562.2 601.5 1563.9 601.5 C1565.5 601.5 1567.2 601.5 1568.9 601.5 C1570.5 601.5 1572.2 601.5 1573.9 601.5 C1575.5 601.5 1577.2 601.5 1578.9 601.5 C1580.5 601.5 1582.2 601.5 1583.9 601.5 C1585.5 601.5 1587.2 601.5 1588.9 601.5 C1590.5 601.5 1592.2 601.5 1593.9 601.5 C1595.5 601.5 1597.2 601.5 1598.9 601.5 C1600.6 601.5 1602.2 601.5 1603.9 601.5 C1605.6 601.5 1607.2 601.5 1608.9 601.5 C1610.6 601.5 1612.2 601.5 1613.9 601.5 C1615.6 601.5 1617.2 601.5 1618.9 601.5 C1620.6 601.5 1622.2 601.5 1623.9 601.5 C1625.6 601.5 1627.2 601.5 1628.9 601.5 C1630.6 601.5 1632.2 601.5 1633.9 601.5 C1635.6 601.5 1637.2 601.5 1638.9 601.5 C1640.6 601.5 1642.2 601.5 1643.9 601.5 C1645.6 601.5 1647.2 601.5 1648.9 601.5 C1650.6 601.5 1652.3 601.5 1653.9 601.5 C1655.6 601.5 1657.3 601.5 1658.9 601.5 C1660.6 601.5 1662.3 601.5 1663.9 601.5 C1665.6 601.5 1667.3 601.5 1668.9 601.5 C1670.6 601.5 1672.3 601.5 1673.9 601.5 C1675.6 601.5 1677.3 601.5 1678.9 601.5 C1680.6 601.5 1682.3 601.5 1683.9 601.5 C1685.6 601.5 1687.3 601.5 1688.9 601.5 C1690.6 601.5 1692.3 601.5 1693.9 601.5 C1695.6 601.5 1697.3 601.5 1699.0 601.5 C1700.6 601.5 1702.3 601.5 1704.0 601.5 C1705.6 601.5 1707.3 601.5 1709.0 601.5 C1710.6 601.5 1712.3 601.5 1714.0 601.5 C1715.6 601.5 1717.3 601.5 1719.0 601.5 C1720.6 601.5 1722.3 601.5 1724.0 601.5 C1725.6 601.5 1727.3 601.5 1729.0 601.5 C1730.6 601.5 1732.3 601.5 1734.0 601.5 C1735.6 601.5 1737.3 601.5 1739.0 601.5 C1740.6 601.5 1742.3 601.5 1744.0 601.5 C1745.7 601.5 1747.3 601.5 1749.0 601.5 C1750.7 601.5 1752.3 601.5 1754.0 601.5 C1755.7 601.5 1757.3 601.5 1759.0 601.5 C1760.7 601.5 1762.3 601.5 1764.0 601.5 C1765.7 601.5 1768.2 601.5 1769.0 601.5"/>
<path stroke="#cc77ff" d="M318.0 143.8 C318.8 144.1 321.3 144.9 323.0 145.5 C324.7 146.2 326.3 146.9 328.0 147.7 C329.7 148.4 331.3 149.2 333.0 150.0 C334.7 150.9 336.3 151.7 338.0 152.6 C339.7 153.5 341.3 154.4 343.0 155.3 C344.7 156.3 346.4 157.2 348.0 158.1 C349.7 159.1 351.4 160.0 353.0 160.9 C354.7 161.8 356.4 162.7 358.0 163.6 C359.7 164.5 361.4 165.4 363.0 166.2 C364.7 167.0 366.4 167.8 368.0 168.6 C369.7 169.3 371.4 170.0 373.0 170.7 C374.7 171.4 376.4 172.0 378.0 172.6 C379.7 173.2 381.4 173.7 383.0 174.3 C384.7 174.8 386.4 175.3 388.0 175.8 C389.7 176.3 391.4 176.8 393.1 177.2 C394.7 177.7 396.4 178.1 398.1 178.6 C399.7 179.0 401.4 179.5 403.1 179.9 C404.7 180.4 406.4 180.8 408.1 181.3 C409.7 181.7 411.4 182.2 413.1 182.7 C414.7 183.2 416.4 183.7 418.1 184.2 C419.7 184.8 421.4 185.3 423.1 185.9 C424.7 186.5 426.4 187.1 428.1 187.8 C429.7 188.4 431.4 189.1 433.1 189.8 C434.7 190.5 436.4 191.3 438.1 192.0 C439.8 192.8 441.4 193.6 443.1 194.4 C444.8 195.2 446.4 196.1 448.1 197.0 C449.8 197.8 451.4 198.7 453.1 199.7 C454.8 200.6 456.4 201.5 458.1 202.5 C459.8 203.5 461.4 204.5 463.1 205.5 C464.8 206.5 466.4 207.6 468.1 208.6 C469.8 209.7 471.4 210.8 473.1 211.9 C474.8 213.0 476.4 214.1 478.1 215.2 C479.8 216.4 481.4 217.5 483.1 218.7 C484.8 219.8 486.4 221.0 488.1 222.2 C489.8 223.4 491.5 224.6 493.1 225.8 C494.8 227.0 496.5 228.2 498.1 229.4 C499.8 230.7 501.5 231.9 503.1 233.1 C504.8 234.3 506.5 235.6 508.1 236.8 C509.8 238.0 511.5 239.3 513.1 240.5 C514.8 241.8 516.5 243.0 518.1 244.2 C519.8 245.5 521.5 246.7 523.1 247.9 C524.8 249.1 526.5 250.3 528.1 251.5 C529.8 252.8 531.5 254.0 533.1 255.1 C534.8 256.3 536.5 257.5 538.2 258.7 C539.8 259.8 541.5 261.0 543.2 262.1 C544.8 263.3 546.5 264.4 548.2 265.5 C549.8 266.6 551.5 267.7 553.2 268.7 C554.8 269.8 556.5 270.8 558.2 271.9 C559.8 272.9 561.5 274.0 563.2 275.0 C564.8 276.1 566.5 277.1 568.2 278.2 C569.8 279.2 571.5 280.3 573.2 281.4 C574.8 282.5 576.5 283.6 578.2 284.7 C579.8 285.9 581.5 287.0 583.2 288.2 C584.9 289.4 586.5 290.6 588.2 291.9 C589.9 293.1 591.5 294.3 593.2 295.6 C594.9 296.9 596.5 298.2 598.2 299.5 C599.9 300.8 601.5 302.2 603.2 303.5 C604.9 304.9 606.5 306.3 608.2 307.6 C609.9 309.0 611.5 310.4 613.2 311.9 C614.9 313.3 616.5 314.7 618.2 316.2 C619.9 317.6 621.5 319.1 623.2 320.6 C624.9 322.1 626.5 323.6 628.2 325.1 C629.9 326.6 631.5 328.2 633.2 329.7 C634.9 331.2 636.6 332.8 638.2 334.4 C639.9 335.9 641.6 337.5 643.2 339.1 C644.9 340.7 646.6 342.3 648.2 343.9 C649.9 345.5 651.6 347.2 653.2 348.8 C654.9 350.4 656.6 352.1 658.2 353.7 C659.9 355.4 661.6 357.1 663.2 358.7 C664.9 360.4 666.6 362.1 668.2 363.8 C669.9 365.5 671.6 367.2 673.2 368.9 C674.9 370.6 676.6 372.3 678.2 374.0 C679.9 375.7 681.6 377.4 683.3 379.2 C684.9 380.9 686.6 382.6 688.3 384.4 C689.9 386.1 691.6 387.8 693.3 389.5 C694.9 391.3 696.6 393.0 698.3 394.7 C699.9 396.5 701.6 398.2 703.3 399.9 C704.9 401.6 706.6 403.3 708.3 405.1 C709.9 406.8 711.6 408.5 713.3 410.2 C714.9 411.9 716.6 413.6 718.3 415.3 C719.9 417.1 721.6 418.8 723.3 420.6 C724.9 422.4 726.6 424.2 728.3 426.0 C730.0 427.9 731.6 429.8 733.3 431.7 C735.0 433.7 736.6 435.7 738.3 437.7 C740.0 439.7 741.6 441.8 743.3 443.8 C745.0 445.9 746.6 448.0 748.3 450.2 C750.0 452.3 751.6 454.4 753.3 456.5 C755.0 458.7 756.6 460.8 758.3 462.9 C760.0 465.0 761.6 467.1 763.3 469.2 C765.0 471.3 766.6 473.4 768.3 475.4 C770.0 477.5 771.6 479.6 773.3 481.6 C775.0 483.6 776.6 485.6 778.3 487.6 C780.0 489.6 781.7 491.6 783.3 493.6 C785.0 495.5 786.7 497.5 788.3 499.4 C790.0 501.3 791.7 503.2 793.3 505.1 C795.0 507.0 796.7 508.8 798.3 510.7 C800.0 512.5 801.7 514.3 803.3 516.1 C805.0 517.9 806.7 519.7 808.3 521.4 C810.0 523.1 811.7 524.9 813.3 526.6 C815.0 528.2 816.7 529.9 818.3 531.5 C820.0 533.2 821.7 534.8 823.3 536.4 C825.0 537.9 826.7 539.5 828.4 541.0 C830.0 542.5 831.7 544.0 833.4 545.5 C835.0 546.9 836.7 548.4 838.4 549.7 C840.0 551.1 841.7 552.5 843.4 553.8 C845.0 555.2 846.7 556.4 848.4 557.7 C850.0 559.0 851.7 560.2 853.4 561.4 C855.0 562.6 856.7 563.8 858.4 564.9 C860.0 566.0 861.7 567.1 863.4 568.2 C865.0 569.2 866.7 570.3 868.4 571.3 C870.0 572.3 871.7 573.2 873.4 574.2 C875.1 575.1 876.7 576.0 878.4 576.9 C880.1 577.8 881.7 578.6 883.4 579.4 C885.1 580.2 886.7 581.0 888.4 581.8 C890.1 582.5 891.7 583.2 893.4 583.9 C895.1 584.6 896.7 585.3 898.4 585.9 C900.1 586.5 901.7 587.1 903.4 587.7 C905.1 588.2 906.7 588.7 908.4 589.3 C910.1 589.8 911.7 590.2 913.4 590.7 C915.1 591.1 916.7 591.6 918.4 592.0 C920.1 592.3 921.7 592.7 923.4 593.1 C925.1 593.4 926.8 593.7 928.4 594.1 C930.1 594.4 931.8 594.6 933.4 594.9 C935.1 595.2 936.8 595.4 938.4 595.6 C940.1 595.9 941.8 596.1 943.4 596.3 C945.1 596.4 946.8 596.6 948.4 596.8 C950.1 596.9 951.8 597.1 953.4 597.2 C955.1 597.3 956.8 597.5 958.4 597.6 C960.1 597.7 961.8 597.8 963.4 597.8 C965.1 597.9 966.8 598.0 968.4 598.1 C970.1 598.1 971.8 598.2 973.5 598.2 C975.1 598.3 976.8 598.3 978.5 598.4 C980.1 598.4 981.8 598.4 983.5 598.5 C985.1 598.5 986.8 598.5 988.5 598.5 C990.1 598.6 991.8 598.6 993.5 598.6 C995.1 598.6 996.8 598.6 998.5 598.7 C1000.1 598.7 1001.8 598.7 1003.5 598.7 C1005.1 598.7 1006.8 598.8 1008.5 598.8 C1010.1 598.8 1011.8 598.8 1013.5 598.9 C1015.1 598.9 1016.8 598.9 1018.5 599.0 C1020.2 599.0 1021.8 599.0 1023.5 599.1 C1025.2 599.1 1026.8 599.1 1028.5 599.2 C1030.2 599.2 1031.8 599.2 1033.5 599.3 C1035.2 599.3 1036.8 599.3 1038.5 599.4 C1040.2 599.4 1041.8 599.4 1043.5 599.5 C1045.2 599.5 1046.8 599.5 1048.5 599.6 C1050.2 599.6 1051.8 599.7 1053.5 599.7 C1055.2 599.7 1056.8 599.8 1058.5 599.8 C1060.2 599.8 1061.8 599.9 1063.5 599.9 C1065.2 600.0 1066.8 600.0 1068.5 600.0 C1070.2 600.1 1071.9 600.1 1073.5 600.1 C1075.2 600.2 1076.9 600.2 1078.5 600.2 C1080.2 600.3 1081.9 600.3 1083.5 600.4 C1085.2 600.4 1086.9 600.4 1088.5 600.5 C1090.2 600.5 1091.9 600.5 1093.5 600.6 C1095.2 600.6 1096.9 600.6 1098.5 600.7 C1100.2 600.7 1101.9 600.7 1103.5 600.8 C1105.2 600.8 1106.9 600.8 1108.5 600.8 C1110.2 600.9 1111.9 600.9 1113.5 600.9 C1115.2 601.0 1116.9 601.0 1118.6 601.0 C1120.2 601.0 1121.9 601.1 1123.6 601.1 C1125.2 601.1 1126.9 601.1 1128.6 601.1 C1130.2 601.2 1131.9 601.2 1133.6 601.2 C1135.2 601.2 1136.9 601.3 1138.6 601.3 C1140.2 601.3 1141.9 601.3 1143.6 601.3 C1145.2 601.4 1146.9 601.4 1148.6 601.4 C1150.2 601.4 1151.9 601.4 1153.6 601.4 C1155.2 601.5 1156.9 601.5 1158.6 601.5 C1160.2 601.5 1161.9 601.5 1163.6 601.5 C1165.3 601.5 1166.9 601.6 1168.6 601.6 C1170.3 601.6 1171.9 601.6 1173.6 601.6 C1175.3 601.6 1176.9 601.6 1178.6 601.6 C1180.3 601.7 1181.9 601.7 1183.6 601.7 C1185.3 601.7 1186.9 601.7 1188.6 601.7 C1190.3 601.7 1191.9 601.7 1193.6 601.7 C1195.3 601.7 1196.9 601.7 1198.6 601.7 C1200.3 601.8 1201.9 601.8 1203.6 601.8 C1205.3 601.8 1206.9 601.8 1208.6 601.8 C1210.3 601.8 1211.9 601.8 1213.6 601.8 C1215.3 601.8 1217.0 601.8 1218.6 601.8 C1220.3 601.8 1222.0 601.8 1223.6 601.8 C1225.3 601.8 1227.0 601.8 1228.6 601.8 C1230.3 601.9 1232.0 601.9 1233.6 601.9 C1235.3 601.9 1237.0 601.9 1238.6 601.9 C1240.3 601.9 1242.0 601.9 1243.6 601.9 C1245.3 601.9 1247.0 601.9 1248.6 601.9 C1250.3 601.9 1252.0 601.9 1253.6 601.9 C1255.3 601.9 1257.0 601.9 1258.6 601.9 C1260.3 601.9 1262.0 601.9 1263.7 601.9 C1265.3 601.9 1267.0 601.9 1268.7 601.9 C1270.3 601.9 1272.0 601.9 1273.7 601.9 C1275.3 601.9 1277.0 601.9 1278.7 601.9 C1280.3 601.9 1282.0 601.9 1283.7 601.9 C1285.3 601.9 1287.0 601.9 1288.7 601.9 C1290.3 601.9 1292.0 601.9 1293.7 601.9 C1295.3 601.9 1297.0 601.9 1298.7 601.9 C1300.3 601.9 1302.0 601.9 1303.7 601.9 C1305.3 601.9 1307.0 601.9 1308.7 601.9 C1310.4 601.9 1312.0 601.9 1313.7 601.9 C1315.4 601.9 1317.0 601.9 1318.7 601.9 C1320.4 601.9 1322.0 601.9 1323.7 601.9 C1325.4 601.9 1327.0 601.9 1328.7 601.9 C1330.4 601.9 1332.0 601.9 1333.7 601.9 C1335.4 601.9 1337.0 601.9 1338.7 601.9 C1340.4 601.9 1342.0 601.9 1343.7 601.9 C1345.4 601.9 1347.0 601.9 1348.7 601.9 C1350.4 601.9 1352.0 601.9 1353.7 601.9 C1355.4 601.9 1357.0 601.9 1358.7 601.9 C1360.4 601.9 1362.1 601.9 1363.7 601.9 C1365.4 601.9 1367.1 602.0 1368.7 602.0 C1370.4 602.0 1372.1 602.0 1373.7 602.0 C1375.4 602.0 1377.1 602.0 1378.7 602.0 C1380.4 602.0 1382.1 602.0 1383.7 602.0 C1385.4 602.0 1387.1 602.0 1388.7 602.0 C1390.4 602.0 1392.1 602.0 1393.7 602.0 C1395.4 602.0 1397.1 602.0 1398.7 602.0 C1400.4 602.0 1402.1 602.0 1403.7 602.0 C1405.4 602.0 1407.1 602.0 1408.8 602.0 C1410.4 602.0 1412.1 602.0 1413.8 602.0 C1415.4 602.0 1417.1 602.0 1418.8 602.0 C1420.4 602.0 1422.1 602.0 1423.8 602.0 C1425.4 602.0 1427.1 602.0 1428.8 602.0 C1430.4 602.0 1432.1 602.0 1433.8 602.0 C1435.4 602.0 1437.1 602.0 1438.8 602.0 C1440.4 602.0 1442.1 602.0 1443.8 602.0 C1445.4 602.0 1447.1 602.0 1448.8 602.0 C1450.4 602.0 1452.1 602.1 1453.8 602.1 C1455.5 602.1 1457.1 602.1 1458.8 602.1 C1460.5 602.1 1462.1 602.1 1463.8 602.1 C1465.5 602.1 1467.1 602.1 1468.8 602.1 C1470.5 602.1 1472.1 602.1 1473.8 602.1 C1475.5 602.1 1477.1 602.1 1478.8 602.1 C1480.5 602.1 1482.1 602.1 1483.8 602.1 C1485.5 602.1 1487.1 602.1 1488.8 602.1 C1490.5 602.1 1492.1 602.1 1493.8 602.1 C1495.5 602.1 1497.1 602.1 1498.8 602.1 C1500.5 602.1 1502.1 602.1 1503.8 602.1 C1505.5 602.1 1507.2 602.1 1508.8 602.1 C1510.5 602.1 1512.2 602.1 1513.8 602.1 C1515.5 602.1 1517.2 602.1 1518.8 602.1 C1520.5 602.1 1522.2 602.1 1523.8 602.1 C1525.5 602.1 1527.2 602.2 1528.8 602.2 C1530.5 602.2 1532.2 602.2 1533.8 602.2 C1535.5 602.2 1537.2 602.2 1538.8 602.2 C1540.5 602.2 1542.2 602.2 1543.8 602.2 C1545.5 602.2 1547.2 602.2 1548.8 602.2 C1550.5 602.2 1552.2 602.2 1553.9 602.2 C1555.5 602.2 1557.2 602.2 1558.9 602.2 C1560.5 602.2 1562.2 602.2 1563.9 602.2 C1565.5 602.2 1567.2 602.2 1568.9 602.2 C1570.5 602.2 1572.2 602.2 1573.9 602.2 C1575.5 602.2 1577.2 602.2 1578.9 602.2 C1580.5 602.2 1582.2 602.2 1583.9 602.2 C1585.5 602.2 1587.2 602.2 1588.9 602.2 C1590.5 602.2 1592.2 602.2 1593.9 602.2 C1595.5 602.2 1597.2 602.2 1598.9 602.2 C1600.6 602.2 1602.2 602.2 1603.9 602.2 C1605.6 602.2 1607.2 602.2 1608.9 602.2 C1610.6 602.2 1612.2 602.2 1613.9 602.2 C1615.6 602.2 1617.2 602.2 1618.9 602.3 C1620.6 602.3 1622.2 602.3 1623.9 602.3 C1625.6 602.3 1627.2 602.3 1628.9 602.3 C1630.6 602.3 1632.2 602.3 1633.9 602.3 C1635.6 602.3 1637.2 602.3 1638.9 602.3 C1640.6 602.3 1642.2 602.3 1643.9 602.3 C1645.6 602.3 1647.2 602.3 1648.9 602.3 C1650.6 602.3 1652.3 602.3 1653.9 602.3 C1655.6 602.3 1657.3 602.3 1658.9 602.3 C1660.6 602.3 1662.3 602.3 1663.9 602.3 C1665.6 602.3 1667.3 602.3 1668.9 602.3 C1670.6 602.3 1672.3 602.3 1673.9 602.3 C1675.6 602.3 1677.3 602.3 1678.9 602.3 C1680.6 602.3 1682.3 602.3 1683.9 602.3 C1685.6 602.3 1687.3 602.3 1688.9 602.3 C1690.6 602.3 1692.3 602.3 1693.9 602.3 C1695.6 602.3 1697.3 602.3 1699.0 602.3 C1700.6 602.3 1702.3 602.3 1704.0 602.3 C1705.6 602.3 1707.3 602.3 1709.0 602.3 C1710.6 602.3 1712.3 602.3 1714.0 602.3 C1715.6 602.3 1717.3 602.3 1719.0 602.3 C1720.6 602.3 1722.3 602.3 1724.0 602.3 C1725.6 602.3 1727.3 602.3 1729.0 602.3 C1730.6 602.3 1732.3 602.3 1734.0 602.3 C1735.6 602.3 1737.3 602.3 1739.0 602.3 C1740.6 602.3 1742.3 602.3 1744.0 602.3 C1745.7 602.3 1747.3 602.3 1749.0 602.3 C1750.7 602.3 1752.3 602.3 1754.0 602.3 C1755.7 602.2 1757.3 602.2 1759.0 602.2 C1760.7 602.2 1762.3 602.2 1764.0 602.2 C1765.7 602.2 1768.2 602.2 1769.0 602.2"/>
<path stroke="#ff6e6e" d="M318.0 307.1 C318.8 307.3 321.3 307.8 323.0 308.2 C324.7 308.5 326.3 308.9 328.0 309.3 C329.7 309.7 331.3 310.2 333.0 310.6 C334.7 311.0 336.3 311.5 338.0 311.9 C339.7 312.4 341.3 312.8 343.0 313.3 C344.7 313.8 346.4 314.3 348.0 314.8 C349.7 315.3 351.4 315.8 353.0 316.3 C354.7 316.8 356.4 317.4 358.0 317.9 C359.7 318.5 361.4 319.0 363.0 319.6 C364.7 320.2 366.4 320.8 368.0 321.4 C369.7 321.9 371.4 322.5 373.0 323.2 C374.7 323.8 376.4 324.4 378.0 325.0 C379.7 325.7 381.4 326.3 383.0 327.0 C384.7 327.6 386.4 328.3 388.0 329.0 C389.7 329.7 391.4 330.4 393.1 331.1 C394.7 331.8 396.4 332.5 398.1 333.2 C399.7 333.9 401.4 334.6 403.1 335.4 C404.7 336.1 406.4 336.9 408.1 337.6 C409.7 338.4 411.4 339.1 413.1 339.9 C414.7 340.7 416.4 341.5 418.1 342.3 C419.7 343.1 421.4 343.9 423.1 344.7 C424.7 345.5 426.4 346.3 428.1 347.1 C429.7 348.0 431.4 348.8 433.1 349.7 C434.7 350.5 436.4 351.4 438.1 352.2 C439.8 353.1 441.4 354.0 443.1 354.9 C444.8 355.7 446.4 356.6 448.1 357.5 C449.8 358.4 451.4 359.3 453.1 360.2 C454.8 361.2 456.4 362.1 458.1 363.0 C459.8 363.9 461.4 364.9 463.1 365.8 C464.8 366.8 466.4 367.7 468.1 368.7 C469.8 369.6 471.4 370.6 473.1 371.6 C474.8 372.5 476.4 373.5 478.1 374.5 C479.8 375.5 481.4 376.5 483.1 377.5 C484.8 378.5 486.4 379.5 488.1 380.5 C489.8 381.5 491.5 382.5 493.1 383.5 C494.8 384.5 496.5 385.6 498.1 386.6 C499.8 387.6 501.5 388.6 503.1 389.7 C504.8 390.7 506.5 391.8 508.1 392.8 C509.8 393.9 511.5 394.9 513.1 396.0 C514.8 397.0 516.5 398.1 518.1 399.1 C519.8 400.2 521.5 401.3 523.1 402.3 C524.8 403.4 526.5 404.5 528.1 405.6 C529.8 406.6 531.5 407.7 533.1 408.8 C534.8 409.9 536.5 411.0 538.2 412.1 C539.8 413.2 541.5 414.2 543.2 415.3 C544.8 416.4 546.5 417.5 548.2 418.6 C549.8 419.7 551.5 420.8 553.2 421.9 C554.8 423.0 556.5 424.1 558.2 425.2 C559.8 426.3 561.5 427.4 563.2 428.5 C564.8 429.6 566.5 430.7 568.2 431.8 C569.8 432.9 571.5 434.0 573.2 435.1 C574.8 436.2 576.5 437.4 578.2 438.5 C579.8 439.6 581.5 440.7 583.2 441.8 C584.9 442.9 586.5 444.0 588.2 445.1 C589.9 446.2 591.5 447.3 593.2 448.4 C594.9 449.5 596.5 450.6 598.2 451.7 C599.9 452.8 601.5 453.9 603.2 455.0 C604.9 456.1 606.5 457.2 608.2 458.3 C609.9 459.3 611.5 460.4 613.2 461.5 C614.9 462.6 616.5 463.7 618.2 464.8 C619.9 465.9 621.5 466.9 623.2 468.0 C624.9 469.1 626.5 470.2 628.2 471.2 C629.9 472.3 631.5 473.4 633.2 474.4 C634.9 475.5 636.6 476.5 638.2 477.6 C639.9 478.7 641.6 479.7 643.2 480.8 C644.9 481.8 646.6 482.8 648.2 483.9 C649.9 484.9 651.6 486.0 653.2 487.0 C654.9 488.0 656.6 489.0 658.2 490.1 C659.9 491.1 661.6 492.1 663.2 493.1 C664.9 494.1 666.6 495.1 668.2 496.1 C669.9 497.1 671.6 498.1 673.2 499.1 C674.9 500.1 676.6 501.1 678.2 502.1 C679.9 503.1 681.6 504.0 683.3 505.0 C684.9 506.0 686.6 506.9 688.3 507.9 C689.9 508.9 691.6 509.8 693.3 510.8 C694.9 511.7 696.6 512.6 698.3 513.6 C699.9 514.5 701.6 515.4 703.3 516.4 C704.9 517.3 706.6 518.2 708.3 519.1 C709.9 520.0 711.6 520.9 713.3 521.8 C714.9 522.7 716.6 523.6 718.3 524.5 C719.9 525.4 721.6 526.2 723.3 527.1 C724.9 528.0 726.6 528.8 728.3 529.7 C730.0 530.6 731.6 531.4 733.3 532.2 C735.0 533.1 736.6 533.9 738.3 534.7 C740.0 535.6 741.6 536.4 743.3 537.2 C745.0 538.0 746.6 538.8 748.3 539.6 C750.0 540.4 751.6 541.2 753.3 541.9 C755.0 542.7 756.6 543.5 758.3 544.2 C760.0 545.0 761.6 545.8 763.3 546.5 C765.0 547.2 766.6 548.0 768.3 548.7 C770.0 549.4 771.6 550.1 773.3 550.9 C775.0 551.6 776.6 552.3 778.3 553.0 C780.0 553.6 781.7 554.3 783.3 555.0 C785.0 555.7 786.7 556.3 788.3 557.0 C790.0 557.6 791.7 558.3 793.3 558.9 C795.0 559.5 796.7 560.2 798.3 560.8 C800.0 561.4 801.7 562.0 803.3 562.6 C805.0 563.2 806.7 563.8 808.3 564.3 C810.0 564.9 811.7 565.5 813.3 566.0 C815.0 566.6 816.7 567.1 818.3 567.7 C820.0 568.2 821.7 568.7 823.3 569.2 C825.0 569.8 826.7 570.3 828.4 570.8 C830.0 571.3 831.7 571.8 833.4 572.2 C835.0 572.7 836.7 573.2 838.4 573.7 C840.0 574.1 841.7 574.6 843.4 575.0 C845.0 575.5 846.7 575.9 848.4 576.3 C850.0 576.8 851.7 577.2 853.4 577.6 C855.0 578.0 856.7 578.4 858.4 578.8 C860.0 579.2 861.7 579.6 863.4 580.0 C865.0 580.4 866.7 580.7 868.4 581.1 C870.0 581.5 871.7 581.8 873.4 582.2 C875.1 582.5 876.7 582.9 878.4 583.2 C880.1 583.5 881.7 583.9 883.4 584.2 C885.1 584.5 886.7 584.8 888.4 585.1 C890.1 585.4 891.7 585.7 893.4 586.0 C895.1 586.3 896.7 586.6 898.4 586.9 C900.1 587.2 901.7 587.4 903.4 587.7 C905.1 588.0 906.7 588.2 908.4 588.5 C910.1 588.8 911.7 589.0 913.4 589.2 C915.1 589.5 916.7 589.7 918.4 590.0 C920.1 590.2 921.7 590.4 923.4 590.6 C925.1 590.9 926.8 591.1 928.4 591.3 C930.1 591.5 931.8 591.7 933.4 591.9 C935.1 592.1 936.8 592.3 938.4 592.5 C940.1 592.7 941.8 592.8 943.4 593.0 C945.1 593.2 946.8 593.4 948.4 593.5 C950.1 593.7 951.8 593.9 953.4 594.0 C955.1 594.2 956.8 594.3 958.4 594.5 C960.1 594.6 961.8 594.8 963.4 594.9 C965.1 595.0 966.8 595.2 968.4 595.3 C970.1 595.4 971.8 595.6 973.5 595.7 C975.1 595.8 976.8 595.9 978.5 596.1 C980.1 596.2 981.8 596.3 983.5 596.4 C985.1 596.5 986.8 596.6 988.5 596.7 C990.1 596.8 991.8 596.9 993.5 597.0 C995.1 597.1 996.8 597.2 998.5 597.3 C1000.1 597.4 1001.8 597.5 1003.5 597.5 C1005.1 597.6 1006.8 597.7 1008.5 597.8 C1010.1 597.9 1011.8 597.9 1013.5 598.0 C1015.1 598.1 1016.8 598.1 1018.5 598.2 C1020.2 598.3 1021.8 598.3 1023.5 598.4 C1025.2 598.5 1026.8 598.5 1028.5 598.6 C1030.2 598.6 1031.8 598.7 1033.5 598.7 C1035.2 598.8 1036.8 598.8 1038.5 598.9 C1040.2 598.9 1041.8 599.0 1043.5 599.0 C1045.2 599.0 1046.8 599.1 1048.5 599.1 C1050.2 599.2 1051.8 599.2 1053.5 599.2 C1055.2 599.3 1056.8 599.3 1058.5 599.3 C1060.2 599.3 1061.8 599.4 1063.5 599.4 C1065.2 599.4 1066.8 599.4 1068.5 599.5 C1070.2 599.5 1071.9 599.5 1073.5 599.5 C1075.2 599.6 1076.9 599.6 1078.5 599.6 C1080.2 599.6 1081.9 599.6 1083.5 599.6 C1085.2 599.6 1086.9 599.7 1088.5 599.7 C1090.2 599.7 1091.9 599.7 1093.5 599.7 C1095.2 599.7 1096.9 599.7 1098.5 599.7 C1100.2 599.7 1101.9 599.7 1103.5 599.7 C1105.2 599.7 1106.9 599.7 1108.5 599.7 C1110.2 599.7 1111.9 599.7 1113.5 599.7 C1115.2 599.7 1116.9 599.7 1118.6 599.7 C1120.2 599.7 1121.9 599.7 1123.6 599.7 C1125.2 599.7 1126.9 599.7 1128.6 599.7 C1130.2 599.7 1131.9 599.7 1133.6 599.7 C1135.2 599.7 1136.9 599.7 1138.6 599.7 C1140.2 599.7 1141.9 599.7 1143.6 599.7 C1145.2 599.7 1146.9 599.7 1148.6 599.7 C1150.2 599.7 1151.9 599.7 1153.6 599.7 C1155.2 599.7 1156.9 599.7 1158.6 599.7 C1160.2 599.7 1161.9 599.7 1163.6 599.7 C1165.3 599.7 1166.9 599.7 1168.6 599.7 C1170.3 599.7 1171.9 599.7 1173.6 599.7 C1175.3 599.7 1176.9 599.7 1178.6 599.7 C1180.3 599.7 1181.9 599.7 1183.6 599.7 C1185.3 599.7 1186.9 599.7 1188.6 599.7 C1190.3 599.7 1191.9 599.7 1193.6 599.7 C1195.3 599.7 1196.9 599.7 1198.6 599.7 C1200.3 599.7 1201.9 599.7 1203.6 599.7 C1205.3 599.7 1206.9 599.7 1208.6 599.7 C1210.3 599.7 1211.9 599.7 1213.6 599.7 C1215.3 599.7 1217.0 599.7 1218.6 599.7 C1220.3 599.7 1222.0 599.8 1223.6 599.8 C1225.3 599.8 1227.0 599.8 1228.6 599.8 C1230.3 599.8 1232.0 599.8 1233.6 599.8 C1235.3 599.8 1237.0 599.8 1238.6 599.8 C1240.3 599.8 1242.0 599.8 1243.6 599.8 C1245.3 599.8 1247.0 599.8 1248.6 599.8 C1250.3 599.8 1252.0 599.8 1253.6 599.9 C1255.3 599.9 1257.0 599.9 1258.6 599.9 C1260.3 599.9 1262.0 599.9 1263.7 599.9 C1265.3 599.9 1267.0 599.9 1268.7 599.9 C1270.3 599.9 1272.0 599.9 1273.7 599.9 C1275.3 599.9 1277.0 599.9 1278.7 599.9 C1280.3 600.0 1282.0 600.0 1283.7 600.0 C1285.3 600.0 1287.0 600.0 1288.7 600.0 C1290.3 600.0 1292.0 600.0 1293.7 600.0 C1295.3 600.0 1297.0 600.0 1298.7 600.0 C1300.3 600.0 1302.0 600.0 1303.7 600.1 C1305.3 600.1 1307.0 600.1 1308.7 600.1 C1310.4 600.1 1312.0 600.1 1313.7 600.1 C1315.4 600.1 1317.0 600.1 1318.7 600.1 C1320.4 600.1 1322.0 600.1 1323.7 600.1 C1325.4 600.1 1327.0 600.1 1328.7 600.1 C1330.4 600.2 1332.0 600.2 1333.7 600.2 C1335.4 600.2 1337.0 600.2 1338.7 600.2 C1340.4 600.2 1342.0 600.2 1343.7 600.2 C1345.4 600.2 1347.0 600.2 1348.7 600.2 C1350.4 600.2 1352.0 600.2 1353.7 600.2 C1355.4 600.2 1357.0 600.2 1358.7 600.2 C1360.4 600.3 1362.1 600.3 1363.7 600.3 C1365.4 600.3 1367.1 600.3 1368.7 600.3 C1370.4 600.3 1372.1 600.3 1373.7 600.3 C1375.4 600.3 1377.1 600.3 1378.7 600.3 C1380.4 600.3 1382.1 600.3 1383.7 600.3 C1385.4 600.3 1387.1 600.3 1388.7 600.3 C1390.4 600.3 1392.1 600.3 1393.7 600.3 C1395.4 600.3 1397.1 600.3 1398.7 600.3 C1400.4 600.3 1402.1 600.3 1403.7 600.3 C1405.4 600.3 1407.1 600.3 1408.8 600.3 C1410.4 600.4 1412.1 600.4 1413.8 600.4 C1415.4 600.4 1417.1 600.4 1418.8 600.4 C1420.4 600.4 1422.1 600.4 1423.8 600.4 C1425.4 600.4 1427.1 600.4 1428.8 600.4 C1430.4 600.4 1432.1 600.4 1433.8 600.4 C1435.4 600.4 1437.1 600.4 1438.8 600.4 C1440.4 600.4 1442.1 600.4 1443.8 600.4 C1445.4 600.4 1447.1 600.4 1448.8 600.4 C1450.4 600.4 1452.1 600.4 1453.8 600.4 C1455.5 600.4 1457.1 600.4 1458.8 600.4 C1460.5 600.4 1462.1 600.4 1463.8 600.4 C1465.5 600.4 1467.1 600.4 1468.8 600.4 C1470.5 600.4 1472.1 600.4 1473.8 600.4 C1475.5 600.4 1477.1 600.4 1478.8 600.4 C1480.5 600.4 1482.1 600.4 1483.8 600.4 C1485.5 600.4 1487.1 600.4 1488.8 600.4 C1490.5 600.4 1492.1 600.4 1493.8 600.4 C1495.5 600.4 1497.1 600.4 1498.8 600.4 C1500.5 600.4 1502.1 600.4 1503.8 600.4 C1505.5 600.4 1507.2 600.4 1508.8 600.4 C1510.5 600.4 1512.2 600.4 1513.8 600.4 C1515.5 600.4 1517.2 600.4 1518.8 600.4 C1520.5 600.4 1522.2 600.4 1523.8 600.4 C1525.5 600.4 1527.2 600.4 1528.8 600.4 C1530.5 600.4 1532.2 600.4 1533.8 600.3 C1535.5 600.3 1537.2 600.3 1538.8 600.3 C1540.5 600.3 1542.2 600.3 1543.8 600.3 C1545.5 600.3 1547.2 600.3 1548.8 600.3 C1550.5 600.3 1552.2 600.3 1553.9 600.3 C1555.5 600.3 1557.2 600.3 1558.9 600.3 C1560.5 600.3 1562.2 600.3 1563.9 600.3 C1565.5 600.3 1567.2 600.3 1568.9 600.3 C1570.5 600.3 1572.2 600.3 1573.9 600.3 C1575.5 600.3 1577.2 600.3 1578.9 600.3 C1580.5 600.3 1582.2 600.3 1583.9 600.3 C1585.5 600.3 1587.2 600.3 1588.9 600.3 C1590.5 600.3 1592.2 600.3 1593.9 600.3 C1595.5 600.3 1597.2 600.3 1598.9 600.3 C1600.6 600.3 1602.2 600.3 1603.9 600.3 C1605.6 600.3 1607.2 600.3 1608.9 600.3 C1610.6 600.3 1612.2 600.3 1613.9 600.3 C1615.6 600.3 1617.2 600.3 1618.9 600.3 C1620.6 600.3 1622.2 600.3 1623.9 600.3 C1625.6 600.3 1627.2 600.3 1628.9 600.3 C1630.6 600.3 1632.2 600.3 1633.9 600.3 C1635.6 600.3 1637.2 600.3 1638.9 600.3 C1640.6 600.3 1642.2 600.3 1643.9 600.3 C1645.6 600.3 1647.2 600.3 1648.9 600.3 C1650.6 600.3 1652.3 600.3 1653.9 600.3 C1655.6 600.3 1657.3 600.3 1658.9 600.3 C1660.6 600.3 1662.3 600.3 1663.9 600.3 C1665.6 600.3 1667.3 600.3 1668.9 600.3 C1670.6 600.3 1672.3 600.3 1673.9 600.3 C1675.6 600.3 1677.3 600.3 1678.9 600.3 C1680.6 600.3 1682.3 600.3 1683.9 600.3 C1685.6 600.3 1687.3 600.3 1688.9 600.3 C1690.6 600.3 1692.3 600.3 1693.9 600.3 C1695.6 600.3 1697.3 600.3 1699.0 600.3 C1700.6 600.3 1702.3 600.3 1704.0 600.3 C1705.6 600.3 1707.3 600.3 1709.0 600.3 C1710.6 600.3 1712.3 600.3 1714.0 600.3 C1715.6 600.3 1717.3 600.3 1719.0 600.3 C1720.6 600.3 1722.3 600.3 1724.0 600.3 C1725.6 600.3 1727.3 600.3 1729.0 600.3 C1730.6 600.3 1732.3 600.3 1734.0 600.3 C1735.6 600.3 1737.3 600.3 1739.0 600.3 C1740.6 600.3 1742.3 600.3 1744.0 600.3 C1745.7 600.3 1747.3 600.3 1749.0 600.3 C1750.7 600.3 1752.3 600.3 1754.0 600.3 C1755.7 600.3 1757.3 600.3 1759.0 600.3 C1760.7 600.3 1762.3 600.3 1764.0 600.3 C1765.7 600.3 1768.2 600.4 1769.0 600.4"/>
<path stroke="#000000" d="M318.0 1125.3 C318.8 1125.4 321.3 1126.0 323.0 1126.1 C324.7 1126.2 326.3 1126.2 328.0 1126.1 C329.7 1126.0 331.3 1125.7 333.0 1125.4 C334.7 1125.2 336.3 1124.8 338.0 1124.3 C339.7 1123.9 341.3 1123.4 343.0 1123.0 C344.7 1122.5 346.4 1121.9 348.0 1121.5 C349.7 1121.0 351.4 1120.5 353.0 1120.0 C354.7 1119.6 356.4 1119.2 358.0 1118.9 C359.7 1118.5 361.4 1118.2 363.0 1118.0 C364.7 1117.7 366.4 1117.5 368.0 1117.2 C369.7 1117.0 371.4 1116.8 373.0 1116.6 C374.7 1116.4 376.4 1116.2 378.0 1115.9 C379.7 1115.7 381.4 1115.5 383.0 1115.2 C384.7 1115.0 386.4 1114.8 388.0 1114.5 C389.7 1114.3 391.4 1114.0 393.1 1113.8 C394.7 1113.6 396.4 1113.3 398.1 1113.1 C399.7 1112.8 401.4 1112.6 403.1 1112.3 C404.7 1112.1 406.4 1111.8 408.1 1111.6 C409.7 1111.3 411.4 1111.1 413.1 1110.8 C414.7 1110.6 416.4 1110.4 418.1 1110.1 C419.7 1109.9 421.4 1109.7 423.1 1109.5 C424.7 1109.3 426.4 1109.1 428.1 1108.9 C429.7 1108.7 431.4 1108.5 433.1 1108.3 C434.7 1108.1 436.4 1107.9 438.1 1107.8 C439.8 1107.6 441.4 1107.5 443.1 1107.3 C444.8 1107.2 446.4 1107.0 448.1 1106.9 C449.8 1106.8 451.4 1106.6 453.1 1106.5 C454.8 1106.3 456.4 1106.2 458.1 1106.0 C459.8 1105.9 461.4 1105.7 463.1 1105.5 C464.8 1105.3 466.4 1105.1 468.1 1104.9 C469.8 1104.7 471.4 1104.5 473.1 1104.3 C474.8 1104.0 476.4 1103.8 478.1 1103.5 C479.8 1103.2 481.4 1102.9 483.1 1102.5 C484.8 1102.2 486.4 1101.8 488.1 1101.4 C489.8 1101.0 491.5 1100.6 493.1 1100.1 C494.8 1099.6 496.5 1099.1 498.1 1098.6 C499.8 1098.0 501.5 1097.4 503.1 1096.8 C504.8 1096.2 506.5 1095.6 508.1 1095.0 C509.8 1094.3 511.5 1093.7 513.1 1093.0 C514.8 1092.4 516.5 1091.7 518.1 1091.1 C519.8 1090.4 521.5 1089.7 523.1 1089.1 C524.8 1088.5 526.5 1087.9 528.1 1087.3 C529.8 1086.7 531.5 1086.1 533.1 1085.6 C534.8 1085.0 536.5 1084.5 538.2 1084.1 C539.8 1083.6 541.5 1083.1 543.2 1082.7 C544.8 1082.2 546.5 1081.8 548.2 1081.4 C549.8 1081.0 551.5 1080.6 553.2 1080.2 C554.8 1079.8 556.5 1079.4 558.2 1079.1 C559.8 1078.7 561.5 1078.4 563.2 1078.0 C564.8 1077.7 566.5 1077.3 568.2 1077.0 C569.8 1076.6 571.5 1076.3 573.2 1075.9 C574.8 1075.6 576.5 1075.2 578.2 1074.9 C579.8 1074.5 581.5 1074.2 583.2 1073.8 C584.9 1073.4 586.5 1073.0 588.2 1072.6 C589.9 1072.2 591.5 1071.8 593.2 1071.4 C594.9 1070.9 596.5 1070.5 598.2 1070.0 C599.9 1069.5 601.5 1069.1 603.2 1068.6 C604.9 1068.1 606.5 1067.5 608.2 1067.0 C609.9 1066.5 611.5 1065.9 613.2 1065.4 C614.9 1064.8 616.5 1064.2 618.2 1063.7 C619.9 1063.1 621.5 1062.5 623.2 1061.8 C624.9 1061.2 626.5 1060.6 628.2 1059.9 C629.9 1059.3 631.5 1058.6 633.2 1058.0 C634.9 1057.3 636.6 1056.6 638.2 1055.9 C639.9 1055.2 641.6 1054.5 643.2 1053.8 C644.9 1053.1 646.6 1052.4 648.2 1051.6 C649.9 1050.9 651.6 1050.2 653.2 1049.5 C654.9 1048.8 656.6 1048.1 658.2 1047.3 C659.9 1046.6 661.6 1045.9 663.2 1045.2 C664.9 1044.6 666.6 1043.9 668.2 1043.2 C669.9 1042.5 671.6 1041.9 673.2 1041.2 C674.9 1040.6 676.6 1040.0 678.2 1039.4 C679.9 1038.8 681.6 1038.2 683.3 1037.6 C684.9 1037.0 686.6 1036.5 688.3 1036.0 C689.9 1035.5 691.6 1035.0 693.3 1034.5 C694.9 1034.0 696.6 1033.6 698.3 1033.0 C699.9 1032.5 701.6 1031.9 703.3 1031.2 C704.9 1030.5 706.6 1029.7 708.3 1028.9 C709.9 1028.1 711.6 1027.2 713.3 1026.3 C714.9 1025.4 716.6 1024.5 718.3 1023.6 C719.9 1022.6 721.6 1021.7 723.3 1020.7 C724.9 1019.7 726.6 1018.8 728.3 1017.8 C730.0 1016.8 731.6 1015.8 733.3 1014.8 C735.0 1013.8 736.6 1012.8 738.3 1011.8 C740.0 1010.8 741.6 1009.8 743.3 1008.9 C745.0 1007.9 746.6 1006.9 748.3 1006.0 C750.0 1005.0 751.6 1004.1 753.3 1003.2 C755.0 1002.3 756.6 1001.4 758.3 1000.5 C760.0 999.6 761.6 998.7 763.3 997.9 C765.0 997.0 766.6 996.1 768.3 995.2 C770.0 994.3 771.6 993.4 773.3 992.4 C775.0 991.5 776.6 990.6 778.3 989.6 C780.0 988.7 781.7 987.7 783.3 986.7 C785.0 985.6 786.7 984.6 788.3 983.5 C790.0 982.4 791.7 981.3 793.3 980.2 C795.0 979.1 796.7 977.9 798.3 976.8 C800.0 975.6 801.7 974.4 803.3 973.3 C805.0 972.1 806.7 970.9 808.3 969.8 C810.0 968.6 811.7 967.4 813.3 966.3 C815.0 965.2 816.7 964.0 818.3 962.9 C820.0 961.9 821.7 960.8 823.3 959.8 C825.0 958.7 826.7 957.7 828.4 956.8 C830.0 955.8 831.7 954.9 833.4 954.1 C835.0 953.2 836.7 952.3 838.4 951.5 C840.0 950.7 841.7 949.9 843.4 949.1 C845.0 948.3 846.7 947.5 848.4 946.7 C850.0 946.0 851.7 945.2 853.4 944.4 C855.0 943.6 856.7 942.9 858.4 942.1 C860.0 941.3 861.7 940.5 863.4 939.7 C865.0 938.9 866.7 938.0 868.4 937.3 C870.0 936.5 871.7 935.7 873.4 935.0 C875.1 934.3 876.7 933.7 878.4 933.1 C880.1 932.5 881.7 931.9 883.4 931.5 C885.1 931.0 886.7 930.6 888.4 930.4 C890.1 930.1 891.7 930.0 893.4 929.9 C895.1 929.8 896.7 929.9 898.4 930.0 C900.1 930.1 901.7 930.4 903.4 930.6 C905.1 930.9 906.7 931.3 908.4 931.7 C910.1 932.1 911.7 932.5 913.4 933.0 C915.1 933.5 916.7 934.0 918.4 934.6 C920.1 935.1 921.7 935.7 923.4 936.3 C925.1 936.9 926.8 937.5 928.4 938.1 C930.1 938.7 931.8 939.2 933.4 939.8 C935.1 940.4 936.8 941.0 938.4 941.6 C940.1 942.3 941.8 942.9 943.4 943.6 C945.1 944.3 946.8 945.0 948.4 945.8 C950.1 946.6 951.8 947.5 953.4 948.5 C955.1 949.4 956.8 950.5 958.4 951.6 C960.1 952.8 961.8 954.0 963.4 955.3 C965.1 956.6 966.8 958.0 968.4 959.4 C970.1 960.8 971.8 962.3 973.5 963.7 C975.1 965.2 976.8 966.8 978.5 968.3 C980.1 969.9 981.8 971.4 983.5 973.0 C985.1 974.6 986.8 976.1 988.5 977.7 C990.1 979.3 991.8 980.9 993.5 982.5 C995.1 984.1 996.8 985.7 998.5 987.3 C1000.1 988.9 1001.8 990.5 1003.5 992.1 C1005.1 993.7 1006.8 995.4 1008.5 997.0 C1010.1 998.6 1011.8 1000.2 1013.5 1001.8 C1015.1 1003.4 1016.8 1004.9 1018.5 1006.5 C1020.2 1008.1 1021.8 1009.7 1023.5 1011.3 C1025.2 1012.8 1026.8 1014.4 1028.5 1015.9 C1030.2 1017.5 1031.8 1019.0 1033.5 1020.6 C1035.2 1022.1 1036.8 1023.6 1038.5 1025.1 C1040.2 1026.6 1041.8 1028.1 1043.5 1029.5 C1045.2 1031.0 1046.8 1032.5 1048.5 1033.9 C1050.2 1035.3 1051.8 1036.7 1053.5 1038.1 C1055.2 1039.5 1056.8 1040.9 1058.5 1042.2 C1060.2 1043.6 1061.8 1044.9 1063.5 1046.3 C1065.2 1047.6 1066.8 1048.9 1068.5 1050.2 C1070.2 1051.5 1071.9 1052.7 1073.5 1054.0 C1075.2 1055.2 1076.9 1056.5 1078.5 1057.7 C1080.2 1058.9 1081.9 1060.1 1083.5 1061.2 C1085.2 1062.4 1086.9 1063.6 1088.5 1064.7 C1090.2 1065.9 1091.9 1067.0 1093.5 1068.1 C1095.2 1069.2 1096.9 1070.3 1098.5 1071.3 C1100.2 1072.4 1101.9 1073.5 1103.5 1074.5 C1105.2 1075.5 1106.9 1076.5 1108.5 1077.5 C1110.2 1078.5 1111.9 1079.5 1113.5 1080.5 C1115.2 1081.4 1116.9 1082.4 1118.6 1083.3 C1120.2 1084.2 1121.9 1085.1 1123.6 1086.0 C1125.2 1086.9 1126.9 1087.8 1128.6 1088.7 C1130.2 1089.5 1131.9 1090.4 1133.6 1091.2 C1135.2 1092.0 1136.9 1092.9 1138.6 1093.7 C1140.2 1094.5 1141.9 1095.3 1143.6 1096.0 C1145.2 1096.8 1146.9 1097.6 1148.6 1098.3 C1150.2 1099.1 1151.9 1099.8 1153.6 1100.6 C1155.2 1101.3 1156.9 1102.0 1158.6 1102.7 C1160.2 1103.4 1161.9 1104.1 1163.6 1104.8 C1165.3 1105.5 1166.9 1106.2 1168.6 1106.9 C1170.3 1107.6 1171.9 1108.2 1173.6 1108.9 C1175.3 1109.5 1176.9 1110.2 1178.6 1110.8 C1180.3 1111.5 1181.9 1112.1 1183.6 1112.7 C1185.3 1113.3 1186.9 1113.9 1188.6 1114.5 C1190.3 1115.1 1191.9 1115.7 1193.6 1116.3 C1195.3 1116.9 1196.9 1117.5 1198.6 1118.0 C1200.3 1118.6 1201.9 1119.2 1203.6 1119.7 C1205.3 1120.3 1206.9 1120.8 1208.6 1121.4 C1210.3 1121.9 1211.9 1122.4 1213.6 1123.0 C1215.3 1123.5 1217.0 1124.0 1218.6 1124.5 C1220.3 1125.0 1222.0 1125.5 1223.6 1126.0 C1225.3 1126.5 1227.0 1127.0 1228.6 1127.5 C1230.3 1127.9 1232.0 1128.4 1233.6 1128.8 C1235.3 1129.3 1237.0 1129.7 1238.6 1130.1 C1240.3 1130.6 1242.0 1131.0 1243.6 1131.3 C1245.3 1131.7 1247.0 1132.1 1248.6 1132.4 C1250.3 1132.8 1252.0 1133.1 1253.6 1133.5 C1255.3 1133.8 1257.0 1134.1 1258.6 1134.5 C1260.3 1134.8 1262.0 1135.1 1263.7 1135.4 C1265.3 1135.7 1267.0 1136.0 1268.7 1136.3 C1270.3 1136.6 1272.0 1136.9 1273.7 1137.2 C1275.3 1137.5 1277.0 1137.9 1278.7 1138.2 C1280.3 1138.5 1282.0 1138.8 1283.7 1139.1 C1285.3 1139.4 1287.0 1139.6 1288.7 1139.9 C1290.3 1140.2 1292.0 1140.5 1293.7 1140.8 C1295.3 1141.1 1297.0 1141.3 1298.7 1141.6 C1300.3 1141.8 1302.0 1142.1 1303.7 1142.3 C1305.3 1142.6 1307.0 1142.8 1308.7 1143.0 C1310.4 1143.2 1312.0 1143.4 1313.7 1143.6 C1315.4 1143.8 1317.0 1143.9 1318.7 1144.1 C1320.4 1144.3 1322.0 1144.4 1323.7 1144.6 C1325.4 1144.7 1327.0 1144.8 1328.7 1145.0 C1330.4 1145.1 1332.0 1145.2 1333.7 1145.3 C1335.4 1145.4 1337.0 1145.5 1338.7 1145.7 C1340.4 1145.8 1342.0 1145.9 1343.7 1146.0 C1345.4 1146.1 1347.0 1146.2 1348.7 1146.3 C1350.4 1146.4 1352.0 1146.5 1353.7 1146.6 C1355.4 1146.7 1357.0 1146.8 1358.7 1146.9 C1360.4 1147.0 1362.1 1147.1 1363.7 1147.1 C1365.4 1147.2 1367.1 1147.3 1368.7 1147.4 C1370.4 1147.5 1372.1 1147.6 1373.7 1147.7 C1375.4 1147.8 1377.1 1147.8 1378.7 1147.9 C1380.4 1148.0 1382.1 1148.1 1383.7 1148.2 C1385.4 1148.2 1387.1 1148.3 1388.7 1148.4 C1390.4 1148.5 1392.1 1148.5 1393.7 1148.6 C1395.4 1148.7 1397.1 1148.7 1398.7 1148.8 C1400.4 1148.9 1402.1 1148.9 1403.7 1149.0 C1405.4 1149.1 1407.1 1149.1 1408.8 1149.2 C1410.4 1149.3 1412.1 1149.3 1413.8 1149.4 C1415.4 1149.4 1417.1 1149.5 1418.8 1149.6 C1420.4 1149.6 1422.1 1149.7 1423.8 1149.7 C1425.4 1149.8 1427.1 1149.8 1428.8 1149.9 C1430.4 1149.9 1432.1 1150.0 1433.8 1150.0 C1435.4 1150.1 1437.1 1150.1 1438.8 1150.2 C1440.4 1150.2 1442.1 1150.3 1443.8 1150.3 C1445.4 1150.4 1447.1 1150.4 1448.8 1150.4 C1450.4 1150.5 1452.1 1150.5 1453.8 1150.6 C1455.5 1150.6 1457.1 1150.6 1458.8 1150.7 C1460.5 1150.7 1462.1 1150.8 1463.8 1150.8 C1465.5 1150.8 1467.1 1150.9 1468.8 1150.9 C1470.5 1150.9 1472.1 1151.0 1473.8 1151.0 C1475.5 1151.0 1477.1 1151.0 1478.8 1151.1 C1480.5 1151.1 1482.1 1151.1 1483.8 1151.1 C1485.5 1151.2 1487.1 1151.2 1488.8 1151.2 C1490.5 1151.2 1492.1 1151.3 1493.8 1151.3 C1495.5 1151.3 1497.1 1151.3 1498.8 1151.4 C1500.5 1151.4 1502.1 1151.4 1503.8 1151.4 C1505.5 1151.4 1507.2 1151.5 1508.8 1151.5 C1510.5 1151.5 1512.2 1151.5 1513.8 1151.5 C1515.5 1151.5 1517.2 1151.5 1518.8 1151.6 C1520.5 1151.6 1522.2 1151.6 1523.8 1151.6 C1525.5 1151.6 1527.2 1151.6 1528.8 1151.6 C1530.5 1151.6 1532.2 1151.7 1533.8 1151.7 C1535.5 1151.7 1537.2 1151.7 1538.8 1151.7 C1540.5 1151.7 1542.2 1151.7 1543.8 1151.7 C1545.5 1151.7 1547.2 1151.7 1548.8 1151.7 C1550.5 1151.7 1552.2 1151.7 1553.9 1151.7 C1555.5 1151.7 1557.2 1151.7 1558.9 1151.7 C1560.5 1151.8 1562.2 1151.8 1563.9 1151.8 C1565.5 1151.8 1567.2 1151.8 1568.9 1151.8 C1570.5 1151.8 1572.2 1151.8 1573.9 1151.8 C1575.5 1151.8 1577.2 1151.8 1578.9 1151.8 C1580.5 1151.8 1582.2 1151.8 1583.9 1151.8 C1585.5 1151.7 1587.2 1151.7 1588.9 1151.7 C1590.5 1151.7 1592.2 1151.7 1593.9 1151.7 C1595.5 1151.7 1597.2 1151.7 1598.9 1151.7 C1600.6 1151.7 1602.2 1151.7 1603.9 1151.7 C1605.6 1151.7 1607.2 1151.7 1608.9 1151.7 C1610.6 1151.7 1612.2 1151.7 1613.9 1151.7 C1615.6 1151.7 1617.2 1151.7 1618.9 1151.7 C1620.6 1151.6 1622.2 1151.6 1623.9 1151.6 C1625.6 1151.6 1627.2 1151.6 1628.9 1151.6 C1630.6 1151.6 1632.2 1151.6 1633.9 1151.6 C1635.6 1151.6 1637.2 1151.6 1638.9 1151.6 C1640.6 1151.6 1642.2 1151.6 1643.9 1151.5 C1645.6 1151.5 1647.2 1151.5 1648.9 1151.5 C1650.6 1151.5 1652.3 1151.5 1653.9 1151.5 C1655.6 1151.5 1657.3 1151.5 1658.9 1151.5 C1660.6 1151.5 1662.3 1151.5 1663.9 1151.5 C1665.6 1151.4 1667.3 1151.4 1668.9 1151.4 C1670.6 1151.4 1672.3 1151.4 1673.9 1151.4 C1675.6 1151.4 1677.3 1151.4 1678.9 1151.4 C1680.6 1151.4 1682.3 1151.4 1683.9 1151.4 C1685.6 1151.4 1687.3 1151.3 1688.9 1151.3 C1690.6 1151.3 1692.3 1151.3 1693.9 1151.3 C1695.6 1151.3 1697.3 1151.3 1699.0 1151.3 C1700.6 1151.3 1702.3 1151.3 1704.0 1151.3 C1705.6 1151.3 1707.3 1151.3 1709.0 1151.3 C1710.6 1151.3 1712.3 1151.3 1714.0 1151.3 C1715.6 1151.3 1717.3 1151.3 1719.0 1151.3 C1720.6 1151.3 1722.3 1151.2 1724.0 1151.2 C1725.6 1151.2 1727.3 1151.2 1729.0 1151.2 C1730.6 1151.2 1732.3 1151.2 1734.0 1151.2 C1735.6 1151.2 1737.3 1151.2 1739.0 1151.2 C1740.6 1151.2 1742.3 1151.2 1744.0 1151.2 C1745.7 1151.2 1747.3 1151.2 1749.0 1151.2 C1750.7 1151.2 1752.3 1151.3 1754.0 1151.3 C1755.7 1151.3 1757.3 1151.3 1759.0 1151.3 C1760.7 1151.3 1762.3 1151.3 1764.0 1151.3 C1765.7 1151.3 1768.2 1151.3 1769.0 1151.3"/>
<path stroke="#ff00ff" d="M318.0 1136.1 C318.8 1136.1 321.3 1136.1 323.0 1136.1 C324.7 1136.1 326.3 1136.1 328.0 1136.1 C329.7 1136.1 331.3 1136.1 333.0 1136.1 C334.7 1136.1 336.3 1136.1 338.0 1136.0 C339.7 1135.9 341.3 1135.8 343.0 1135.6 C344.7 1135.4 346.4 1135.2 348.0 1134.9 C349.7 1134.6 351.4 1134.2 353.0 1133.8 C354.7 1133.3 356.4 1132.7 358.0 1132.1 C359.7 1131.4 361.4 1130.7 363.0 1130.0 C364.7 1129.3 366.4 1128.5 368.0 1127.9 C369.7 1127.2 371.4 1126.6 373.0 1126.1 C374.7 1125.6 376.4 1125.2 378.0 1124.9 C379.7 1124.7 381.4 1124.5 383.0 1124.5 C384.7 1124.5 386.4 1124.5 388.0 1124.7 C389.7 1124.8 391.4 1125.1 393.1 1125.3 C394.7 1125.6 396.4 1126.0 398.1 1126.4 C399.7 1126.7 401.4 1127.2 403.1 1127.6 C404.7 1128.1 406.4 1128.5 408.1 1129.0 C409.7 1129.5 411.4 1129.9 413.1 1130.4 C414.7 1130.8 416.4 1131.2 418.1 1131.6 C419.7 1132.0 421.4 1132.3 423.1 1132.6 C424.7 1132.9 426.4 1133.1 428.1 1133.3 C429.7 1133.4 431.4 1133.5 433.1 1133.5 C434.7 1133.5 436.4 1133.4 438.1 1133.2 C439.8 1133.0 441.4 1132.8 443.1 1132.4 C444.8 1132.1 446.4 1131.7 448.1 1131.2 C449.8 1130.7 451.4 1130.2 453.1 1129.7 C454.8 1129.1 456.4 1128.5 458.1 1128.0 C459.8 1127.4 461.4 1126.8 463.1 1126.2 C464.8 1125.6 466.4 1125.0 468.1 1124.4 C469.8 1123.8 471.4 1123.3 473.1 1122.8 C474.8 1122.3 476.4 1121.8 478.1 1121.4 C479.8 1121.0 481.4 1120.7 483.1 1120.4 C484.8 1120.1 486.4 1119.9 488.1 1119.8 C489.8 1119.7 491.5 1119.7 493.1 1119.7 C494.8 1119.7 496.5 1119.8 498.1 1119.8 C499.8 1119.9 501.5 1120.0 503.1 1120.1 C504.8 1120.1 506.5 1120.2 508.1 1120.3 C509.8 1120.3 511.5 1120.3 513.1 1120.3 C514.8 1120.3 516.5 1120.2 518.1 1120.1 C519.8 1120.0 521.5 1119.9 523.1 1119.8 C524.8 1119.7 526.5 1119.5 528.1 1119.4 C529.8 1119.3 531.5 1119.1 533.1 1119.0 C534.8 1118.9 536.5 1118.8 538.2 1118.7 C539.8 1118.5 541.5 1118.4 543.2 1118.3 C544.8 1118.2 546.5 1118.1 548.2 1118.0 C549.8 1117.8 551.5 1117.7 553.2 1117.6 C554.8 1117.4 556.5 1117.3 558.2 1117.1 C559.8 1117.0 561.5 1116.8 563.2 1116.6 C564.8 1116.4 566.5 1116.2 568.2 1116.0 C569.8 1115.8 571.5 1115.6 573.2 1115.3 C574.8 1115.0 576.5 1114.8 578.2 1114.5 C579.8 1114.2 581.5 1113.9 583.2 1113.5 C584.9 1113.2 586.5 1112.8 588.2 1112.4 C589.9 1112.0 591.5 1111.5 593.2 1111.0 C594.9 1110.6 596.5 1110.1 598.2 1109.6 C599.9 1109.0 601.5 1108.5 603.2 1107.9 C604.9 1107.4 606.5 1106.8 608.2 1106.2 C609.9 1105.6 611.5 1104.9 613.2 1104.3 C614.9 1103.7 616.5 1103.0 618.2 1102.4 C619.9 1101.7 621.5 1101.0 623.2 1100.4 C624.9 1099.7 626.5 1099.0 628.2 1098.4 C629.9 1097.7 631.5 1097.0 633.2 1096.4 C634.9 1095.7 636.6 1095.0 638.2 1094.4 C639.9 1093.7 641.6 1093.1 643.2 1092.4 C644.9 1091.8 646.6 1091.2 648.2 1090.6 C649.9 1090.0 651.6 1089.4 653.2 1088.8 C654.9 1088.3 656.6 1087.7 658.2 1087.2 C659.9 1086.8 661.6 1086.3 663.2 1085.9 C664.9 1085.5 666.6 1085.2 668.2 1084.9 C669.9 1084.7 671.6 1084.5 673.2 1084.4 C674.9 1084.3 676.6 1084.2 678.2 1084.1 C679.9 1084.1 681.6 1084.0 683.3 1083.9 C684.9 1083.8 686.6 1083.7 688.3 1083.4 C689.9 1083.2 691.6 1082.9 693.3 1082.4 C694.9 1082.0 696.6 1081.4 698.3 1080.8 C699.9 1080.2 701.6 1079.5 703.3 1078.8 C704.9 1078.1 706.6 1077.3 708.3 1076.6 C709.9 1075.8 711.6 1075.0 713.3 1074.1 C714.9 1073.3 716.6 1072.5 718.3 1071.6 C719.9 1070.8 721.6 1069.9 723.3 1069.1 C724.9 1068.2 726.6 1067.3 728.3 1066.4 C730.0 1065.5 731.6 1064.5 733.3 1063.6 C735.0 1062.7 736.6 1061.7 738.3 1060.7 C740.0 1059.8 741.6 1058.8 743.3 1057.8 C745.0 1056.8 746.6 1055.8 748.3 1054.7 C750.0 1053.7 751.6 1052.6 753.3 1051.5 C755.0 1050.4 756.6 1049.3 758.3 1048.2 C760.0 1047.0 761.6 1045.8 763.3 1044.6 C765.0 1043.4 766.6 1042.2 768.3 1040.9 C770.0 1039.6 771.6 1038.2 773.3 1036.9 C775.0 1035.5 776.6 1034.1 778.3 1032.6 C780.0 1031.1 781.7 1029.6 783.3 1028.0 C785.0 1026.5 786.7 1024.9 788.3 1023.3 C790.0 1021.7 791.7 1020.2 793.3 1018.5 C795.0 1016.8 796.7 1015.2 798.3 1013.1 C800.0 1011.0 801.7 1008.5 803.3 1006.2 C805.0 1003.9 806.7 1001.4 808.3 999.1 C810.0 996.8 811.7 994.6 813.3 992.4 C815.0 990.2 816.7 988.0 818.3 985.8 C820.0 983.5 821.7 981.3 823.3 979.0 C825.0 976.7 826.7 974.3 828.4 971.8 C830.0 969.4 831.7 966.7 833.4 964.3 C835.0 961.9 836.7 959.4 838.4 957.2 C840.0 955.0 841.7 953.2 843.4 951.2 C845.0 949.3 846.7 947.7 848.4 945.5 C850.0 943.4 851.7 941.1 853.4 938.3 C855.0 935.6 856.7 932.4 858.4 929.1 C860.0 925.8 861.7 922.1 863.4 918.7 C865.0 915.2 866.7 911.7 868.4 908.3 C870.0 904.9 871.7 901.8 873.4 898.5 C875.1 895.2 876.7 892.1 878.4 888.6 C880.1 885.2 881.7 881.6 883.4 877.8 C885.1 874.0 886.7 869.9 888.4 865.8 C890.1 861.7 891.7 857.5 893.4 853.5 C895.1 849.5 896.7 845.6 898.4 842.0 C900.1 838.4 901.7 835.1 903.4 832.1 C905.1 829.0 906.7 826.2 908.4 823.5 C910.1 820.9 911.7 818.5 913.4 816.3 C915.1 814.0 916.7 812.0 918.4 810.1 C920.1 808.2 921.7 806.5 923.4 805.0 C925.1 803.4 926.8 802.1 928.4 800.9 C930.1 799.7 931.8 798.7 933.4 797.8 C935.1 797.0 936.8 796.3 938.4 795.8 C940.1 795.2 941.8 794.9 943.4 794.7 C945.1 794.5 946.8 794.5 948.4 794.6 C950.1 794.8 951.8 795.1 953.4 795.5 C955.1 796.0 956.8 796.7 958.4 797.4 C960.1 798.2 961.8 799.2 963.4 800.3 C965.1 801.4 966.8 802.7 968.4 804.1 C970.1 805.5 971.8 807.1 973.5 808.8 C975.1 810.4 976.8 812.3 978.5 814.2 C980.1 816.1 981.8 818.1 983.5 820.2 C985.1 822.3 986.8 824.5 988.5 826.8 C990.1 829.1 991.8 831.4 993.5 833.8 C995.1 836.2 996.8 838.6 998.5 841.1 C1000.1 843.6 1001.8 846.1 1003.5 848.7 C1005.1 851.4 1006.8 854.1 1008.5 857.1 C1010.1 860.1 1011.8 863.2 1013.5 866.6 C1015.1 870.1 1016.8 873.8 1018.5 877.7 C1020.2 881.5 1021.8 885.6 1023.5 889.5 C1025.2 893.4 1026.8 897.4 1028.5 901.1 C1030.2 904.8 1031.8 908.2 1033.5 911.5 C1035.2 914.8 1036.8 917.9 1038.5 920.9 C1040.2 923.9 1041.8 926.7 1043.5 929.6 C1045.2 932.5 1046.8 935.2 1048.5 938.0 C1050.2 940.9 1051.8 943.7 1053.5 946.5 C1055.2 949.3 1056.8 952.1 1058.5 954.8 C1060.2 957.4 1061.8 960.0 1063.5 962.5 C1065.2 964.9 1066.8 967.1 1068.5 969.4 C1070.2 971.6 1071.9 973.6 1073.5 975.7 C1075.2 977.9 1076.9 979.9 1078.5 982.0 C1080.2 984.1 1081.9 986.3 1083.5 988.5 C1085.2 990.7 1086.9 993.0 1088.5 995.2 C1090.2 997.5 1091.9 999.9 1093.5 1002.2 C1095.2 1004.5 1096.9 1006.9 1098.5 1009.2 C1100.2 1011.6 1101.9 1013.9 1103.5 1016.2 C1105.2 1018.5 1106.9 1020.7 1108.5 1022.9 C1110.2 1025.1 1111.9 1027.2 1113.5 1029.3 C1115.2 1031.3 1116.9 1033.3 1118.6 1035.2 C1120.2 1037.1 1121.9 1038.8 1123.6 1040.5 C1125.2 1042.1 1126.9 1043.7 1128.6 1045.2 C1130.2 1046.6 1131.9 1048.0 1133.6 1049.3 C1135.2 1050.7 1136.9 1052.0 1138.6 1053.2 C1140.2 1054.5 1141.9 1055.7 1143.6 1056.9 C1145.2 1058.1 1146.9 1059.3 1148.6 1060.5 C1150.2 1061.8 1151.9 1063.0 1153.6 1064.3 C1155.2 1065.5 1156.9 1066.8 1158.6 1068.1 C1160.2 1069.3 1161.9 1070.6 1163.6 1071.8 C1165.3 1073.0 1166.9 1074.1 1168.6 1075.2 C1170.3 1076.4 1171.9 1077.4 1173.6 1078.5 C1175.3 1079.5 1176.9 1080.6 1178.6 1081.6 C1180.3 1082.6 1181.9 1083.5 1183.6 1084.5 C1185.3 1085.4 1186.9 1086.3 1188.6 1087.2 C1190.3 1088.1 1191.9 1089.0 1193.6 1089.9 C1195.3 1090.7 1196.9 1091.6 1198.6 1092.4 C1200.3 1093.3 1201.9 1094.1 1203.6 1094.9 C1205.3 1095.7 1206.9 1096.5 1208.6 1097.3 C1210.3 1098.1 1211.9 1098.9 1213.6 1099.8 C1215.3 1100.6 1217.0 1101.4 1218.6 1102.2 C1220.3 1103.1 1222.0 1104.0 1223.6 1104.8 C1225.3 1105.7 1227.0 1106.6 1228.6 1107.6 C1230.3 1108.5 1232.0 1109.5 1233.6 1110.5 C1235.3 1111.5 1237.0 1112.6 1238.6 1113.7 C1240.3 1114.7 1242.0 1116.0 1243.6 1116.9 C1245.3 1117.9 1247.0 1118.8 1248.6 1119.5 C1250.3 1120.3 1252.0 1120.9 1253.6 1121.5 C1255.3 1122.2 1257.0 1122.7 1258.6 1123.3 C1260.3 1123.9 1262.0 1124.5 1263.7 1125.0 C1265.3 1125.5 1267.0 1126.0 1268.7 1126.5 C1270.3 1126.9 1272.0 1127.3 1273.7 1127.6 C1275.3 1128.0 1277.0 1128.3 1278.7 1128.6 C1280.3 1128.8 1282.0 1129.1 1283.7 1129.3 C1285.3 1129.5 1287.0 1129.6 1288.7 1129.8 C1290.3 1130.0 1292.0 1130.1 1293.7 1130.2 C1295.3 1130.4 1297.0 1130.5 1298.7 1130.6 C1300.3 1130.7 1302.0 1130.9 1303.7 1131.0 C1305.3 1131.1 1307.0 1131.2 1308.7 1131.4 C1310.4 1131.5 1312.0 1131.6 1313.7 1131.8 C1315.4 1131.9 1317.0 1132.0 1318.7 1132.2 C1320.4 1132.3 1322.0 1132.4 1323.7 1132.6 C1325.4 1132.7 1327.0 1132.9 1328.7 1133.0 C1330.4 1133.1 1332.0 1133.3 1333.7 1133.4 C1335.4 1133.6 1337.0 1133.7 1338.7 1133.9 C1340.4 1134.0 1342.0 1134.2 1343.7 1134.3 C1345.4 1134.4 1347.0 1134.6 1348.7 1134.7 C1350.4 1134.9 1352.0 1135.0 1353.7 1135.2 C1355.4 1135.3 1357.0 1135.5 1358.7 1135.6 C1360.4 1135.8 1362.1 1135.9 1363.7 1136.1 C1365.4 1136.2 1367.1 1136.3 1368.7 1136.5 C1370.4 1136.6 1372.1 1136.8 1373.7 1136.9 C1375.4 1137.1 1377.1 1137.2 1378.7 1137.3 C1380.4 1137.5 1382.1 1137.6 1383.7 1137.8 C1385.4 1137.9 1387.1 1138.0 1388.7 1138.2 C1390.4 1138.3 1392.1 1138.4 1393.7 1138.6 C1395.4 1138.7 1397.1 1138.8 1398.7 1138.9 C1400.4 1139.1 1402.1 1139.2 1403.7 1139.3 C1405.4 1139.4 1407.1 1139.5 1408.8 1139.7 C1410.4 1139.8 1412.1 1139.9 1413.8 1140.0 C1415.4 1140.1 1417.1 1140.2 1418.8 1140.3 C1420.4 1140.4 1422.1 1140.5 1423.8 1140.6 C1425.4 1140.7 1427.1 1140.8 1428.8 1140.9 C1430.4 1141.0 1432.1 1141.1 1433.8 1141.2 C1435.4 1141.3 1437.1 1141.3 1438.8 1141.4 C1440.4 1141.5 1442.1 1141.6 1443.8 1141.6 C1445.4 1141.7 1447.1 1141.8 1448.8 1141.8 C1450.4 1141.9 1452.1 1142.0 1453.8 1142.0 C1455.5 1142.1 1457.1 1142.1 1458.8 1142.2 C1460.5 1142.3 1462.1 1142.3 1463.8 1142.4 C1465.5 1142.4 1467.1 1142.5 1468.8 1142.5 C1470.5 1142.6 1472.1 1142.6 1473.8 1142.6 C1475.5 1142.7 1477.1 1142.7 1478.8 1142.8 C1480.5 1142.8 1482.1 1142.8 1483.8 1142.9 C1485.5 1142.9 1487.1 1142.9 1488.8 1143.0 C1490.5 1143.0 1492.1 1143.0 1493.8 1143.1 C1495.5 1143.1 1497.1 1143.1 1498.8 1143.2 C1500.5 1143.2 1502.1 1143.2 1503.8 1143.2 C1505.5 1143.3 1507.2 1143.3 1508.8 1143.3 C1510.5 1143.3 1512.2 1143.4 1513.8 1143.4 C1515.5 1143.4 1517.2 1143.4 1518.8 1143.5 C1520.5 1143.5 1522.2 1143.5 1523.8 1143.5 C1525.5 1143.6 1527.2 1143.6 1528.8 1143.6 C1530.5 1143.6 1532.2 1143.6 1533.8 1143.7 C1535.5 1143.7 1537.2 1143.7 1538.8 1143.7 C1540.5 1143.7 1542.2 1143.8 1543.8 1143.8 C1545.5 1143.8 1547.2 1143.8 1548.8 1143.9 C1550.5 1143.9 1552.2 1143.9 1553.9 1143.9 C1555.5 1143.9 1557.2 1144.0 1558.9 1144.0 C1560.5 1144.0 1562.2 1144.0 1563.9 1144.0 C1565.5 1144.0 1567.2 1144.1 1568.9 1144.1 C1570.5 1144.1 1572.2 1144.1 1573.9 1144.1 C1575.5 1144.2 1577.2 1144.2 1578.9 1144.2 C1580.5 1144.2 1582.2 1144.2 1583.9 1144.2 C1585.5 1144.3 1587.2 1144.3 1588.9 1144.3 C1590.5 1144.3 1592.2 1144.3 1593.9 1144.3 C1595.5 1144.4 1597.2 1144.4 1598.9 1144.4 C1600.6 1144.4 1602.2 1144.4 1603.9 1144.4 C1605.6 1144.5 1607.2 1144.5 1608.9 1144.5 C1610.6 1144.5 1612.2 1144.5 1613.9 1144.5 C1615.6 1144.5 1617.2 1144.6 1618.9 1144.6 C1620.6 1144.6 1622.2 1144.6 1623.9 1144.6 C1625.6 1144.6 1627.2 1144.6 1628.9 1144.6 C1630.6 1144.7 1632.2 1144.7 1633.9 1144.7 C1635.6 1144.7 1637.2 1144.7 1638.9 1144.7 C1640.6 1144.7 1642.2 1144.7 1643.9 1144.8 C1645.6 1144.8 1647.2 1144.8 1648.9 1144.8 C1650.6 1144.8 1652.3 1144.8 1653.9 1144.8 C1655.6 1144.8 1657.3 1144.8 1658.9 1144.8 C1660.6 1144.9 1662.3 1144.9 1663.9 1144.9 C1665.6 1144.9 1667.3 1144.9 1668.9 1144.9 C1670.6 1144.9 1672.3 1144.9 1673.9 1144.9 C1675.6 1144.9 1677.3 1144.9 1678.9 1144.9 C1680.6 1145.0 1682.3 1145.0 1683.9 1145.0 C1685.6 1145.0 1687.3 1145.0 1688.9 1145.0 C1690.6 1145.0 1692.3 1145.0 1693.9 1145.0 C1695.6 1145.0 1697.3 1145.0 1699.0 1145.0 C1700.6 1145.0 1702.3 1145.0 1704.0 1145.0 C1705.6 1145.0 1707.3 1145.0 1709.0 1145.0 C1710.6 1145.0 1712.3 1145.0 1714.0 1145.0 C1715.6 1145.0 1717.3 1145.0 1719.0 1145.1 C1720.6 1145.1 1722.3 1145.1 1724.0 1145.1 C1725.6 1145.1 1727.3 1145.1 1729.0 1145.1 C1730.6 1145.1 1732.3 1145.1 1734.0 1145.1 C1735.6 1145.1 1737.3 1145.1 1739.0 1145.1 C1740.6 1145.1 1742.3 1145.1 1744.0 1145.1 C1745.7 1145.1 1747.3 1145.1 1749.0 1145.1 C1750.7 1145.0 1752.3 1145.0 1754.0 1145.0 C1755.7 1145.0 1757.3 1145.0 1759.0 1145.0 C1760.7 1145.0 1762.3 1145.0 1764.0 1145.0 C1765.7 1145.0 1768.2 1145.0 1769.0 1145.0"/>
<path stroke="#0000ff" d="M318.0 1127.1 C318.8 1127.2 321.3 1127.2 323.0 1127.3 C324.7 1127.3 326.3 1127.3 328.0 1127.3 C329.7 1127.4 331.3 1127.4 333.0 1127.4 C334.7 1127.4 336.3 1127.3 338.0 1127.3 C339.7 1127.3 341.3 1127.3 343.0 1127.2 C344.7 1127.2 346.4 1127.2 348.0 1127.1 C349.7 1127.1 351.4 1127.1 353.0 1127.0 C354.7 1127.0 356.4 1127.0 358.0 1126.9 C359.7 1126.9 361.4 1126.8 363.0 1126.8 C364.7 1126.8 366.4 1126.7 368.0 1126.7 C369.7 1126.7 371.4 1126.7 373.0 1126.6 C374.7 1126.6 376.4 1126.6 378.0 1126.6 C379.7 1126.6 381.4 1126.6 383.0 1126.6 C384.7 1126.7 386.4 1126.7 388.0 1126.7 C389.7 1126.7 391.4 1126.7 393.1 1126.8 C394.7 1126.8 396.4 1126.8 398.1 1126.8 C399.7 1126.9 401.4 1126.9 403.1 1126.9 C404.7 1126.9 406.4 1126.9 408.1 1127.0 C409.7 1127.0 411.4 1127.0 413.1 1127.0 C414.7 1127.0 416.4 1127.0 418.1 1127.0 C419.7 1127.0 421.4 1127.0 423.1 1126.9 C424.7 1126.9 426.4 1126.9 428.1 1126.8 C429.7 1126.8 431.4 1126.7 433.1 1126.7 C434.7 1126.6 436.4 1126.5 438.1 1126.4 C439.8 1126.3 441.4 1126.2 443.1 1126.1 C444.8 1126.0 446.4 1125.8 448.1 1125.6 C449.8 1125.5 451.4 1125.3 453.1 1125.0 C454.8 1124.8 456.4 1124.6 458.1 1124.3 C459.8 1124.0 461.4 1123.7 463.1 1123.3 C464.8 1123.0 466.4 1122.6 468.1 1122.2 C469.8 1121.8 471.4 1121.3 473.1 1120.8 C474.8 1120.3 476.4 1119.8 478.1 1119.2 C479.8 1118.7 481.4 1118.0 483.1 1117.5 C484.8 1117.0 486.4 1116.5 488.1 1116.1 C489.8 1115.8 491.5 1115.5 493.1 1115.4 C494.8 1115.3 496.5 1115.4 498.1 1115.5 C499.8 1115.7 501.5 1116.1 503.1 1116.4 C504.8 1116.7 506.5 1117.2 508.1 1117.4 C509.8 1117.6 511.5 1117.8 513.1 1117.8 C514.8 1117.8 516.5 1117.6 518.1 1117.4 C519.8 1117.2 521.5 1116.9 523.1 1116.5 C524.8 1116.2 526.5 1115.7 528.1 1115.2 C529.8 1114.7 531.5 1114.2 533.1 1113.7 C534.8 1113.2 536.5 1112.6 538.2 1112.1 C539.8 1111.5 541.5 1111.0 543.2 1110.5 C544.8 1110.0 546.5 1109.5 548.2 1109.2 C549.8 1108.8 551.5 1108.4 553.2 1108.2 C554.8 1107.9 556.5 1107.7 558.2 1107.5 C559.8 1107.4 561.5 1107.3 563.2 1107.2 C564.8 1107.1 566.5 1107.0 568.2 1107.0 C569.8 1106.9 571.5 1106.9 573.2 1106.8 C574.8 1106.7 576.5 1106.7 578.2 1106.6 C579.8 1106.5 581.5 1106.4 583.2 1106.2 C584.9 1106.1 586.5 1105.9 588.2 1105.6 C589.9 1105.4 591.5 1105.1 593.2 1104.7 C594.9 1104.3 596.5 1103.9 598.2 1103.5 C599.9 1103.0 601.5 1102.6 603.2 1102.1 C604.9 1101.7 606.5 1101.2 608.2 1100.8 C609.9 1100.4 611.5 1100.0 613.2 1099.6 C614.9 1099.3 616.5 1099.0 618.2 1098.7 C619.9 1098.4 621.5 1098.2 623.2 1097.9 C624.9 1097.7 626.5 1097.5 628.2 1097.2 C629.9 1097.0 631.5 1096.8 633.2 1096.6 C634.9 1096.4 636.6 1096.1 638.2 1095.9 C639.9 1095.6 641.6 1095.4 643.2 1095.1 C644.9 1094.8 646.6 1094.5 648.2 1094.2 C649.9 1093.9 651.6 1093.5 653.2 1093.1 C654.9 1092.7 656.6 1092.2 658.2 1091.8 C659.9 1091.3 661.6 1090.8 663.2 1090.3 C664.9 1089.9 666.6 1089.4 668.2 1088.9 C669.9 1088.5 671.6 1088.0 673.2 1087.6 C674.9 1087.1 676.6 1086.7 678.2 1086.3 C679.9 1085.9 681.6 1085.5 683.3 1085.0 C684.9 1084.6 686.6 1084.2 688.3 1083.7 C689.9 1083.2 691.6 1082.8 693.3 1082.3 C694.9 1081.7 696.6 1081.2 698.3 1080.6 C699.9 1080.0 701.6 1079.4 703.3 1078.8 C704.9 1078.1 706.6 1077.4 708.3 1076.7 C709.9 1076.0 711.6 1075.3 713.3 1074.6 C714.9 1073.9 716.6 1073.2 718.3 1072.5 C719.9 1071.8 721.6 1071.1 723.3 1070.4 C724.9 1069.8 726.6 1069.1 728.3 1068.4 C730.0 1067.8 731.6 1067.1 733.3 1066.5 C735.0 1065.8 736.6 1065.2 738.3 1064.6 C740.0 1063.9 741.6 1063.3 743.3 1062.7 C745.0 1062.1 746.6 1061.6 748.3 1061.0 C750.0 1060.4 751.6 1059.8 753.3 1059.3 C755.0 1058.7 756.6 1058.1 758.3 1057.5 C760.0 1056.9 761.6 1056.3 763.3 1055.6 C765.0 1054.9 766.6 1054.1 768.3 1053.3 C770.0 1052.5 771.6 1051.7 773.3 1050.7 C775.0 1049.7 776.6 1048.7 778.3 1047.6 C780.0 1046.4 781.7 1045.1 783.3 1043.7 C785.0 1042.4 786.7 1040.8 788.3 1039.2 C790.0 1037.6 791.7 1035.9 793.3 1034.2 C795.0 1032.5 796.7 1030.8 798.3 1029.1 C800.0 1027.4 801.7 1025.8 803.3 1024.1 C805.0 1022.4 806.7 1020.7 808.3 1019.0 C810.0 1017.2 811.7 1015.4 813.3 1013.6 C815.0 1011.8 816.7 1009.9 818.3 1007.9 C820.0 1006.0 821.7 1003.9 823.3 1001.8 C825.0 999.7 826.7 997.5 828.4 995.2 C830.0 992.9 831.7 990.5 833.4 988.0 C835.0 985.5 836.7 982.9 838.4 980.1 C840.0 977.3 841.7 974.4 843.4 971.4 C845.0 968.5 846.7 965.2 848.4 962.4 C850.0 959.5 851.7 956.8 853.4 954.4 C855.0 952.0 856.7 950.2 858.4 947.9 C860.0 945.6 861.7 943.6 863.4 940.8 C865.0 938.1 866.7 934.8 868.4 931.3 C870.0 927.8 871.7 923.7 873.4 919.9 C875.1 916.1 876.7 912.1 878.4 908.4 C880.1 904.7 881.7 901.2 883.4 897.6 C885.1 894.1 886.7 890.6 888.4 886.9 C890.1 883.2 891.7 879.3 893.4 875.2 C895.1 871.1 896.7 866.6 898.4 862.2 C900.1 857.8 901.7 853.1 903.4 848.6 C905.1 844.1 906.7 839.4 908.4 835.0 C910.1 830.6 911.7 826.3 913.4 822.2 C915.1 818.2 916.7 814.4 918.4 810.7 C920.1 807.1 921.7 803.7 923.4 800.3 C925.1 796.9 926.8 793.7 928.4 790.5 C930.1 787.3 931.8 784.1 933.4 780.9 C935.1 777.7 936.8 774.5 938.4 771.3 C940.1 768.2 941.8 765.1 943.4 762.1 C945.1 759.1 946.8 756.2 948.4 753.4 C950.1 750.7 951.8 748.0 953.4 745.5 C955.1 743.0 956.8 740.7 958.4 738.6 C960.1 736.5 961.8 734.6 963.4 733.0 C965.1 731.3 966.8 729.9 968.4 728.8 C970.1 727.7 971.8 726.8 973.5 726.1 C975.1 725.5 976.8 725.1 978.5 724.9 C980.1 724.8 981.8 724.9 983.5 725.2 C985.1 725.5 986.8 726.1 988.5 726.9 C990.1 727.6 991.8 728.7 993.5 729.9 C995.1 731.1 996.8 732.6 998.5 734.3 C1000.1 735.9 1001.8 737.8 1003.5 739.9 C1005.1 742.0 1006.8 744.4 1008.5 746.9 C1010.1 749.4 1011.8 752.1 1013.5 755.0 C1015.1 757.9 1016.8 761.0 1018.5 764.3 C1020.2 767.6 1021.8 771.0 1023.5 774.7 C1025.2 778.3 1026.8 782.2 1028.5 786.2 C1030.2 790.2 1031.8 794.4 1033.5 798.7 C1035.2 803.0 1036.8 807.5 1038.5 812.0 C1040.2 816.6 1041.8 821.2 1043.5 825.8 C1045.2 830.4 1046.8 835.1 1048.5 839.6 C1050.2 844.2 1051.8 848.7 1053.5 853.1 C1055.2 857.5 1056.8 861.7 1058.5 866.0 C1060.2 870.2 1061.8 874.3 1063.5 878.4 C1065.2 882.4 1066.8 886.4 1068.5 890.4 C1070.2 894.3 1071.9 898.2 1073.5 902.0 C1075.2 905.9 1076.9 909.6 1078.5 913.3 C1080.2 917.1 1081.9 920.7 1083.5 924.3 C1085.2 927.9 1086.9 931.5 1088.5 935.0 C1090.2 938.5 1091.9 942.0 1093.5 945.4 C1095.2 948.8 1096.9 952.1 1098.5 955.4 C1100.2 958.7 1101.9 961.9 1103.5 965.0 C1105.2 968.2 1106.9 971.2 1108.5 974.2 C1110.2 977.2 1111.9 980.1 1113.5 982.9 C1115.2 985.7 1116.9 988.4 1118.6 991.1 C1120.2 993.7 1121.9 996.3 1123.6 998.8 C1125.2 1001.3 1126.9 1003.8 1128.6 1006.2 C1130.2 1008.5 1131.9 1010.9 1133.6 1013.2 C1135.2 1015.4 1136.9 1017.7 1138.6 1019.9 C1140.2 1022.1 1141.9 1024.2 1143.6 1026.3 C1145.2 1028.4 1146.9 1030.5 1148.6 1032.5 C1150.2 1034.5 1151.9 1036.4 1153.6 1038.2 C1155.2 1040.0 1156.9 1041.7 1158.6 1043.2 C1160.2 1044.8 1161.9 1046.1 1163.6 1047.4 C1165.3 1048.8 1166.9 1050.0 1168.6 1051.4 C1170.3 1052.8 1171.9 1054.3 1173.6 1055.8 C1175.3 1057.3 1176.9 1059.0 1178.6 1060.5 C1180.3 1062.0 1181.9 1063.5 1183.6 1064.8 C1185.3 1066.2 1186.9 1067.4 1188.6 1068.6 C1190.3 1069.7 1191.9 1070.8 1193.6 1071.9 C1195.3 1073.0 1196.9 1074.1 1198.6 1075.1 C1200.3 1076.2 1201.9 1077.3 1203.6 1078.4 C1205.3 1079.5 1206.9 1080.6 1208.6 1081.7 C1210.3 1082.8 1211.9 1083.9 1213.6 1085.0 C1215.3 1086.0 1217.0 1087.1 1218.6 1088.1 C1220.3 1089.0 1222.0 1089.8 1223.6 1090.7 C1225.3 1091.6 1227.0 1092.3 1228.6 1093.2 C1230.3 1094.2 1232.0 1095.1 1233.6 1096.2 C1235.3 1097.3 1237.0 1098.7 1238.6 1099.8 C1240.3 1101.0 1242.0 1102.1 1243.6 1103.1 C1245.3 1104.1 1247.0 1105.0 1248.6 1105.8 C1250.3 1106.7 1252.0 1107.4 1253.6 1108.2 C1255.3 1108.9 1257.0 1109.7 1258.6 1110.4 C1260.3 1111.1 1262.0 1111.9 1263.7 1112.6 C1265.3 1113.3 1267.0 1114.0 1268.7 1114.7 C1270.3 1115.4 1272.0 1116.1 1273.7 1116.7 C1275.3 1117.4 1277.0 1118.0 1278.7 1118.7 C1280.3 1119.3 1282.0 1119.9 1283.7 1120.5 C1285.3 1121.0 1287.0 1121.6 1288.7 1122.2 C1290.3 1122.7 1292.0 1123.2 1293.7 1123.8 C1295.3 1124.3 1297.0 1124.8 1298.7 1125.3 C1300.3 1125.8 1302.0 1126.2 1303.7 1126.7 C1305.3 1127.1 1307.0 1127.6 1308.7 1128.0 C1310.4 1128.4 1312.0 1128.9 1313.7 1129.3 C1315.4 1129.7 1317.0 1130.0 1318.7 1130.4 C1320.4 1130.8 1322.0 1131.1 1323.7 1131.5 C1325.4 1131.8 1327.0 1132.2 1328.7 1132.5 C1330.4 1132.8 1332.0 1133.1 1333.7 1133.4 C1335.4 1133.7 1337.0 1134.0 1338.7 1134.3 C1340.4 1134.6 1342.0 1134.8 1343.7 1135.1 C1345.4 1135.4 1347.0 1135.6 1348.7 1135.8 C1350.4 1136.1 1352.0 1136.3 1353.7 1136.5 C1355.4 1136.7 1357.0 1137.0 1358.7 1137.2 C1360.4 1137.4 1362.1 1137.6 1363.7 1137.7 C1365.4 1137.9 1367.1 1138.1 1368.7 1138.3 C1370.4 1138.4 1372.1 1138.6 1373.7 1138.8 C1375.4 1138.9 1377.1 1139.1 1378.7 1139.2 C1380.4 1139.4 1382.1 1139.5 1383.7 1139.6 C1385.4 1139.8 1387.1 1139.9 1388.7 1140.0 C1390.4 1140.2 1392.1 1140.3 1393.7 1140.4 C1395.4 1140.5 1397.1 1140.6 1398.7 1140.7 C1400.4 1140.8 1402.1 1140.9 1403.7 1141.1 C1405.4 1141.2 1407.1 1141.3 1408.8 1141.4 C1410.4 1141.4 1412.1 1141.5 1413.8 1141.6 C1415.4 1141.7 1417.1 1141.8 1418.8 1141.9 C1420.4 1142.0 1422.1 1142.1 1423.8 1142.2 C1425.4 1142.2 1427.1 1142.3 1428.8 1142.4 C1430.4 1142.5 1432.1 1142.6 1433.8 1142.6 C1435.4 1142.7 1437.1 1142.8 1438.8 1142.8 C1440.4 1142.9 1442.1 1143.0 1443.8 1143.0 C1445.4 1143.1 1447.1 1143.2 1448.8 1143.2 C1450.4 1143.3 1452.1 1143.4 1453.8 1143.4 C1455.5 1143.5 1457.1 1143.5 1458.8 1143.6 C1460.5 1143.6 1462.1 1143.7 1463.8 1143.7 C1465.5 1143.8 1467.1 1143.8 1468.8 1143.9 C1470.5 1143.9 1472.1 1144.0 1473.8 1144.0 C1475.5 1144.0 1477.1 1144.1 1478.8 1144.1 C1480.5 1144.2 1482.1 1144.2 1483.8 1144.2 C1485.5 1144.3 1487.1 1144.3 1488.8 1144.3 C1490.5 1144.4 1492.1 1144.4 1493.8 1144.4 C1495.5 1144.5 1497.1 1144.5 1498.8 1144.5 C1500.5 1144.5 1502.1 1144.6 1503.8 1144.6 C1505.5 1144.6 1507.2 1144.6 1508.8 1144.7 C1510.5 1144.7 1512.2 1144.7 1513.8 1144.7 C1515.5 1144.7 1517.2 1144.7 1518.8 1144.8 C1520.5 1144.8 1522.2 1144.8 1523.8 1144.8 C1525.5 1144.8 1527.2 1144.8 1528.8 1144.8 C1530.5 1144.9 1532.2 1144.9 1533.8 1144.9 C1535.5 1144.9 1537.2 1144.9 1538.8 1144.9 C1540.5 1144.9 1542.2 1144.9 1543.8 1144.9 C1545.5 1144.9 1547.2 1144.9 1548.8 1144.9 C1550.5 1144.9 1552.2 1144.9 1553.9 1144.9 C1555.5 1144.9 1557.2 1144.9 1558.9 1144.9 C1560.5 1144.9 1562.2 1144.9 1563.9 1144.9 C1565.5 1144.9 1567.2 1144.9 1568.9 1144.9 C1570.5 1144.9 1572.2 1144.9 1573.9 1144.9 C1575.5 1144.9 1577.2 1144.9 1578.9 1144.9 C1580.5 1144.9 1582.2 1144.9 1583.9 1144.9 C1585.5 1144.9 1587.2 1144.9 1588.9 1144.9 C1590.5 1144.9 1592.2 1144.9 1593.9 1144.8 C1595.5 1144.8 1597.2 1144.8 1598.9 1144.8 C1600.6 1144.8 1602.2 1144.8 1603.9 1144.8 C1605.6 1144.8 1607.2 1144.8 1608.9 1144.8 C1610.6 1144.8 1612.2 1144.8 1613.9 1144.8 C1615.6 1144.8 1617.2 1144.7 1618.9 1144.7 C1620.6 1144.7 1622.2 1144.7 1623.9 1144.7 C1625.6 1144.7 1627.2 1144.7 1628.9 1144.7 C1630.6 1144.7 1632.2 1144.7 1633.9 1144.7 C1635.6 1144.7 1637.2 1144.7 1638.9 1144.7 C1640.6 1144.7 1642.2 1144.7 1643.9 1144.7 C1645.6 1144.7 1647.2 1144.7 1648.9 1144.7 C1650.6 1144.7 1652.3 1144.7 1653.9 1144.7 C1655.6 1144.7 1657.3 1144.7 1658.9 1144.7 C1660.6 1144.7 1662.3 1144.7 1663.9 1144.7 C1665.6 1144.7 1667.3 1144.7 1668.9 1144.7 C1670.6 1144.7 1672.3 1144.7 1673.9 1144.7 C1675.6 1144.7 1677.3 1144.7 1678.9 1144.7 C1680.6 1144.7 1682.3 1144.7 1683.9 1144.7 C1685.6 1144.7 1687.3 1144.8 1688.9 1144.8 C1690.6 1144.8 1692.3 1144.8 1693.9 1144.8 C1695.6 1144.8 1697.3 1144.8 1699.0 1144.9 C1700.6 1144.9 1702.3 1144.9 1704.0 1144.9 C1705.6 1144.9 1707.3 1145.0 1709.0 1145.0 C1710.6 1145.0 1712.3 1145.0 1714.0 1145.0 C1715.6 1145.1 1717.3 1145.1 1719.0 1145.1 C1720.6 1145.2 1722.3 1145.2 1724.0 1145.2 C1725.6 1145.3 1727.3 1145.3 1729.0 1145.3 C1730.6 1145.4 1732.3 1145.4 1734.0 1145.4 C1735.6 1145.5 1737.3 1145.5 1739.0 1145.6 C1740.6 1145.6 1742.3 1145.6 1744.0 1145.7 C1745.7 1145.7 1747.3 1145.8 1749.0 1145.8 C1750.7 1145.9 1752.3 1145.9 1754.0 1146.0 C1755.7 1146.1 1757.3 1146.1 1759.0 1146.2 C1760.7 1146.2 1762.3 1146.3 1764.0 1146.4 C1765.7 1146.4 1768.2 1146.5 1769.0 1146.5"/>
<path stroke="#ff8000" d="M318.0 1131.0 C318.8 1131.0 321.3 1130.9 323.0 1130.8 C324.7 1130.8 326.3 1130.8 328.0 1130.8 C329.7 1130.9 331.3 1130.9 333.0 1130.9 C334.7 1131.0 336.3 1131.1 338.0 1131.2 C339.7 1131.2 341.3 1131.3 343.0 1131.4 C344.7 1131.5 346.4 1131.6 348.0 1131.7 C349.7 1131.8 351.4 1131.9 353.0 1132.0 C354.7 1132.1 356.4 1132.2 358.0 1132.3 C359.7 1132.4 361.4 1132.4 363.0 1132.5 C364.7 1132.5 366.4 1132.6 368.0 1132.6 C369.7 1132.6 371.4 1132.6 373.0 1132.6 C374.7 1132.6 376.4 1132.5 378.0 1132.4 C379.7 1132.3 381.4 1132.2 383.0 1132.1 C384.7 1132.0 386.4 1131.8 388.0 1131.7 C389.7 1131.5 391.4 1131.3 393.1 1131.1 C394.7 1130.9 396.4 1130.6 398.1 1130.4 C399.7 1130.2 401.4 1129.9 403.1 1129.7 C404.7 1129.4 406.4 1129.1 408.1 1128.9 C409.7 1128.6 411.4 1128.3 413.1 1128.0 C414.7 1127.7 416.4 1127.4 418.1 1127.1 C419.7 1126.9 421.4 1126.6 423.1 1126.3 C424.7 1126.0 426.4 1125.7 428.1 1125.4 C429.7 1125.2 431.4 1124.9 433.1 1124.6 C434.7 1124.3 436.4 1124.1 438.1 1123.8 C439.8 1123.6 441.4 1123.3 443.1 1123.0 C444.8 1122.8 446.4 1122.5 448.1 1122.3 C449.8 1122.1 451.4 1121.8 453.1 1121.6 C454.8 1121.3 456.4 1121.1 458.1 1120.9 C459.8 1120.7 461.4 1120.4 463.1 1120.2 C464.8 1120.0 466.4 1119.8 468.1 1119.6 C469.8 1119.4 471.4 1119.1 473.1 1118.9 C474.8 1118.7 476.4 1118.5 478.1 1118.3 C479.8 1118.1 481.4 1117.9 483.1 1117.7 C484.8 1117.6 486.4 1117.4 488.1 1117.1 C489.8 1116.9 491.5 1116.7 493.1 1116.5 C494.8 1116.3 496.5 1116.1 498.1 1115.8 C499.8 1115.6 501.5 1115.3 503.1 1115.1 C504.8 1114.8 506.5 1114.5 508.1 1114.2 C509.8 1113.9 511.5 1113.6 513.1 1113.2 C514.8 1112.9 516.5 1112.6 518.1 1112.2 C519.8 1111.9 521.5 1111.6 523.1 1111.4 C524.8 1111.1 526.5 1110.9 528.1 1110.8 C529.8 1110.6 531.5 1110.6 533.1 1110.6 C534.8 1110.6 536.5 1110.7 538.2 1110.8 C539.8 1110.9 541.5 1111.1 543.2 1111.2 C544.8 1111.4 546.5 1111.6 548.2 1111.9 C549.8 1112.1 551.5 1112.3 553.2 1112.5 C554.8 1112.7 556.5 1112.8 558.2 1113.0 C559.8 1113.1 561.5 1113.2 563.2 1113.2 C564.8 1113.2 566.5 1113.2 568.2 1113.1 C569.8 1113.0 571.5 1112.7 573.2 1112.5 C574.8 1112.2 576.5 1111.8 578.2 1111.4 C579.8 1111.0 581.5 1110.5 583.2 1110.0 C584.9 1109.6 586.5 1109.1 588.2 1108.6 C589.9 1108.1 591.5 1107.7 593.2 1107.3 C594.9 1106.8 596.5 1106.5 598.2 1106.1 C599.9 1105.7 601.5 1105.4 603.2 1105.1 C604.9 1104.7 606.5 1104.4 608.2 1104.2 C609.9 1103.9 611.5 1103.6 613.2 1103.4 C614.9 1103.1 616.5 1102.9 618.2 1102.7 C619.9 1102.5 621.5 1102.3 623.2 1102.1 C624.9 1101.9 626.5 1101.8 628.2 1101.6 C629.9 1101.5 631.5 1101.3 633.2 1101.2 C634.9 1101.0 636.6 1100.9 638.2 1100.8 C639.9 1100.7 641.6 1100.6 643.2 1100.4 C644.9 1100.3 646.6 1100.2 648.2 1100.1 C649.9 1100.0 651.6 1099.9 653.2 1099.8 C654.9 1099.7 656.6 1099.6 658.2 1099.4 C659.9 1099.3 661.6 1099.1 663.2 1098.9 C664.9 1098.7 666.6 1098.5 668.2 1098.2 C669.9 1097.9 671.6 1097.6 673.2 1097.2 C674.9 1096.8 676.6 1096.4 678.2 1095.8 C679.9 1095.3 681.6 1094.7 683.3 1094.0 C684.9 1093.3 686.6 1092.5 688.3 1091.7 C689.9 1090.8 691.6 1089.7 693.3 1088.7 C694.9 1087.7 696.6 1086.5 698.3 1085.4 C699.9 1084.4 701.6 1083.3 703.3 1082.4 C704.9 1081.4 706.6 1080.6 708.3 1079.7 C709.9 1078.9 711.6 1078.1 713.3 1077.4 C714.9 1076.7 716.6 1076.0 718.3 1075.3 C719.9 1074.6 721.6 1074.0 723.3 1073.4 C724.9 1072.8 726.6 1072.2 728.3 1071.6 C730.0 1071.0 731.6 1070.4 733.3 1069.9 C735.0 1069.3 736.6 1068.7 738.3 1068.1 C740.0 1067.5 741.6 1066.9 743.3 1066.2 C745.0 1065.6 746.6 1064.9 748.3 1064.2 C750.0 1063.5 751.6 1062.7 753.3 1061.9 C755.0 1061.1 756.6 1060.3 758.3 1059.3 C760.0 1058.4 761.6 1057.5 763.3 1056.4 C765.0 1055.3 766.6 1054.2 768.3 1053.0 C770.0 1051.8 771.6 1050.5 773.3 1049.1 C775.0 1047.7 776.6 1046.2 778.3 1044.6 C780.0 1043.0 781.7 1041.3 783.3 1039.5 C785.0 1037.7 786.7 1035.7 788.3 1033.8 C790.0 1031.9 791.7 1030.2 793.3 1028.2 C795.0 1026.2 796.7 1024.2 798.3 1022.0 C800.0 1019.8 801.7 1017.2 803.3 1014.8 C805.0 1012.5 806.7 1010.1 808.3 1007.8 C810.0 1005.5 811.7 1003.4 813.3 1001.0 C815.0 998.7 816.7 996.4 818.3 993.8 C820.0 991.3 821.7 988.6 823.3 985.7 C825.0 982.8 826.7 979.7 828.4 976.4 C830.0 973.2 831.7 969.7 833.4 966.4 C835.0 963.1 836.7 959.8 838.4 956.7 C840.0 953.5 841.7 950.4 843.4 947.3 C845.0 944.1 846.7 941.1 848.4 937.8 C850.0 934.6 851.7 931.4 853.4 927.9 C855.0 924.4 856.7 920.9 858.4 917.0 C860.0 913.2 861.7 909.1 863.4 904.8 C865.0 900.5 866.7 895.9 868.4 891.3 C870.0 886.8 871.7 882.1 873.4 877.4 C875.1 872.7 876.7 868.1 878.4 863.3 C880.1 858.4 881.7 853.5 883.4 848.2 C885.1 843.0 886.7 837.3 888.4 831.8 C890.1 826.2 891.7 820.4 893.4 815.0 C895.1 809.5 896.7 804.0 898.4 798.9 C900.1 793.8 901.7 789.0 903.4 784.3 C905.1 779.6 906.7 775.2 908.4 770.8 C910.1 766.4 911.7 762.2 913.4 758.0 C915.1 753.7 916.7 749.5 918.4 745.3 C920.1 741.1 921.7 737.0 923.4 733.0 C925.1 729.0 926.8 725.0 928.4 721.2 C930.1 717.4 931.8 713.8 933.4 710.3 C935.1 706.8 936.8 703.5 938.4 700.5 C940.1 697.4 941.8 694.6 943.4 692.0 C945.1 689.5 946.8 687.1 948.4 685.2 C950.1 683.2 951.8 681.5 953.4 680.1 C955.1 678.7 956.8 677.7 958.4 677.0 C960.1 676.2 961.8 675.8 963.4 675.8 C965.1 675.7 966.8 676.0 968.4 676.6 C970.1 677.2 971.8 678.2 973.5 679.4 C975.1 680.6 976.8 682.2 978.5 683.9 C980.1 685.7 981.8 687.8 983.5 690.1 C985.1 692.5 986.8 695.0 988.5 697.8 C990.1 700.6 991.8 703.7 993.5 706.9 C995.1 710.1 996.8 713.6 998.5 717.2 C1000.1 720.8 1001.8 724.6 1003.5 728.5 C1005.1 732.4 1006.8 736.6 1008.5 740.8 C1010.1 745.0 1011.8 749.4 1013.5 753.8 C1015.1 758.3 1016.8 762.9 1018.5 767.6 C1020.2 772.3 1021.8 777.0 1023.5 782.0 C1025.2 786.9 1026.8 792.0 1028.5 797.2 C1030.2 802.4 1031.8 807.8 1033.5 813.3 C1035.2 818.7 1036.8 824.4 1038.5 830.0 C1040.2 835.5 1041.8 841.1 1043.5 846.5 C1045.2 851.8 1046.8 857.1 1048.5 862.1 C1050.2 867.2 1051.8 872.0 1053.5 876.7 C1055.2 881.4 1056.8 886.0 1058.5 890.4 C1060.2 894.8 1061.8 899.1 1063.5 903.3 C1065.2 907.4 1066.8 911.5 1068.5 915.4 C1070.2 919.4 1071.9 923.2 1073.5 927.0 C1075.2 930.7 1076.9 934.3 1078.5 937.9 C1080.2 941.5 1081.9 944.9 1083.5 948.3 C1085.2 951.7 1086.9 955.1 1088.5 958.3 C1090.2 961.6 1091.9 964.8 1093.5 967.9 C1095.2 971.0 1096.9 974.1 1098.5 977.1 C1100.2 980.1 1101.9 983.0 1103.5 985.9 C1105.2 988.8 1106.9 991.6 1108.5 994.3 C1110.2 997.1 1111.9 999.8 1113.5 1002.4 C1115.2 1005.0 1116.9 1007.6 1118.6 1010.0 C1120.2 1012.5 1121.9 1014.9 1123.6 1017.3 C1125.2 1019.6 1126.9 1021.9 1128.6 1024.1 C1130.2 1026.3 1131.9 1028.5 1133.6 1030.5 C1135.2 1032.6 1136.9 1034.6 1138.6 1036.5 C1140.2 1038.4 1141.9 1040.3 1143.6 1042.0 C1145.2 1043.8 1146.9 1045.5 1148.6 1047.1 C1150.2 1048.7 1151.9 1050.3 1153.6 1051.8 C1155.2 1053.3 1156.9 1054.7 1158.6 1056.0 C1160.2 1057.4 1161.9 1058.7 1163.6 1060.0 C1165.3 1061.3 1166.9 1062.5 1168.6 1063.7 C1170.3 1064.9 1171.9 1066.1 1173.6 1067.3 C1175.3 1068.5 1176.9 1069.7 1178.6 1070.9 C1180.3 1072.1 1181.9 1073.3 1183.6 1074.6 C1185.3 1075.8 1186.9 1077.1 1188.6 1078.4 C1190.3 1079.7 1191.9 1081.0 1193.6 1082.3 C1195.3 1083.7 1196.9 1085.0 1198.6 1086.4 C1200.3 1087.7 1201.9 1089.0 1203.6 1090.2 C1205.3 1091.5 1206.9 1092.7 1208.6 1093.8 C1210.3 1094.9 1211.9 1096.0 1213.6 1096.9 C1215.3 1097.8 1217.0 1098.6 1218.6 1099.4 C1220.3 1100.2 1222.0 1100.9 1223.6 1101.7 C1225.3 1102.4 1227.0 1103.2 1228.6 1104.0 C1230.3 1104.8 1232.0 1105.7 1233.6 1106.6 C1235.3 1107.5 1237.0 1108.4 1238.6 1109.3 C1240.3 1110.3 1242.0 1111.2 1243.6 1112.2 C1245.3 1113.1 1247.0 1114.0 1248.6 1115.0 C1250.3 1115.9 1252.0 1116.8 1253.6 1117.7 C1255.3 1118.5 1257.0 1119.3 1258.6 1120.1 C1260.3 1120.9 1262.0 1121.6 1263.7 1122.3 C1265.3 1123.0 1267.0 1123.7 1268.7 1124.3 C1270.3 1125.0 1272.0 1125.6 1273.7 1126.1 C1275.3 1126.7 1277.0 1127.2 1278.7 1127.7 C1280.3 1128.2 1282.0 1128.7 1283.7 1129.2 C1285.3 1129.6 1287.0 1130.0 1288.7 1130.5 C1290.3 1130.9 1292.0 1131.3 1293.7 1131.7 C1295.3 1132.0 1297.0 1132.4 1298.7 1132.8 C1300.3 1133.1 1302.0 1133.5 1303.7 1133.8 C1305.3 1134.1 1307.0 1134.5 1308.7 1134.8 C1310.4 1135.1 1312.0 1135.4 1313.7 1135.7 C1315.4 1136.0 1317.0 1136.3 1318.7 1136.5 C1320.4 1136.8 1322.0 1137.1 1323.7 1137.3 C1325.4 1137.6 1327.0 1137.8 1328.7 1138.1 C1330.4 1138.3 1332.0 1138.6 1333.7 1138.8 C1335.4 1139.0 1337.0 1139.2 1338.7 1139.4 C1340.4 1139.6 1342.0 1139.8 1343.7 1140.0 C1345.4 1140.2 1347.0 1140.4 1348.7 1140.6 C1350.4 1140.8 1352.0 1140.9 1353.7 1141.1 C1355.4 1141.3 1357.0 1141.4 1358.7 1141.6 C1360.4 1141.7 1362.1 1141.9 1363.7 1142.0 C1365.4 1142.2 1367.1 1142.3 1368.7 1142.4 C1370.4 1142.6 1372.1 1142.7 1373.7 1142.8 C1375.4 1142.9 1377.1 1143.1 1378.7 1143.2 C1380.4 1143.3 1382.1 1143.4 1383.7 1143.5 C1385.4 1143.6 1387.1 1143.7 1388.7 1143.8 C1390.4 1143.9 1392.1 1144.0 1393.7 1144.1 C1395.4 1144.2 1397.1 1144.3 1398.7 1144.4 C1400.4 1144.4 1402.1 1144.5 1403.7 1144.6 C1405.4 1144.7 1407.1 1144.8 1408.8 1144.8 C1410.4 1144.9 1412.1 1145.0 1413.8 1145.1 C1415.4 1145.1 1417.1 1145.2 1418.8 1145.3 C1420.4 1145.3 1422.1 1145.4 1423.8 1145.5 C1425.4 1145.5 1427.1 1145.6 1428.8 1145.7 C1430.4 1145.7 1432.1 1145.8 1433.8 1145.8 C1435.4 1145.9 1437.1 1145.9 1438.8 1146.0 C1440.4 1146.1 1442.1 1146.1 1443.8 1146.2 C1445.4 1146.2 1447.1 1146.3 1448.8 1146.3 C1450.4 1146.4 1452.1 1146.4 1453.8 1146.4 C1455.5 1146.5 1457.1 1146.5 1458.8 1146.6 C1460.5 1146.6 1462.1 1146.7 1463.8 1146.7 C1465.5 1146.7 1467.1 1146.8 1468.8 1146.8 C1470.5 1146.9 1472.1 1146.9 1473.8 1146.9 C1475.5 1147.0 1477.1 1147.0 1478.8 1147.0 C1480.5 1147.1 1482.1 1147.1 1483.8 1147.1 C1485.5 1147.2 1487.1 1147.2 1488.8 1147.2 C1490.5 1147.2 1492.1 1147.3 1493.8 1147.3 C1495.5 1147.3 1497.1 1147.3 1498.8 1147.4 C1500.5 1147.4 1502.1 1147.4 1503.8 1147.4 C1505.5 1147.5 1507.2 1147.5 1508.8 1147.5 C1510.5 1147.5 1512.2 1147.6 1513.8 1147.6 C1515.5 1147.6 1517.2 1147.6 1518.8 1147.6 C1520.5 1147.7 1522.2 1147.7 1523.8 1147.7 C1525.5 1147.7 1527.2 1147.7 1528.8 1147.7 C1530.5 1147.8 1532.2 1147.8 1533.8 1147.8 C1535.5 1147.8 1537.2 1147.8 1538.8 1147.8 C1540.5 1147.9 1542.2 1147.9 1543.8 1147.9 C1545.5 1147.9 1547.2 1147.9 1548.8 1147.9 C1550.5 1147.9 1552.2 1147.9 1553.9 1148.0 C1555.5 1148.0 1557.2 1148.0 1558.9 1148.0 C1560.5 1148.0 1562.2 1148.0 1563.9 1148.0 C1565.5 1148.0 1567.2 1148.0 1568.9 1148.1 C1570.5 1148.1 1572.2 1148.1 1573.9 1148.1 C1575.5 1148.1 1577.2 1148.1 1578.9 1148.1 C1580.5 1148.1 1582.2 1148.1 1583.9 1148.1 C1585.5 1148.1 1587.2 1148.1 1588.9 1148.2 C1590.5 1148.2 1592.2 1148.2 1593.9 1148.2 C1595.5 1148.2 1597.2 1148.2 1598.9 1148.2 C1600.6 1148.2 1602.2 1148.2 1603.9 1148.2 C1605.6 1148.2 1607.2 1148.2 1608.9 1148.2 C1610.6 1148.2 1612.2 1148.2 1613.9 1148.2 C1615.6 1148.2 1617.2 1148.2 1618.9 1148.2 C1620.6 1148.3 1622.2 1148.3 1623.9 1148.3 C1625.6 1148.3 1627.2 1148.3 1628.9 1148.3 C1630.6 1148.3 1632.2 1148.3 1633.9 1148.3 C1635.6 1148.3 1637.2 1148.3 1638.9 1148.3 C1640.6 1148.3 1642.2 1148.3 1643.9 1148.3 C1645.6 1148.3 1647.2 1148.3 1648.9 1148.3 C1650.6 1148.3 1652.3 1148.3 1653.9 1148.3 C1655.6 1148.3 1657.3 1148.3 1658.9 1148.3 C1660.6 1148.3 1662.3 1148.3 1663.9 1148.3 C1665.6 1148.3 1667.3 1148.3 1668.9 1148.3 C1670.6 1148.3 1672.3 1148.3 1673.9 1148.3 C1675.6 1148.3 1677.3 1148.3 1678.9 1148.3 C1680.6 1148.3 1682.3 1148.3 1683.9 1148.3 C1685.6 1148.4 1687.3 1148.4 1688.9 1148.4 C1690.6 1148.4 1692.3 1148.4 1693.9 1148.4 C1695.6 1148.4 1697.3 1148.4 1699.0 1148.4 C1700.6 1148.4 1702.3 1148.4 1704.0 1148.4 C1705.6 1148.4 1707.3 1148.4 1709.0 1148.4 C1710.6 1148.4 1712.3 1148.4 1714.0 1148.4 C1715.6 1148.4 1717.3 1148.4 1719.0 1148.4 C1720.6 1148.4 1722.3 1148.4 1724.0 1148.4 C1725.6 1148.4 1727.3 1148.4 1729.0 1148.5 C1730.6 1148.5 1732.3 1148.5 1734.0 1148.5 C1735.6 1148.5 1737.3 1148.5 1739.0 1148.5 C1740.6 1148.5 1742.3 1148.5 1744.0 1148.5 C1745.7 1148.5 1747.3 1148.5 1749.0 1148.5 C1750.7 1148.5 1752.3 1148.6 1754.0 1148.6 C1755.7 1148.6 1757.3 1148.6 1759.0 1148.6 C1760.7 1148.6 1762.3 1148.6 1764.0 1148.6 C1765.7 1148.6 1768.2 1148.6 1769.0 1148.6"/>
</g>
<path fill="none" stroke="#000" stroke-width="8.4" d="M381.0 1261.2V1237.5 M712.1 1261.2V1237.5 M1043.2 1261.2V1237.5 M1374.3 1261.2V1237.5 M1705.4 1261.2V1237.5 M546.5 1261.2V1249.0 M877.7 1261.2V1249.0 M1208.8 1261.2V1249.0 M1539.8 1261.2V1249.0 M314.6 342.1H338.3 M314.6 604.7H338.3 M314.6 867.3H338.3 M314.6 1129.9H338.3 M314.6 210.8H326.8 M314.6 473.4H326.8 M314.6 736.0H326.8 M314.6 998.6H326.8 M1771.4 946.0H1747.7 M1771.4 630.9H1747.7 M1771.4 315.7H1747.7"/>
<rect x="314.6" y="79.5" width="1456.8" height="1181.7" fill="none" stroke="#000" stroke-width="8.4"/>
<g font-family="'Liberation Serif','Times New Roman',serif" font-size="79" fill="#000"><text transform="translate(290.2 102.8) scale(0.980 1.030)" text-anchor="end">4000</text><text transform="translate(290.2 365.4) scale(0.980 1.030)" text-anchor="end">2000</text><text transform="translate(290.2 628.0) scale(0.980 1.030)" text-anchor="end">0</text><text transform="translate(290.2 890.6) scale(0.980 1.030)" text-anchor="end">-2000</text><text transform="translate(290.2 1153.2) scale(0.980 1.030)" text-anchor="end">-4000</text><text transform="translate(381.0 1347.0) scale(0.980 1.030)" text-anchor="middle">-50</text><text transform="translate(712.1 1347.0) scale(0.980 1.030)" text-anchor="middle">0</text><text transform="translate(1043.2 1347.0) scale(0.980 1.030)" text-anchor="middle">50</text><text transform="translate(1374.3 1347.0) scale(0.980 1.030)" text-anchor="middle">100</text><text transform="translate(1705.4 1347.0) scale(0.980 1.030)" text-anchor="middle">150</text><text transform="translate(1797.5 1283.7) scale(0.980 1.030)" text-anchor="start">0.0</text><text transform="translate(1797.5 968.5) scale(0.980 1.030)" text-anchor="start">0.4</text><text transform="translate(1797.5 653.4) scale(0.980 1.030)" text-anchor="start">0.8</text><text transform="translate(1797.5 338.2) scale(0.980 1.030)" text-anchor="start">1.2</text></g>
<g font-family="'Liberation Serif','Times New Roman',serif" font-weight="bold" fill="#000">
<text x="1107" y="1425" font-size="83" text-anchor="middle">Temperature (°C)</text>
<text transform="translate(117,622) rotate(-90)" font-size="83" text-anchor="middle">E&#39; (MPa)</text>
<text transform="translate(1953,639) rotate(-90)" font-size="83" text-anchor="middle">Tan δ</text>
</g>
<g font-family="'Liberation Serif','Times New Roman',serif" font-weight="bold" font-size="55" fill="#000">
<path d="M1300.6 138.9H1424.6" stroke="#ff00ff" stroke-width="6.4" stroke-linecap="round"/>
<text x="1439" y="157.9">MATEO−1</text>
<path d="M1300.6 208.4H1424.6" stroke="#0000ff" stroke-width="6.4" stroke-linecap="round"/>
<text x="1439" y="227.4">MATEO−2</text>
<path d="M1300.6 277.8H1424.6" stroke="#ff8000" stroke-width="6.4" stroke-linecap="round"/>
<text x="1439" y="296.8">MATEO−3</text>
<path d="M1300.6 347.9H1424.6" stroke="#000000" stroke-width="6.4" stroke-linecap="round"/>
<text x="1439" y="366.9">AESO</text>
</g>
</svg>
</body></html>
